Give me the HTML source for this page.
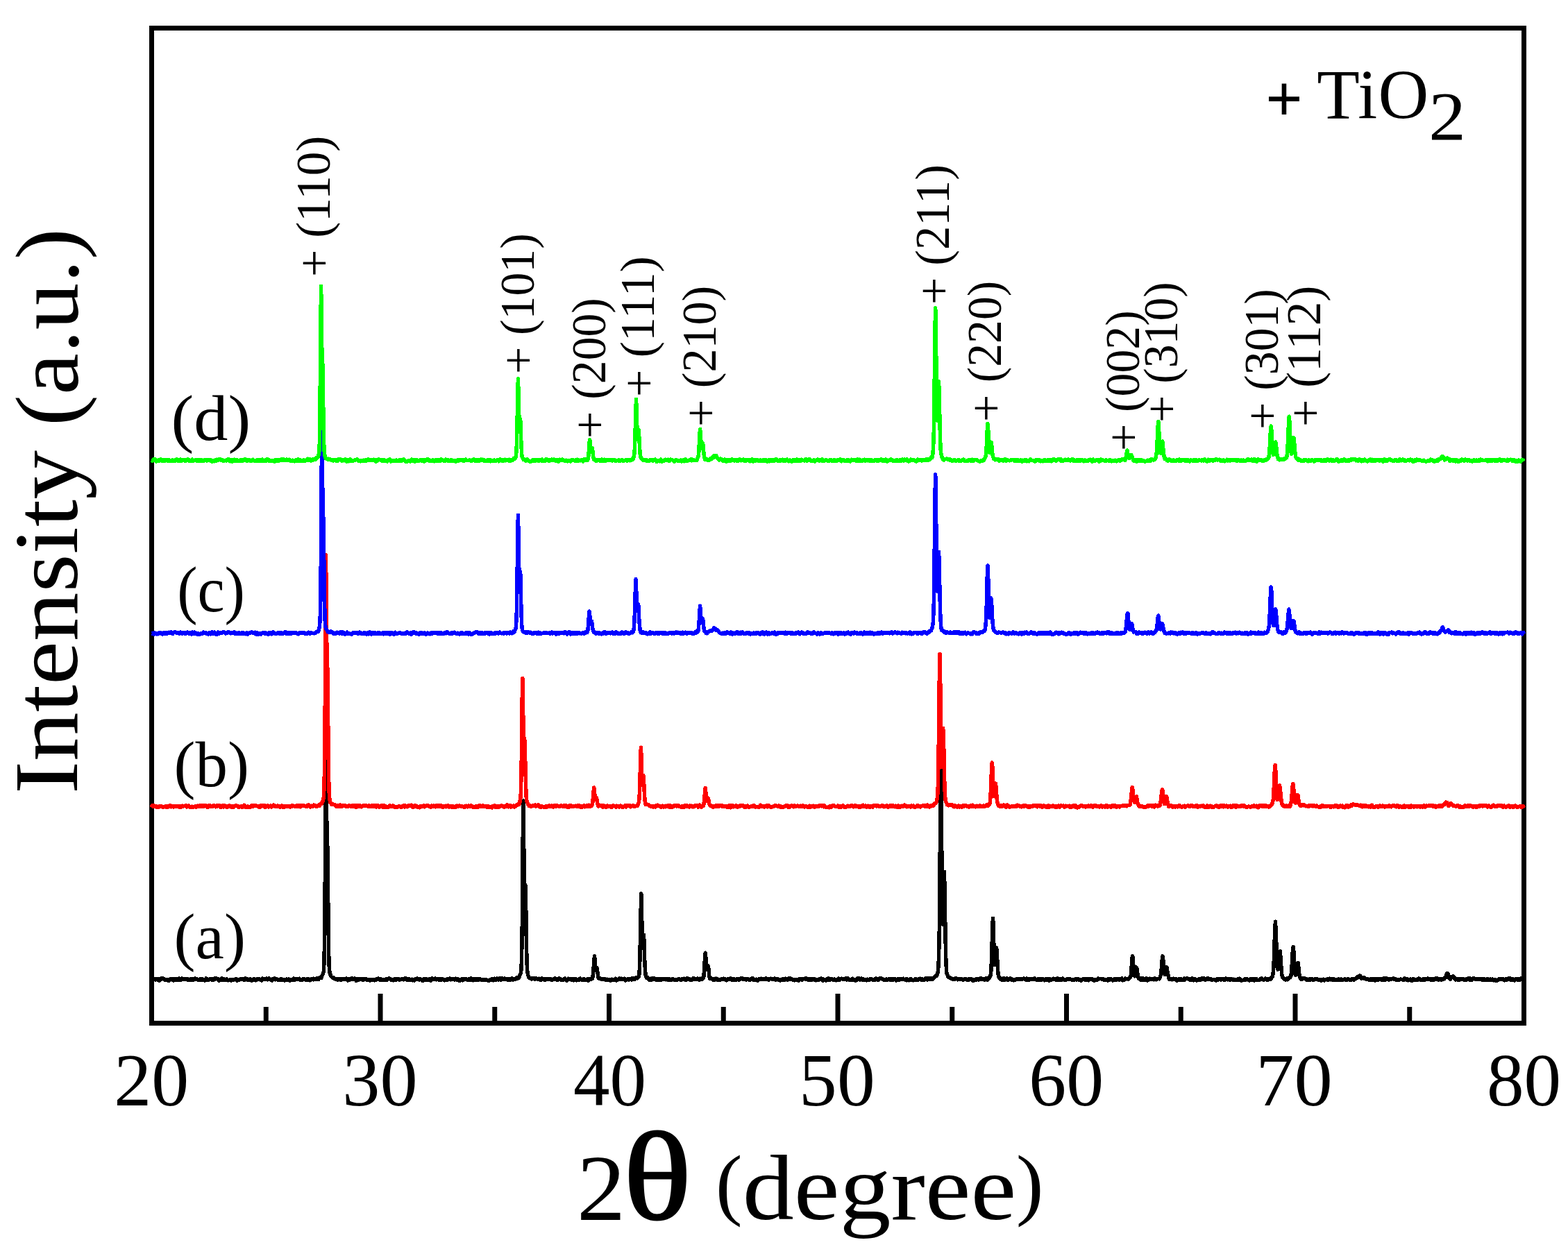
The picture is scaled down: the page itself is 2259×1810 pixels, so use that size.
<!DOCTYPE html><html><head><meta charset="utf-8"><style>html,body{margin:0;padding:0;background:#fff;}svg{display:block}text{font-family:"Liberation Serif",serif;fill:#000}</style></head><body>
<svg width="2259" height="1810" viewBox="0 0 2259 1810">
<rect width="2259" height="1810" fill="#fff"/>
<rect x="218.5" y="40.5" width="1977" height="1434" fill="none" stroke="#000" stroke-width="7"/>
<path d="M218.5 1411.4l0.7 0.6 0.6 0.6 0.7 -0.8 0.6 -0.2 0.7 -0.1 0.7 -0.7 0.6 0.6 0.7 0.7 0.6 -0.1 0.7 -1.4 0.6 -0.3 0.7 0.3 0.7 1.5 0.6 -0.2 0.7 -1 0.6 1.8 0.7 0.5 0.7 -0.8 0.6 -0.8 0.7 -1.3 0.6 -0.3 0.7 0.8 0.7 -0.6 0.6 -0.1 0.7 0.1 0.6 -0.1 0.7 0.9 0.7 0.6 0.6 0.7 0.7 -0.4 0.6 0 0.7 -0.2 0.6 0.2 0.7 -0.6 0.7 0 0.6 1.7 0.7 0.4 0.6 -0.5 0.7 -0.8 0.7 -1.1 0.6 -0.5 0.7 -0.1 0.6 0.1 0.7 1.2 0.7 0.1 0.6 0.4 0.7 -0.3 0.6 0.9 0.7 -0.5 0.6 -2 0.7 0.4 0.7 1.6 0.6 -0.1 0.7 0.4 0.6 -1.3 0.7 -0.9 0.7 1.3 0.6 0.4 0.7 -1.3 0.6 -0.7 0.7 1 0.7 1.6 0.6 -0.5 0.7 -1.7 0.6 -0.3 0.7 -0.3 0.7 0.4 0.6 1.3 0.7 -0.6 0.6 0.3 0.7 -0.1 0.6 -0.3 0.7 0.6 0.7 -0.6 0.6 0.3 0.7 -0.6 0.6 0.1 0.7 -0.2 0.7 0.6 0.6 1.6 0.7 -0.2 0.6 -0.9 0.7 0.5 0.7 -1.1 0.6 0.3 0.7 1.1 0.6 -0.6 0.7 -0.8 0.7 1.1 0.6 -1.1 0.7 -0.1 0.6 0.9 0.7 -0.7 0.6 -0.6 0.7 -0.6 0.7 0.3 0.6 0.9 0.7 -0.1 0.6 0.4 0.7 -0.2 0.7 0.5 0.6 0.9 0.7 -0.7 0.6 0.1 0.7 0.2 0.7 -1.5 0.6 0 0.7 1.8 0.6 -0.1 0.7 -1.5 0.6 -0.2 0.7 1.5 0.7 0.3 0.6 -1 0.7 1.2 0.6 0.2 0.7 -0.9 0.7 -0.9 0.6 -1.1 0.7 0.4 0.6 1.6 0.7 -0.6 0.7 0.2 0.6 -0.3 0.7 0.9 0.6 -0.4 0.7 -1 0.7 -0.1 0.6 0.7 0.7 -1 0.6 0.1 0.7 1.2 0.6 0.8 0.7 -0.6 0.7 -0.5 0.6 0.7 0.7 -1.4 0.6 -0.9 0.7 0.7 0.7 0.3 0.6 -0.7 0.7 0.1 0.6 0.8 0.7 0.3 0.7 -0.8 0.6 0.7 0.7 1.6 0.6 0.4 0.7 -0.8 0.7 -0.2 0.6 -0.6 0.7 -1.3 0.6 -0.7 0.7 0.6 0.6 2.1 0.7 0.4 0.7 -0.3 0.6 -1.6 0.7 0.6 0.6 0.4 0.7 0.1 0.7 -0.3 0.6 0.6 0.7 -1.3 0.6 0.5 0.7 1.1 0.7 0.4 0.6 -0.3 0.7 -0.2 0.6 0.3 0.7 0 0.6 -1.1 0.7 0.6 0.7 0.8 0.6 -0.3 0.7 -0.9 0.6 0.7 0.7 0.2 0.7 -0.6 0.6 -0.3 0.7 -0.4 0.6 0.3 0.7 -0.2 0.7 -0.9 0.6 1.3 0.7 1.3 0.6 -0.2 0.7 -0.7 0.7 -0.7 0.6 0.5 0.7 -0.3 0.6 -0.1 0.7 0.2 0.6 -1 0.7 0.5 0.7 -0.8 0.6 0.7 0.7 0 0.6 -0.3 0.7 0.8 0.7 -0.1 0.6 0.4 0.7 0.3 0.6 -1.6 0.7 -0.9 0.7 0.8 0.6 0.8 0.7 -0.9 0.6 0.1 0.7 1.7 0.6 -0.2 0.7 -0.4 0.7 0.5 0.6 -0.8 0.7 0 0.6 -0.7 0.7 0.5 0.7 1.2 0.6 0.6 0.7 -0.4 0.6 -1.1 0.7 -0.2 0.7 -0.6 0.6 -0.4 0.7 1.1 0.6 1.1 0.7 0.2 0.7 -0.1 0.6 -0.1 0.7 -1.6 0.6 -0.6 0.7 0.5 0.6 -0.3 0.7 -0.1 0.7 0.6 0.6 0.6 0.7 -0.3 0.6 -0.1 0.7 1.3 0.7 0.3 0.6 -1.5 0.7 -1.4 0.6 0.3 0.7 1.3 0.7 -0.8 0.6 0.9 0.7 0 0.6 -0.4 0.7 0.3 0.6 -1.4 0.7 -0.1 0.7 0.6 0.6 -0.2 0.7 1.2 0.6 -0.9 0.7 -0.8 0.7 0.1 0.6 1.3 0.7 0.2 0.6 0.3 0.7 0.3 0.7 0.6 0.6 0.2 0.7 -0.9 0.6 -1.3 0.7 0.1 0.7 -0.7 0.6 -0.3 0.7 1.3 0.6 0.5 0.7 -1.1 0.6 -0.1 0.7 0.6 0.7 0.7 0.6 0 0.7 0.2 0.6 0.1 0.7 -0.4 0.7 0.7 0.6 0 0.7 -1.3 0.6 1.3 0.7 -0.3 0.7 -1.4 0.6 0.4 0.7 1 0.6 0.4 0.7 -1 0.7 0.3 0.6 0.9 0.7 0.2 0.6 -0.1 0.7 -0.9 0.6 -0.4 0.7 -0.5 0.7 1 0.6 0.5 0.7 -0.3 0.6 -0.3 0.7 -0.7 0.7 1.4 0.6 0.8 0.7 -0.3 0.6 -0.9 0.7 -0.2 0.7 -0.4 0.6 1 0.7 -0.1 0.6 -1.5 0.7 -0.8 0.6 0.8 0.7 0.7 0.7 0.4 0.6 -0.9 0.7 -0.7 0.6 0.9 0.7 -0.6 0.7 0.7 0.6 -0.8 0.7 0.2 0.6 0.8 0.7 -1.3 0.7 -0.2 0.6 1.1 0.7 0.9 0.6 0.4 0.7 -0.1 0.7 0.1 0.6 -0.5 0.7 0 0.6 -1.7 0.7 -0.1 0.6 0.7 0.7 0 0.7 0.8 0.6 0.1 0.7 -0.1 0.6 0.4 0.7 -0.6 0.7 -0.9 0.6 0.4 0.7 1.2 0.6 0 0.7 -1.2 0.7 1.1 0.6 0.5 0.7 -1 0.6 -0.6 0.7 -0.6 0.6 0.4 0.7 0.3 0.7 -0.3 0.6 -0.6 0.7 1.5 0.6 -0.5 0.7 -0.4 0.7 0.7 0.6 -0.4 0.7 -0.3 0.6 -0.1 0.7 -1.1 0.7 0.4 0.6 0.4 0.7 1.1 0.6 -0.3 0.7 -1.7 0.7 -0.5 0.6 -0.7 0.7 0.4 0.6 0.9 0.7 -0.4 0.6 -1.9 0.7 -1.9 0.7 -1.5 0.6 -1 0.7 -3.4 0.6 -11.4 0.7 -33.2 0.7 -88.4 0.6 -134.3 0.6 -70.6 0.7 66.6 0.7 68.3 0.7 12.2 0.6 35.2 0.7 71.2 0.6 54.6 0.7 22.9 0.7 8.1 0.6 2.6 0.7 1.6 0.6 1.8 0.7 0.8 0.6 0.5 0.7 0.6 0.7 0.3 0.6 -0.5 0.7 0.4 0.6 1.3 0.7 0.5 0.7 0.1 0.6 0.6 0.7 0 0.6 0 0.7 -0.9 0.7 0.9 0.6 0.7 0.7 -0.1 0.6 -1.4 0.7 0.1 0.6 1 0.7 -0.6 0.7 1.3 0.6 -0.2 0.7 -1.9 0.6 0.1 0.7 0.9 0.7 -0.9 0.6 -0.1 0.7 1.3 0.6 -0.1 0.7 0.1 0.7 -1.1 0.6 0.4 0.7 0.4 0.6 -1.3 0.7 0.3 0.7 1.6 0.6 1 0.7 -0.4 0.6 -1.7 0.7 0.4 0.6 0.8 0.7 -0.3 0.7 -0.1 0.6 -1.2 0.7 -0.7 0.6 -0.1 0.7 0.3 0.7 1.2 0.6 0.4 0.7 -0.2 0.6 -1 0.7 -0.2 0.7 0.6 0.6 1.7 0.7 0.9 0.6 -0.8 0.7 -2.1 0.6 -0.1 0.7 1.8 0.7 -0.2 0.6 0 0.7 -0.7 0.6 0 0.7 0.2 0.7 -0.1 0.6 -0.1 0.7 -0.7 0.6 1.3 0.7 0.4 0.7 -1.3 0.6 0.4 0.7 0.6 0.6 -0.8 0.7 -0.8 0.7 0.1 0.6 0.4 0.7 -0.2 0.6 1.7 0.7 0.4 0.6 -0.2 0.7 0.1 0.7 -0.6 0.6 -0.6 0.7 0.2 0.6 0.3 0.7 1 0.7 -0.5 0.6 -1 0.7 1.1 0.6 0.1 0.7 0 0.7 -0.2 0.6 -0.6 0.7 0.9 0.6 0.2 0.7 -0.4 0.7 0 0.6 -0.2 0.7 -0.7 0.6 0 0.7 -1.2 0.6 0.3 0.7 0.1 0.7 -0.7 0.6 0.7 0.7 1 0.6 -0.1 0.7 -0.4 0.7 1.2 0.6 -0.4 0.7 -0.8 0.6 0.5 0.7 0 0.7 -0.3 0.6 0.1 0.7 1.1 0.6 -0.3 0.7 -0.1 0.6 0.4 0.7 -0.2 0.7 -1.7 0.6 0.8 0.7 0.4 0.6 -1 0.7 -0.4 0.7 -0.6 0.6 0.2 0.7 0.4 0.6 -0.4 0.7 0.7 0.7 1.4 0.6 -0.4 0.7 0 0.6 0.8 0.7 -0.3 0.7 0.5 0.6 -0.4 0.7 -0.5 0.6 -1.2 0.7 0.8 0.6 0.2 0.7 -0.9 0.7 1 0.6 -0.9 0.7 -0.2 0.6 -0.2 0.7 0.7 0.7 0.1 0.6 -0.6 0.7 1.4 0.6 -0.5 0.7 -0.1 0.7 0 0.6 -0.6 0.7 0 0.6 0.7 0.7 -0.1 0.7 -0.4 0.6 0.5 0.7 -1 0.6 -0.8 0.7 0.2 0.6 -0.3 0.7 0.6 0.7 1.3 0.6 0 0.7 0.9 0.6 -0.5 0.7 -1.1 0.7 1.7 0.6 -0.1 0.7 -1.5 0.6 1 0.7 -0.5 0.7 0.2 0.6 0.6 0.7 -1.1 0.6 0.4 0.7 1.1 0.6 -0.4 0.7 -0.4 0.7 0.9 0.6 -0.1 0.7 -1.1 0.6 -1 0.7 0.7 0.7 -0.2 0.6 -0.9 0.7 -0.2 0.6 0.8 0.7 -0.4 0.7 0.7 0.6 0.6 0.7 -0.5 0.6 -0.4 0.7 0.5 0.7 0.2 0.6 0.5 0.7 0.1 0.6 0.9 0.7 0.1 0.6 -1 0.7 -1.5 0.7 -0.1 0.6 1.8 0.7 0.2 0.6 -0.7 0.7 -0.9 0.7 -0.1 0.6 0.9 0.7 0.1 0.6 0 0.7 0.2 0.7 -0.1 0.6 -1.3 0.7 0.3 0.6 1.8 0.7 0.4 0.6 -0.8 0.7 -2.1 0.7 -0.5 0.6 0.7 0.7 0.7 0.6 0.2 0.7 -0.8 0.7 0.3 0.6 -0.8 0.7 0.1 0.6 1.4 0.7 0.3 0.7 -0.2 0.6 -0.4 0.7 -0.2 0.6 -0.5 0.7 0.5 0.7 1.1 0.6 0 0.7 -1.8 0.6 0 0.7 1.6 0.6 0.3 0.7 -0.3 0.7 -1.1 0.6 -0.1 0.7 0.3 0.6 0.8 0.7 -0.4 0.7 0.7 0.6 0.5 0.7 -1.2 0.6 0.2 0.7 0.8 0.7 0.2 0.6 -1.2 0.7 -0.7 0.6 -0.1 0.7 1 0.7 -1.3 0.6 -0.3 0.7 1.2 0.6 0.3 0.7 0.2 0.6 -0.4 0.7 0.2 0.7 -1.2 0.6 0.1 0.7 0.8 0.6 -0.9 0.7 0.4 0.7 1.2 0.6 0 0.7 -1.2 0.6 -0.5 0.7 0.7 0.7 0.8 0.6 -0.8 0.7 -0.4 0.6 1.1 0.7 0.5 0.6 0.7 0.7 0.4 0.7 -0.5 0.6 -0.9 0.7 0.1 0.6 -0.9 0.7 -0.3 0.7 0.6 0.6 1.4 0.7 -0.2 0.6 -1.5 0.7 -0.3 0.7 0.1 0.6 0 0.7 0.1 0.6 -0.2 0.7 -0.1 0.7 0.9 0.6 0.7 0.7 -0.2 0.6 0.3 0.7 -0.8 0.6 -0.7 0.7 1.3 0.7 0.3 0.6 -1.7 0.7 -0.7 0.6 1 0.7 0.5 0.7 0.5 0.6 0.7 0.7 -0.3 0.6 -0.5 0.7 -1.3 0.7 0.8 0.6 0.4 0.7 -1.6 0.6 0 0.7 1.7 0.6 0.3 0.7 -1.4 0.7 0.2 0.6 -0.2 0.7 1 0.6 -0.1 0.7 -1.1 0.7 0.1 0.6 1.1 0.7 0 0.6 0.1 0.7 -0.7 0.7 0 0.6 1.3 0.7 -0.3 0.6 -0.7 0.7 0.1 0.7 0.5 0.6 0.3 0.7 0.1 0.6 -0.8 0.7 0.5 0.6 0.1 0.7 0.3 0.7 0.1 0.6 0 0.7 0.3 0.6 -0.1 0.7 -0.8 0.7 -0.4 0.6 0.4 0.7 0.1 0.6 -0.9 0.7 -0.5 0.7 -0.2 0.6 1.4 0.7 0.6 0.6 -1.5 0.7 -1 0.7 0.1 0.6 0.5 0.7 0.4 0.6 0.8 0.7 -1.5 0.6 -0.3 0.7 0.2 0.7 1.3 0.6 0.2 0.7 -1.5 0.6 -0.4 0.7 1 0.7 0.9 0.6 0.2 0.7 -1.9 0.6 -0.5 0.7 0.3 0.7 0.1 0.6 0.5 0.7 1.1 0.6 -0.2 0.7 -1.1 0.6 -0.3 0.7 0.1 0.7 0.3 0.6 1 0.7 -0.5 0.6 0.4 0.7 0.6 0.7 -0.8 0.6 -0.3 0.7 1.4 0.6 0.1 0.7 -1.3 0.7 0.3 0.6 0.8 0.7 -1.1 0.6 -1.2 0.7 0 0.7 2 0.6 0 0.7 -1.1 0.6 -0.1 0.7 -0.2 0.6 -0.1 0.7 1.2 0.7 -0.7 0.6 -1.7 0.7 -0.7 0.6 0.7 0.7 0.2 0.7 0.6 0.6 -0.4 0.7 -1.3 0.6 -1.9 0.7 -1.3 0.7 -1.2 0.6 -2 0.7 -4.9 0.6 -18.3 0.7 -46.5 0.6 -82.9 0.7 -82.4 0.3 -12.8 0.4 14.3 0.6 71.9 0.7 48.9 0.6 -1 0.7 -13.2 0.7 24.9 0.6 45.4 0.7 35.2 0.6 17.2 0.7 5.1 0.7 2.7 0.6 2 0.7 1.7 0.6 0.3 0.7 0.4 0.7 -0.4 0.6 0.7 0.7 0.1 0.6 0.5 0.7 -0.9 0.6 0.7 0.7 -0.5 0.7 0.4 0.6 0 0.7 -0.3 0.6 1 0.7 -0.7 0.7 -0.6 0.6 -0.3 0.7 0.5 0.6 0.9 0.7 0.5 0.7 -0.4 0.6 0 0.7 -0.9 0.6 0.3 0.7 0.9 0.6 1.2 0.7 0 0.7 -1.1 0.6 -1.5 0.7 0.7 0.6 0.8 0.7 -0.7 0.7 0.4 0.6 -0.4 0.7 -0.4 0.6 2 0.7 -0.2 0.7 -1.3 0.6 0.3 0.7 -0.4 0.6 0.1 0.7 0.3 0.7 -0.5 0.6 0 0.7 0.4 0.6 0.4 0.7 -0.9 0.6 0 0.7 1 0.7 -0.1 0.6 0.9 0.7 -0.3 0.6 -0.2 0.7 -0.5 0.7 0.3 0.6 -1.4 0.7 -0.5 0.6 0.4 0.7 1.5 0.7 0.1 0.6 -1.1 0.7 0.5 0.6 1.1 0.7 -0.7 0.7 -1.4 0.6 -0.1 0.7 -0.1 0.6 0.1 0.7 0.4 0.6 0.1 0.7 1.5 0.7 -0.5 0.6 -0.1 0.7 0.5 0.6 0.5 0.7 -0.1 0.7 -1.1 0.6 -0.5 0.7 -0.1 0.6 -0.6 0.7 0.8 0.7 1.4 0.6 0.8 0.7 -0.4 0.6 -0.5 0.7 -0.8 0.6 -1.2 0.7 0.3 0.7 0.5 0.6 0.4 0.7 -0.9 0.6 0.3 0.7 0.8 0.7 0.8 0.6 0.2 0.7 -0.9 0.6 -0.8 0.7 1.3 0.7 0.5 0.6 -0.9 0.7 -0.7 0.6 -0.1 0.7 -0.3 0.7 1.4 0.6 0.7 0.7 -0.7 0.6 0.2 0.7 -0.1 0.6 -0.9 0.7 1.1 0.7 -0.5 0.6 -1.5 0.7 -0.5 0.6 0.6 0.7 1 0.7 0.3 0.6 -0.3 0.7 0.7 0.6 -0.8 0.7 -0.5 0.7 -0.1 0.6 1.1 0.7 -0.7 0.6 0.9 0.7 -0.3 0.6 -0.2 0.7 -0.3 0.7 -0.2 0.6 1.4 0.7 0.6 0.6 -0.6 0.7 -1.1 0.7 -0.9 0.6 0.9 0.7 -0.3 0.6 0.4 0.7 -1 0.7 0.2 0.6 -0.1 0.7 -2.3 0.6 -3.5 0.7 -8.6 0.7 -11.7 0.7 -6.8 0.6 6.4 0.6 9.9 0.7 4.2 0.6 -1.9 0.7 -1.8 0.7 2.4 0.6 5.1 0.7 5.2 0.6 2.6 0.7 -0.7 0.7 0.4 0.6 0.7 0.7 -0.2 0.6 0.5 0.7 0.4 0.7 -0.5 0.6 0.4 0.7 -0.1 0.6 0.4 0.7 -0.1 0.7 0.1 0.6 -0.7 0.7 0.7 0.6 -0.1 0.7 1.3 0.6 -0.3 0.7 -0.7 0.7 -0.1 0.6 0.6 0.7 0.4 0.6 0.2 0.7 -0.2 0.7 -0.2 0.6 0.9 0.7 0.1 0.6 -0.5 0.7 -1.1 0.7 -0.2 0.6 0.6 0.7 0.7 0.6 -0.7 0.7 -0.4 0.6 0.2 0.7 0.6 0.7 -1.3 0.6 -0.6 0.7 1.6 0.6 0.9 0.7 -0.4 0.7 -0.4 0.6 -0.1 0.7 -0.7 0.6 -0.1 0.7 -1 0.7 -0.1 0.6 0.9 0.7 0.4 0.6 -0.6 0.7 -0.4 0.7 1.2 0.6 -0.1 0.7 -0.8 0.6 0 0.7 0.1 0.6 -0.5 0.7 0.2 0.7 2 0.6 0.6 0.7 -0.6 0.6 -0.1 0.7 -0.6 0.7 0 0.6 -0.7 0.7 0.7 0.6 0.2 0.7 0 0.7 -1.1 0.6 0.5 0.7 -0.8 0.6 0.8 0.7 0.5 0.7 -1.8 0.6 -0.2 0.7 0.3 0.6 -0.2 0.7 0 0.6 1.7 0.7 0.1 0.7 -1.3 0.6 -0.4 0.7 -0.1 0.6 -1.4 0.7 -0.1 0.7 1.3 0.6 -1.2 0.7 -0.6 0.6 -0.4 0.7 -4.4 0.7 -13.8 0.6 -28.5 0.7 -40.8 0.8 -32.1 0.5 11.8 0.6 35.1 0.7 25.8 0.7 0.2 0.6 -12.6 0.7 -0.8 0.6 19.7 0.7 21 0.7 11.7 0.6 5.9 0.7 2 0.6 1.6 0.7 -1 0.7 0.4 0.6 1.5 0.7 0.2 0.6 1.2 0.7 0.5 0.7 -0.8 0.6 -1.1 0.7 1.2 0.6 0.8 0.7 -1.3 0.6 -1.2 0.7 0.2 0.7 0.7 0.6 0.7 0.7 -1 0.6 -0.4 0.7 0.5 0.7 1.3 0.6 0.3 0.7 -0.7 0.6 0.6 0.7 0.6 0.7 -0.9 0.6 -1.1 0.7 0.5 0.6 1.4 0.7 -0.5 0.6 -0.9 0.7 0.2 0.7 -0.3 0.6 1.3 0.7 -0.6 0.6 -0.2 0.7 -0.3 0.7 -0.7 0.6 0.7 0.7 -0.4 0.6 0.1 0.7 0.8 0.7 -1.2 0.6 0.3 0.7 1 0.6 -0.9 0.7 -0.1 0.7 0.4 0.6 -0.1 0.7 1.6 0.6 0 0.7 -2 0.6 0.5 0.7 0.8 0.7 -0.2 0.6 0.7 0.7 -0.9 0.6 -0.8 0.7 0.7 0.7 0.3 0.6 -0.4 0.7 0.7 0.6 0.3 0.7 -0.6 0.7 0.1 0.6 0.7 0.7 -0.3 0.6 -0.2 0.7 0.3 0.7 -1.1 0.6 0.4 0.7 -0.7 0.6 0.3 0.7 -0.4 0.6 0.5 0.7 1 0.7 0.3 0.6 -0.4 0.7 -1.2 0.6 0 0.7 -0.2 0.7 0.6 0.6 -0.3 0.7 -0.7 0.6 1.1 0.7 0.6 0.7 0 0.6 0.1 0.7 -1.5 0.6 -0.8 0.7 0 0.6 1.1 0.7 0.2 0.7 -0.2 0.6 0 0.7 0.6 0.6 -0.7 0.7 1.2 0.7 -0.1 0.6 -0.2 0.7 0.2 0.6 -1.3 0.7 -0.6 0.7 0.1 0.6 -0.3 0.7 0.7 0.6 0.9 0.7 -0.2 0.7 -0.4 0.6 0.1 0.7 -0.4 0.6 0.9 0.7 -1 0.6 -0.4 0.7 0.3 0.7 1.3 0.6 0.7 0.7 -0.6 0.6 -1.6 0.7 0.1 0.7 0 0.6 0.1 0.7 0.8 0.6 -1.6 0.7 0.1 0.7 0.1 0.6 -3.2 0.7 -9 0.6 -11.3 0.7 -10.1 0.3 -3.1 0.3 2.3 0.7 11.2 0.7 8.3 0.6 2.7 0.7 -2.8 0.6 -3.4 0.7 1.2 0.7 6.5 0.6 7.6 0.7 3.3 0.6 0.6 0.7 -0.7 0.7 0.1 0.6 0.6 0.7 -0.2 0.6 0.7 0.7 1 0.7 -1 0.6 0 0.7 1.3 0.6 -0.8 0.7 -1.4 0.6 0.6 0.7 0.5 0.7 -1.1 0.6 0.6 0.7 1.2 0.6 0.5 0.7 -0.3 0.7 0.2 0.6 -0.9 0.7 -0.1 0.6 0.7 0.7 -0.5 0.7 0.2 0.6 -1 0.7 -0.3 0.6 0.1 0.7 0.4 0.6 -0.6 0.7 -0.2 0.7 0.3 0.6 0.5 0.7 -0.1 0.6 0.7 0.7 1.2 0.7 -0.2 0.6 -0.3 0.7 -1.4 0.6 -0.3 0.7 -0.1 0.7 1 0.6 -0.4 0.7 -0.7 0.6 -0.6 0.7 0.3 0.7 0.4 0.6 0.9 0.7 1.2 0.6 -0.4 0.7 -1.2 0.6 -0.4 0.7 0.3 0.7 1.3 0.6 -0.5 0.7 0.5 0.6 0.4 0.7 -0.3 0.7 -1.8 0.6 0 0.7 0.2 0.6 0 0.7 1.2 0.7 -0.3 0.6 0.4 0.7 -0.6 0.6 -1.1 0.7 0.3 0.7 -0.3 0.6 -0.5 0.7 0.5 0.6 0.7 0.7 -0.8 0.6 0.4 0.7 0.6 0.7 0 0.6 -0.4 0.7 0.7 0.6 -0.3 0.7 0.8 0.7 -0.2 0.6 -1.3 0.7 -0.2 0.6 0.6 0.7 0.9 0.7 -0.5 0.6 0.1 0.7 0.7 0.6 -1.2 0.7 -0.3 0.6 0.1 0.7 -0.4 0.7 -0.6 0.6 0.3 0.7 1.5 0.6 0.5 0.7 0.7 0.7 0.1 0.6 -1.3 0.7 0.6 0.6 0.3 0.7 -1.1 0.7 0.6 0.6 0.5 0.7 0.7 0.6 -0.5 0.7 -1.4 0.7 0.1 0.6 -0.8 0.7 0.4 0.6 -0.1 0.7 -0.6 0.6 0.5 0.7 0.3 0.7 0.2 0.6 -0.6 0.7 -0.2 0.6 0.5 0.7 0.2 0.7 -0.3 0.6 0.6 0.7 -0.8 0.6 -0.5 0.7 0.6 0.7 0.2 0.6 -0.3 0.7 1 0.6 0.5 0.7 -0.1 0.7 -0.4 0.6 -1.2 0.7 0.3 0.6 0 0.7 -0.5 0.6 0.3 0.7 -0.2 0.7 0.9 0.6 0.5 0.7 -0.4 0.6 -0.5 0.7 -0.5 0.7 -0.3 0.6 1 0.7 1.4 0.6 -0.6 0.7 -0.7 0.7 0.3 0.6 -0.6 0.7 0.4 0.6 0.9 0.7 0.5 0.6 -1 0.7 0.3 0.7 1 0.6 -0.3 0.7 -0.5 0.6 -0.3 0.7 -0.5 0.7 -0.3 0.6 0.1 0.7 1.3 0.6 0.2 0.7 -0.7 0.7 0.1 0.6 -1.6 0.7 -0.2 0.6 0.8 0.7 -0.1 0.7 0.5 0.6 0.9 0.7 -1.5 0.6 -0.6 0.7 0.5 0.6 0.8 0.7 -0.9 0.7 -0.6 0.6 1.1 0.7 -0.1 0.6 -0.3 0.7 0.7 0.7 0.5 0.6 -0.1 0.7 0.1 0.6 0.1 0.7 0.8 0.7 0 0.6 -1.5 0.7 0 0.6 0.9 0.7 -0.7 0.6 0.5 0.7 0.3 0.7 0.2 0.6 0.6 0.7 -0.7 0.6 -1.4 0.7 0.5 0.7 0.1 0.6 -0.1 0.7 -0.5 0.6 0 0.7 1 0.7 -0.4 0.6 -1 0.7 -0.1 0.6 0.1 0.7 -0.1 0.7 0.4 0.6 -0.7 0.7 -0.5 0.6 0 0.7 0.6 0.6 1 0.7 -0.7 0.7 0.7 0.6 0.8 0.7 -0.7 0.6 -0.5 0.7 1.5 0.7 -0.1 0.6 -1.8 0.7 0 0.6 1 0.7 0.6 0.7 -0.5 0.6 0.1 0.7 -0.5 0.6 0.5 0.7 -0.6 0.6 0 0.7 1.2 0.7 0.5 0.6 -0.1 0.7 -0.8 0.6 -0.4 0.7 0.5 0.7 0.2 0.6 0.5 0.7 -0.5 0.6 -1.5 0.7 0.3 0.7 0.6 0.6 -0.9 0.7 -0.6 0.6 0 0.7 1.6 0.7 1.4 0.6 -0.4 0.7 -1.6 0.6 0.5 0.7 -0.1 0.6 0.2 0.7 0 0.7 1.2 0.6 -0.2 0.7 -1.8 0.6 0.4 0.7 -1 0.7 -0.5 0.6 1 0.7 1.5 0.6 0.3 0.7 -1.8 0.7 -0.5 0.6 -0.1 0.7 1 0.6 0.2 0.7 -0.4 0.7 0.1 0.6 1.3 0.7 0 0.6 -1.3 0.7 0 0.6 0.8 0.7 0.7 0.7 0.2 0.6 -1 0.7 0.1 0.6 0.1 0.7 0 0.7 -1.4 0.6 -0.6 0.7 0.6 0.6 1.4 0.7 -0.8 0.7 -0.3 0.6 -0.5 0.7 -0.1 0.6 -0.1 0.7 0.7 0.6 -0.2 0.7 0.6 0.7 -0.5 0.6 -0.2 0.7 0.5 0.6 -0.2 0.7 -0.5 0.7 -0.6 0.6 0.5 0.7 1.6 0.6 -0.9 0.7 -1 0.7 0.3 0.6 1.3 0.7 0.9 0.6 -1 0.7 0.6 0.7 -0.4 0.6 -0.2 0.7 0.6 0.6 -1 0.7 -0.8 0.6 1.1 0.7 0.6 0.7 -0.3 0.6 -0.3 0.7 1.3 0.6 0.5 0.7 -0.2 0.7 -1 0.6 0.5 0.7 -0.5 0.6 -1.5 0.7 -0.8 0.7 0.2 0.6 0 0.7 0.1 0.6 1 0.7 0.8 0.7 -0.6 0.6 -0.3 0.7 -0.9 0.6 0.7 0.7 1.3 0.6 -1.3 0.7 0.7 0.7 1.1 0.6 0.2 0.7 -0.5 0.6 -0.5 0.7 0.7 0.7 0.4 0.6 0 0.7 -0.2 0.6 -1.3 0.7 0.9 0.7 -0.4 0.6 -0.1 0.7 -0.3 0.6 0.5 0.7 -1.2 0.6 0.3 0.7 -0.2 0.7 0 0.6 0.4 0.7 0.8 0.6 0.3 0.7 -0.8 0.7 0.1 0.6 -0.6 0.7 0.1 0.6 1 0.7 -1.1 0.7 -0.8 0.6 0.7 0.7 0.8 0.6 -0.6 0.7 0.8 0.7 0 0.6 -0.2 0.7 -1.2 0.6 -0.6 0.7 0.2 0.6 0.6 0.7 0 0.7 -0.5 0.6 0.8 0.7 0.1 0.6 -0.1 0.7 0.8 0.7 0.6 0.6 -1 0.7 0.6 0.6 -0.5 0.7 0.1 0.7 -0.5 0.6 1.2 0.7 -0.2 0.6 0.2 0.7 -1.2 0.6 0.1 0.7 0.4 0.7 -1 0.6 0.2 0.7 1.3 0.6 0.5 0.7 -1.5 0.7 -0.7 0.6 0.8 0.7 1.1 0.6 -1.2 0.7 0.3 0.7 0 0.6 0.1 0.7 -0.6 0.6 0.9 0.7 1 0.7 0 0.6 -0.7 0.7 -0.5 0.6 -0.3 0.7 -0.5 0.6 1.3 0.7 0 0.7 -0.5 0.6 0.1 0.7 -0.4 0.6 -0.5 0.7 -0.1 0.7 0.8 0.6 0.2 0.7 -0.6 0.6 -0.8 0.7 1 0.7 0.1 0.6 0.3 0.7 0.4 0.6 0.2 0.7 -1.5 0.6 0.6 0.7 1.4 0.7 -0.6 0.6 -0.9 0.7 0.9 0.6 0.5 0.7 -0.9 0.7 0.1 0.6 -0.8 0.7 1.2 0.6 -0.8 0.7 -0.5 0.7 1.1 0.6 0.3 0.7 0.4 0.6 0 0.7 -0.4 0.7 -0.4 0.6 0.2 0.7 -1.3 0.6 1.1 0.7 -0.1 0.6 -0.8 0.7 0.7 0.7 -0.4 0.6 0.2 0.7 0.3 0.6 -1.3 0.7 -0.1 0.7 0.5 0.6 -0.7 0.7 0.9 0.6 0.7 0.7 -0.7 0.7 -0.5 0.6 1.3 0.7 0.5 0.6 -0.4 0.7 -0.3 0.7 0.6 0.6 -0.6 0.7 -1.5 0.6 -0.3 0.7 -0.6 0.6 -0.1 0.7 1.1 0.7 1.5 0.6 -0.3 0.7 -1.8 0.6 -0.3 0.7 0.9 0.7 1 0.6 0 0.7 -0.3 0.6 -1.1 0.7 0.8 0.7 -1 0.6 0.5 0.7 0.7 0.6 -0.9 0.7 -1.3 0.6 0.3 0.7 -0.9 0.7 -1.4 0.6 -0.1 0.7 -0.2 0.6 -0.5 0.7 -1.6 0.7 -1.1 0.6 -2.9 0.7 -7.5 0.6 -16 0.7 -36 0.7 -69 0.6 -91.8 0.7 -67.3 0.2 -4.2 0.4 19 0.7 78.2 0.7 80.7 0.6 45.4 0.7 0 0.6 -31.8 0.7 -37.4 0.6 -6.3 0.7 34.4 0.7 46 0.6 36 0.7 19.5 0.6 9 0.7 2.8 0.7 1.5 0.6 1.6 0.7 1.4 0.6 -0.3 0.7 0.5 0.7 -0.2 0.6 0.5 0.7 0.3 0.6 0.9 0.7 -0.3 0.7 0.9 0.6 0 0.7 -0.2 0.6 0.7 0.7 -0.6 0.6 0.4 0.7 -0.2 0.7 -0.7 0.6 -0.8 0.7 0.5 0.6 0.2 0.7 0.7 0.7 0.9 0.6 -0.8 0.7 0.4 0.6 0 0.7 -1 0.7 -0.1 0.6 0.1 0.7 1.1 0.6 -0.8 0.7 -0.1 0.6 0.3 0.7 1.2 0.7 0.3 0.6 -0.7 0.7 -0.7 0.6 -0.5 0.7 1 0.7 -1.1 0.6 0 0.7 0.6 0.6 0.8 0.7 -0.1 0.7 -0.4 0.6 1.2 0.7 -0.2 0.6 -1.8 0.7 0.7 0.7 0 0.6 -0.3 0.7 0 0.6 0 0.7 0.7 0.6 0.5 0.7 0.8 0.7 0.4 0.6 -0.5 0.7 -1.1 0.6 0.4 0.7 0 0.7 0.2 0.6 0 0.7 -1.8 0.6 0.2 0.7 0.4 0.7 0.2 0.6 -0.2 0.7 0.9 0.6 -1.2 0.7 -0.5 0.6 -0.2 0.7 0.7 0.7 0.5 0.6 -1.3 0.7 0.1 0.6 1.2 0.7 0.4 0.7 -0.1 0.6 -0.7 0.7 0.9 0.6 0.2 0.7 -0.5 0.7 -1.4 0.6 -0.1 0.7 -0.3 0.6 1.7 0.7 0.8 0.7 -1 0.6 -2.1 0.7 -0.1 0.6 0.4 0.7 -0.8 0.6 -1.5 0.7 -1.4 0.7 -6.3 0.6 -12.8 0.7 -21.7 0.6 -25.1 0.8 -16.5 0.6 8.6 0.6 24.4 0.7 22.1 0.6 12 0.7 -0.9 0.7 -9 0.6 -11.5 0.7 -3.4 0.6 8.8 0.7 13.3 0.7 11 0.6 6.7 0.7 2.1 0.6 1.9 0.7 0.1 0.6 1.5 0.7 -0.3 0.7 -0.4 0.6 0.8 0.7 1 0.6 0.1 0.7 -1.6 0.7 -1.2 0.6 0.6 0.7 1.7 0.6 0.4 0.7 -0.5 0.7 -1.1 0.6 0.1 0.7 -0.9 0.6 0 0.7 1.1 0.6 1.6 0.7 -0.1 0.7 -0.4 0.6 -1.5 0.7 0 0.6 -0.4 0.7 0 0.7 0.5 0.6 1.4 0.7 -0.6 0.6 0 0.7 0.8 0.7 0.7 0.6 0.1 0.7 -1 0.6 -0.1 0.7 0.5 0.7 -1 0.6 -0.3 0.7 0.6 0.6 -0.7 0.7 -0.1 0.6 0.3 0.7 0.1 0.7 -0.2 0.6 0.1 0.7 -0.2 0.6 -0.4 0.7 1 0.7 -0.9 0.6 0.6 0.7 0.3 0.6 -0.5 0.7 -0.7 0.7 -0.2 0.6 0.5 0.7 0.2 0.6 0.2 0.7 0 0.6 0.8 0.7 -0.6 0.7 -1.1 0.6 1.1 0.7 0.9 0.6 -1.4 0.7 1 0.7 0.9 0.6 -1 0.7 -0.1 0.6 -0.5 0.7 -0.1 0.7 0.7 0.6 0 0.7 -0.5 0.6 0.2 0.7 0.4 0.7 0 0.6 -1.5 0.7 -0.3 0.6 0.4 0.7 0.6 0.6 1 0.7 -0.1 0.7 0.4 0.6 -0.9 0.7 -0.3 0.6 0.4 0.7 -0.4 0.7 1.6 0.6 0 0.7 -1.4 0.6 -0.1 0.7 1.3 0.7 0.2 0.6 -0.9 0.7 -1 0.6 0.7 0.7 -0.7 0.6 0.7 0.7 0.7 0.7 0.6 0.6 -0.9 0.7 -1.1 0.6 1.7 0.7 0.1 0.7 -1 0.6 -1 0.7 1.1 0.6 0 0.7 0.7 0.7 0.9 0.6 -0.6 0.7 -1.6 0.6 0.8 0.7 0 0.7 0.1 0.6 -0.6 0.7 -0.1 0.6 -0.3 0.7 -0.6 0.6 0.6 0.7 0.7 0.7 -1.3 0.6 0.1 0.7 1.7 0.6 0.1 0.7 -0.8 0.7 -1.2 0.6 -0.2 0.7 1.1 0.6 1.4 0.7 -0.1 0.7 -0.1 0.6 -1.3 0.7 0 0.6 0.8 0.7 0.2 0.7 -0.9 0.6 1 0.7 -0.8 0.6 -1.1 0.7 0.6 0.6 0.5 0.7 0.9 0.7 0.5 0.6 -0.7 0.7 -0.1 0.6 -0.3 0.7 0.2 0.7 -0.9 0.6 0.6 0.7 -0.6 0.6 0.3 0.7 -0.5 0.7 -0.1 0.6 -0.2 0.7 0.5 0.6 0.7 0.7 -0.1 0.6 -0.2 0.7 0.6 0.7 0.4 0.6 -0.8 0.7 0.1 0.6 0.3 0.7 0.6 0.7 -0.9 0.6 0 0.7 -0.8 0.6 0 0.7 1.1 0.7 -0.2 0.6 -1.1 0.7 -0.1 0.6 1.3 0.7 -0.2 0.7 0.3 0.6 -0.3 0.7 0.2 0.6 0.3 0.7 1 0.6 -0.2 0.7 -1.2 0.7 -0.5 0.6 -0.2 0.7 0.6 0.6 -1.1 0.7 0.4 0.7 0.9 0.6 -1 0.7 0.8 0.6 0.3 0.7 -0.4 0.7 -0.7 0.6 0 0.7 1.7 0.6 0.3 0.7 -0.7 0.7 -1.1 0.6 0.6 0.7 -0.8 0.6 -0.3 0.7 0.9 0.6 0.1 0.7 -0.7 0.7 1.1 0.6 0.3 0.7 0.7 0.6 0.1 0.7 -0.8 0.7 -0.5 0.6 1 0.7 -0.5 0.6 -0.8 0.7 1 0.7 -0.3 0.6 -1.2 0.7 -0.7 0.6 -0.1 0.7 0.9 0.6 -0.3 0.7 -0.2 0.7 -0.1 0.6 -0.1 0.7 0.6 0.6 -0.2 0.7 -0.1 0.7 0.1 0.6 0.9 0.7 0.5 0.6 -0.9 0.7 1.2 0.7 0.3 0.6 -0.6 0.7 -0.2 0.6 0.2 0.7 -0.2 0.7 0.3 0.6 0.7 0.7 -0.6 0.6 -1.6 0.7 -0.2 0.6 1.6 0.7 -0.4 0.7 0.1 0.6 -0.8 0.7 0 0.6 0.3 0.7 1 0.7 0.5 0.6 -0.9 0.7 -0.4 0.6 -0.6 0.7 0.1 0.7 1 0.6 -0.8 0.7 1.1 0.6 -0.5 0.7 -1 0.6 0.9 0.7 -0.9 0.7 0.1 0.6 0 0.7 1.2 0.6 -0.5 0.7 0.2 0.7 -1.1 0.6 0.4 0.7 -1.1 0.6 -0.1 0.7 1.6 0.7 1.3 0.6 -0.3 0.7 0.1 0.6 -0.3 0.7 -1.1 0.7 -1 0.6 0.5 0.7 -0.3 0.6 0.4 0.7 -0.1 0.6 -0.1 0.7 -0.3 0.7 0.7 0.6 -0.4 0.7 -0.6 0.6 -1 0.7 -0.1 0.7 -1.1 0.6 -3.6 0.7 -8.3 0.6 -10.6 0.7 -7.1 0.3 -0.5 0.4 2.4 0.6 8.4 0.7 9.2 0.6 6.5 0.7 2.6 0.6 -0.8 0.7 -3.9 0.7 -6.1 0.6 -2 0.7 2.2 0.6 4.7 0.7 4.4 0.7 3.3 0.6 1.8 0.7 -0.7 0.6 1.1 0.7 0.8 0.7 -1.8 0.6 0.2 0.7 2.1 0.6 0.1 0.7 -2.2 0.7 -0.1 0.6 1.9 0.7 0.2 0.6 -0.5 0.7 0.2 0.6 0.6 0.7 -0.4 0.7 -2 0.6 0.2 0.7 2 0.6 0.9 0.7 -0.5 0.7 -1.3 0.6 -0.5 0.7 -0.3 0.6 -0.2 0.7 1.2 0.7 -0.4 0.6 0.4 0.7 -0.1 0.6 -0.2 0.7 0.5 0.7 -0.5 0.6 -0.2 0.7 0.8 0.6 -1.3 0.7 -0.5 0.6 0.4 0.7 0.8 0.7 0.6 0.6 -1 0.7 -0.4 0.6 0.6 0.7 -0.5 0.7 0 0.6 -0.1 0.7 0.5 0.6 -1.7 0.7 -1.6 0.7 -2.5 0.6 -4.9 0.7 -7.4 0.6 -9.2 0.8 -5.7 0.5 2.1 0.7 7.9 0.7 9.7 0.6 5 0.7 1.7 0.6 -0.2 0.7 -2.5 0.7 -5.5 0.6 -2.4 0.7 3.3 0.6 4.7 0.7 2.9 0.7 2.6 0.6 3.1 0.7 0.9 0.6 -0.4 0.7 0.6 0.7 -0.6 0.6 -0.2 0.7 0.9 0.6 0.4 0.7 -0.2 0.6 0 0.7 -1.3 0.7 0.5 0.6 -0.2 0.7 -0.1 0.6 1.2 0.7 -1.2 0.7 0.1 0.6 1.8 0.7 0.8 0.6 -0.5 0.7 -1 0.7 0.3 0.6 -1 0.7 1 0.6 0.4 0.7 -1.7 0.6 -0.3 0.7 1.5 0.7 0.8 0.6 0 0.7 0 0.6 -1.1 0.7 -0.8 0.7 -0.6 0.6 0.7 0.7 1.1 0.6 -1.5 0.7 -0.3 0.7 0.2 0.6 -0.4 0.7 0.3 0.6 -0.1 0.7 0.1 0.7 0.9 0.6 0.4 0.7 0.3 0.6 0.3 0.7 -0.1 0.6 0.1 0.7 -1.7 0.7 -0.4 0.6 -0.1 0.7 0.8 0.6 1.5 0.7 0.4 0.7 -1.2 0.6 -1 0.7 0.3 0.6 0.5 0.7 -0.1 0.7 1.2 0.6 0.5 0.7 -1.1 0.6 0.2 0.7 0.4 0.7 -1 0.6 -0.4 0.7 1.7 0.6 -0.1 0.7 -1.7 0.6 0.7 0.7 -0.5 0.7 -1.1 0.6 0 0.7 0.6 0.6 0.9 0.7 -1 0.7 -0.7 0.6 0.8 0.7 1.4 0.6 -0.2 0.7 0 0.7 -0.6 0.6 -1 0.7 -0.4 0.6 0.4 0.7 -0.2 0.6 0.6 0.7 0.9 0.7 -0.3 0.6 0.2 0.7 0.2 0.6 -0.6 0.7 0.3 0.7 1.1 0.6 -0.5 0.7 -0.5 0.6 0.1 0.7 -0.2 0.7 0.1 0.6 0.7 0.7 -0.6 0.6 1.1 0.7 0.4 0.7 -0.6 0.6 -1.4 0.7 0.6 0.6 0.9 0.7 -1.4 0.6 -0.4 0.7 0.8 0.7 -0.4 0.6 0.1 0.7 -0.1 0.6 1 0.7 -1.1 0.7 -0.6 0.6 1.1 0.7 -0.2 0.6 0.2 0.7 0.4 0.7 0.6 0.6 -0.7 0.7 -1 0.6 -0.7 0.7 0.7 0.7 0.1 0.6 0.7 0.7 0.2 0.6 -0.7 0.7 -0.7 0.6 0.7 0.7 0.4 0.7 0.7 0.6 0.4 0.7 -1.3 0.6 -0.5 0.7 -0.2 0.7 1 0.6 -0.3 0.7 1 0.6 0 0.7 -0.9 0.7 0.9 0.6 -0.6 0.7 -0.4 0.6 0.6 0.7 0.7 0.6 -0.8 0.7 -0.6 0.7 0 0.6 0.9 0.7 -0.5 0.6 -0.8 0.7 -0.5 0.7 0.5 0.6 1.5 0.7 0.6 0.6 0.3 0.7 -0.2 0.7 -0.5 0.6 0 0.7 0 0.6 0.1 0.7 -0.4 0.7 -1.1 0.6 0.7 0.7 -0.8 0.6 0 0.7 0.9 0.6 -1.3 0.7 0.3 0.7 0.4 0.6 0.8 0.7 0.2 0.6 0.6 0.7 0.1 0.7 -1.2 0.6 -1.2 0.7 0.5 0.6 -0.1 0.7 1.6 0.7 0 0.6 -1.6 0.7 -0.4 0.6 1.2 0.7 0.8 0.6 0.3 0.7 -1.1 0.7 -1.1 0.6 0.6 0.7 -0.6 0.6 1.4 0.7 0.5 0.7 0 0.6 0 0.7 -0.4 0.6 0.4 0.7 -0.6 0.7 -0.7 0.6 -0.4 0.7 -0.5 0.6 -0.7 0.7 0.5 0.7 1.3 0.6 -0.6 0.7 0.7 0.6 0.6 0.7 -0.3 0.6 -0.7 0.7 -0.7 0.7 -0.4 0.6 0.1 0.7 1.1 0.6 0.6 0.7 0.1 0.7 -0.9 0.6 0.9 0.7 -0.1 0.6 -1.2 0.7 0.8 0.7 -0.2 0.6 0.2 0.7 -0.8 0.6 -1.7 0.7 -0.8 0.6 -0.4 0.7 -2.3 0.7 -5.1 0.6 -8 0.7 -16.5 0.6 -21.7 0.7 -19.2 0.5 -6.8 0.8 13.7 0.7 22.1 0.6 18.4 0.7 11.3 0.7 3.5 0.6 -2.3 0.7 -6.5 0.6 -9.3 0.7 -7.4 0.7 -1 0.6 7.4 0.7 10.8 0.6 9 0.7 6.7 0.6 3.7 0.7 -0.1 0.7 0.9 0.6 1.3 0.7 0.5 0.6 -0.3 0.7 0.4 0.7 0.9 0.6 -0.3 0.7 -1.4 0.6 0.5 0.7 1 0.7 -1.1 0.6 -0.9 0.7 0.5 0.6 -1.5 0.7 -0.3 0.7 0.3 0.6 -1.4 0.7 -2.1 0.6 -6 0.7 -10.5 0.6 -11.8 0.7 -10.1 0.4 -2.3 0.3 0.3 0.6 8.2 0.7 11.9 0.6 11.3 0.7 7.6 0.7 1.5 0.6 -3.7 0.7 -4.8 0.6 -5 0.7 -3.7 0.7 -0.7 0.6 4 0.7 6.9 0.6 6.1 0.7 3.7 0.6 1.2 0.7 1.2 0.7 0.6 0.6 -0.5 0.7 -0.7 0.6 0.8 0.7 -0.9 0.7 -0.3 0.6 0.7 0.7 -0.7 0.6 0.1 0.7 0.9 0.7 0.2 0.6 -0.1 0.7 1.7 0.6 0.2 0.7 -0.9 0.7 -0.3 0.6 0 0.7 0.7 0.6 -1.4 0.7 -0.3 0.6 0.5 0.7 1.2 0.7 -0.4 0.6 -0.5 0.7 0.3 0.6 0.6 0.7 -0.7 0.7 0.8 0.6 0 0.7 -0.8 0.6 -0.3 0.7 0.1 0.7 0 0.6 -0.1 0.7 0.5 0.6 -0.4 0.7 0 0.7 0.8 0.6 -0.4 0.7 0.1 0.6 0.7 0.7 -0.8 0.6 -0.1 0.7 1.3 0.7 0.5 0.6 -0.7 0.7 -0.9 0.6 0.4 0.7 0 0.7 -0.7 0.6 0.9 0.7 0.7 0.6 -0.6 0.7 -0.4 0.7 -0.4 0.6 0 0.7 -0.4 0.6 0.8 0.7 0.3 0.6 0.4 0.7 -1 0.7 -0.2 0.6 -1.1 0.7 0.8 0.6 0.7 0.7 -0.6 0.7 0.1 0.6 -0.5 0.7 0.6 0.6 1 0.7 -0.9 0.7 0.4 0.6 -1.1 0.7 0.8 0.6 1 0.7 -0.1 0.7 -1 0.6 0.3 0.7 0.5 0.6 0.2 0.7 -0.1 0.6 -0.7 0.7 -0.6 0.7 0.7 0.6 0 0.7 0.2 0.6 0.4 0.7 -1.2 0.7 0.5 0.6 -0.3 0.7 0.9 0.6 0.3 0.7 -1.3 0.7 0.2 0.6 0.1 0.7 -0.4 0.6 -0.5 0.7 1.1 0.6 0.9 0.7 -0.7 0.7 -0.7 0.6 0.7 0.7 -0.8 0.6 -0.6 0.7 0.8 0.7 0 0.6 0.5 0.7 0.8 0.6 -0.3 0.7 0.1 0.7 -0.9 0.6 0 0.7 -1.2 0.6 0.3 0.7 1.1 0.7 0.4 0.6 0 0.7 -1.2 0.6 -0.6 0.7 0.1 0.6 -0.2 0.7 -1.2 0.7 0.1 0.6 -0.1 0.7 -1.7 0.6 -0.3 0.7 1 0.4 0 0.3 -1.7 0.6 -0.4 0.7 0.4 0.6 1.2 0.7 2.3 0.7 0.4 0.6 -1 0.7 0.3 0.6 -0.1 0.7 -1.1 0.6 1.4 0.7 0.3 0.7 -0.8 0.6 1.1 0.7 0.5 0.6 -0.1 0.7 0.7 0.7 -0.8 0.6 0.1 0.7 0 0.6 0.5 0.7 0.9 0.7 -0.3 0.6 0.2 0.7 0.4 0.6 -1.6 0.7 -0.3 0.7 0.6 0.6 -0.2 0.7 1.2 0.6 -0.8 0.7 -0.3 0.6 0.4 0.7 1.1 0.7 0.3 0.6 -0.9 0.7 -1.3 0.6 0.3 0.7 0.6 0.7 -0.4 0.6 1.3 0.7 0 0.6 -1.5 0.7 -0.3 0.7 0.2 0.6 0.5 0.7 -0.7 0.6 0.5 0.7 -0.4 0.7 1.2 0.6 -0.1 0.7 -0.5 0.6 -1.3 0.7 -0.2 0.6 1.2 0.7 1.6 0.7 -0.3 0.6 -0.3 0.7 -1.7 0.6 -0.7 0.7 0.4 0.7 1.2 0.6 -0.7 0.7 0.2 0.6 1.1 0.7 0.1 0.7 -0.8 0.6 -0.1 0.7 -0.1 0.6 0.3 0.7 -0.2 0.6 -0.3 0.7 -0.2 0.7 0 0.6 -0.3 0.7 -0.4 0.6 0.8 0.7 0.7 0.7 -0.7 0.6 -0.1 0.7 1.4 0.6 -0.3 0.7 -0.4 0.7 0 0.6 1.2 0.7 0 0.6 -0.4 0.7 0 0.7 0 0.6 -0.5 0.7 -0.4 0.6 -0.1 0.7 0.3 0.6 0 0.7 0.2 0.7 0.2 0.6 0.8 0.7 -0.1 0.6 -1.8 0.7 -0.8 0.7 0.3 0.6 0.2 0.7 1.5 0.6 0 0.7 -1.1 0.7 0 0.6 1.6 0.7 0.4 0.6 -0.4 0.7 -0.1 0.7 -0.1 0.6 -0.7 0.7 -0.3 0.6 0.7 0.7 1 0.6 0.5 0.7 -0.2 0.7 -0.9 0.6 -1.8 0.7 0.4 0.6 1.6 0.7 -0.5 0.7 -0.6 0.6 -0.1 0.7 0.9 0.6 0 0.7 0.2 0.7 -1.2 0.6 0.8 0.7 -1.6 0.6 -0.3 0.7 0.9 0.6 0.4 0.7 -0.7 0.7 1 0.6 0.9 0.7 -0.7 0.6 0.3 0.7 -0.2 0.7 -0.5 0.6 -0.8 0.7 0.8 0.6 1.1 0.7 -0.6 0.7 -1.1 0.6 0.2 0.7 0.3 0.6 -0.2 0.7 0.4 0.7 -0.1 0.6 -1.4 0.7 0.4 0.6 0.9 0.7 -0.9 0.6 -0.1 0.7 1.2 0.7 0.1 0.6 0.8 0.7 -0.8 0.6 -1.1 0.7 0.7 0.7 -0.1 0.6 1 0.7 0.3 0.6 -0.6 0.7 -1.7 0.7 0 0.6 1.3 0.7 -1 0.6 -0.5 0.7 -0.3 0.6 0.5 0.7 1.3 0.7 0.9 0.6 -1.3 0.7 -0.2 0.6 0.8 0.7 -0.7 0.7 0.5 0.6 0.6 0.7 0 0.6 -1.5 0.7 0.3 0.7 0.3 0.6 0.4 0.7 -0.9 0.6 -0.1 0.7 -1.3 0.7 -0.3 0.6 -0.6 0.7 -3.1 0.6 -1.5 0.7 0.5 0.2 -0.7 0.4 -1.3 0.7 1 0.7 1.9 0.6 2.1 0.7 2.5 0.6 0.9 0.7 0.4 0.7 -1 0.6 -1.2 0.7 -1.1 0.6 -0.1 0.7 -0.6 0.7 -0.4 0.6 1.4 0.7 1.1 0.6 0.6 0.7 -0.6 0.7 0.6 0.6 2.1 0.7 -0.7 0.6 -0.7 0.7 -0.1 0.6 1.2 0.7 0.6 0.7 -1.3 0.6 0.2 0.7 0.5 0.6 0.5 0.7 -0.5 0.7 -1 0.6 0 0.7 0.8 0.6 -0.5 0.7 0.7 0.7 -1.3 0.6 0 0.7 1.1 0.6 1 0.7 -0.1 0.6 0.1 0.7 0.1 0.7 -0.6 0.6 -1.1 0.7 0.8 0.6 -1 0.7 -0.7 0.7 -0.3 0.6 0.6 0.7 1.7 0.6 -0.8 0.7 -1.1 0.7 0.3 0.6 1.8 0.7 0.3 0.6 -0.2 0.7 -1.9 0.7 -0.4 0.6 0.5 0.7 -0.2 0.6 -0.2 0.7 0.5 0.6 0.8 0.7 -0.8 0.7 -0.1 0.6 0.8 0.7 -0.3 0.6 -0.3 0.7 0.8 0.7 0.1 0.6 -0.3 0.7 -0.3 0.6 -0.5 0.7 0.7 0.7 -0.4 0.6 -0.3 0.7 0 0.6 1.7 0.7 -0.2 0.6 -0.6 0.7 0.6 0.7 0.4 0.6 -1.5 0.7 0.3 0.6 0.7 0.7 -0.3 0.7 0.7 0.6 0.1 0.7 -1.8 0.6 -0.1 0.7 0.6 0.7 1.2 0.6 0.4 0.7 0 0.6 -0.1 0.7 -1.5 0.7 0.3 0.6 1.2 0.7 -0.4 0.6 -1 0.7 1.5 0.6 0.2 0.7 -0.3 0.7 -1 0.6 0.5 0.7 1.1 0.6 -0.2 0.7 -0.6 0.7 0.7 0.6 0.4 0.7 -0.5 0.6 -0.3 0.7 -0.1 0.7 -1.6 0.6 0.1 0.7 0.3 0.6 -0.4 0.7 0.6 0.7 -0.8 0.6 0.6 0.7 -0.4 0.6 0.1 0.7 0.4 0.6 -0.6 0.7 0.6 0.7 1.4 0.6 0 0.7 -1.6 0.6 -0.1 0.7 0.5 0.7 -0.4 0.6 0.7 0.7 -0.8 0.6 0.2 0.7 -0.6 0.7 -1 0.6 -0.3 0.7 0.3 0.6 0.8 0.7 0.7 0.6 1.5 0.7 -0.8 0.7 -1.2 0.6 0.7 0.7 -0.4 0.6 0.4 0.7 0.9 0.7 0.6 0.6 -0.1 0.7 -1.3 0.6 -0.6 0.7 0 0.7 0.2 0.6 0.8 0.7 -0.1 0.6 -0.2 0.7 -0.6 0.7 1.3 0.6 0.4 0.7 -1.5 0.6 0.1 0.7 -0.9 0.6 -0.4 0.7 0.6 0.7 0.2 0.6 1.1 0.7 0.1 0.6 0.4 0.7 0.8" fill="none" stroke="#000000" stroke-width="5.5" stroke-linejoin="round" stroke-linecap="butt" shape-rendering="crispEdges"/>
<path d="M218.5 1163.2l0.7 -2.1 0.6 -0.2 0.7 1.7 0.6 -1.3 0.7 -0.4 0.7 1 0.6 0.2 0.7 0.5 0.6 -0.6 0.7 0.8 0.6 -0.8 0.7 0.5 0.7 0.8 0.6 -0.1 0.7 0.2 0.6 -0.9 0.7 -1.1 0.7 1.2 0.6 -0.2 0.7 -1.1 0.6 0.1 0.7 1.3 0.7 0.2 0.6 0.5 0.7 0 0.6 0 0.7 -0.7 0.7 -0.1 0.6 -0.4 0.7 -0.3 0.6 0.9 0.7 -0.7 0.6 0.8 0.7 0.6 0.7 -1 0.6 -1 0.7 1.2 0.6 -0.3 0.7 -1.4 0.7 -0.4 0.6 0.7 0.7 -0.1 0.6 1.5 0.7 -0.3 0.7 -0.4 0.6 -0.1 0.7 0.8 0.6 0.3 0.7 -1.2 0.6 -0.2 0.7 0.3 0.7 -0.3 0.6 0.5 0.7 0 0.6 -0.1 0.7 0.4 0.7 -0.5 0.6 -0.5 0.7 1.4 0.6 -0.8 0.7 -0.4 0.7 0.5 0.6 1.3 0.7 0.1 0.6 -1.2 0.7 -0.9 0.7 -0.2 0.6 1.2 0.7 -0.9 0.6 0.2 0.7 -0.2 0.6 -0.2 0.7 -0.1 0.7 -0.5 0.6 -0.1 0.7 1.3 0.6 1 0.7 -0.5 0.7 -0.9 0.6 0.4 0.7 -0.9 0.6 0.7 0.7 1.4 0.7 0.2 0.6 -0.8 0.7 0.3 0.6 -0.5 0.7 -0.2 0.7 0.5 0.6 0.9 0.7 -0.5 0.6 -0.7 0.7 0.4 0.6 -0.3 0.7 -0.4 0.7 0.9 0.6 0.2 0.7 -0.2 0.6 -0.1 0.7 -1.6 0.7 0.5 0.6 0.5 0.7 -0.8 0.6 -0.2 0.7 0.9 0.7 -0.3 0.6 -0.8 0.7 0 0.6 1.7 0.7 -1 0.6 -1 0.7 0.1 0.7 0.6 0.6 1 0.7 -1.1 0.6 -0.5 0.7 0 0.7 0.5 0.6 -0.2 0.7 0.5 0.6 1.2 0.7 0.7 0.7 -0.7 0.6 -1.8 0.7 0.6 0.6 0.8 0.7 -1.5 0.7 -0.1 0.6 0.8 0.7 0.3 0.6 0.8 0.7 0 0.6 -0.8 0.7 -0.8 0.7 -0.2 0.6 -0.1 0.7 0 0.6 1 0.7 -0.2 0.7 1.2 0.6 -0.5 0.7 -1.3 0.6 0.7 0.7 0.2 0.7 -1 0.6 0.3 0.7 -0.2 0.6 0.9 0.7 -0.8 0.7 1.2 0.6 1.3 0.7 -0.6 0.6 -1.4 0.7 0 0.6 -0.6 0.7 0.6 0.7 1.4 0.6 -0.3 0.7 -1.8 0.6 0.5 0.7 0.6 0.7 -0.5 0.6 1.3 0.7 0.5 0.6 -1 0.7 -0.3 0.7 0.8 0.6 -0.7 0.7 -1.1 0.6 -0.1 0.7 0.3 0.6 1.4 0.7 -0.1 0.7 0.3 0.6 0.5 0.7 -0.1 0.6 -1.7 0.7 0.3 0.7 1.3 0.6 -0.2 0.7 -0.8 0.6 -0.1 0.7 -0.9 0.7 -0.6 0.6 0 0.7 0.6 0.6 0.1 0.7 1 0.7 0.7 0.6 -1.3 0.7 0.5 0.6 0.9 0.7 -0.4 0.6 -0.2 0.7 -0.1 0.7 -0.9 0.6 1.5 0.7 0.2 0.6 0.1 0.7 -0.5 0.7 -1.8 0.6 -0.6 0.7 0.5 0.6 1.3 0.7 1.3 0.7 -0.1 0.6 -1.1 0.7 0.2 0.6 0.1 0.7 -0.3 0.6 1.2 0.7 0.3 0.7 -0.4 0.6 0.1 0.7 -0.2 0.6 -0.7 0.7 -1 0.7 -0.4 0.6 -0.3 0.7 0.2 0.6 1.5 0.7 -1.1 0.7 -0.9 0.6 0.3 0.7 0 0.6 0.6 0.7 -0.2 0.7 -0.2 0.6 0.6 0.7 0 0.6 0.2 0.7 0.7 0.6 -0.7 0.7 0.4 0.7 1.1 0.6 0 0.7 -1.6 0.6 -0.6 0.7 1.6 0.7 -0.5 0.6 -1.2 0.7 -0.4 0.6 0.3 0.7 0.1 0.7 -0.5 0.6 0.5 0.7 2.1 0.6 -0.2 0.7 -1.6 0.6 0.6 0.7 0.8 0.7 -0.8 0.6 -1.1 0.7 0.3 0.6 0.8 0.7 1.1 0.7 -0.5 0.6 -0.5 0.7 -0.1 0.6 -0.8 0.7 1.2 0.7 0.7 0.6 -0.5 0.7 -0.9 0.6 -0.7 0.7 -0.7 0.7 0 0.6 0.5 0.7 1.1 0.6 0.6 0.7 -0.9 0.6 0.3 0.7 0.6 0.7 -0.4 0.6 -0.8 0.7 1.5 0.6 -0.3 0.7 -1.1 0.7 0 0.6 1.3 0.7 0.5 0.6 -1.3 0.7 -0.2 0.7 0.1 0.6 -0.6 0.7 0.7 0.6 1.2 0.7 -0.3 0.7 -0.1 0.6 -0.7 0.7 1 0.6 -0.2 0.7 -1.2 0.6 0.4 0.7 0.6 0.7 -0.1 0.6 -0.4 0.7 -0.6 0.6 0.3 0.7 0.2 0.7 0.6 0.6 -0.2 0.7 0.8 0.6 -0.8 0.7 -1.1 0.7 0 0.6 -0.1 0.7 0.7 0.6 -0.7 0.7 0.5 0.6 0.2 0.7 0.3 0.7 -0.7 0.6 0.8 0.7 0.2 0.6 -1.3 0.7 -0.5 0.7 0.8 0.6 0.6 0.7 -1 0.6 -0.6 0.7 1.2 0.7 0.7 0.6 -0.7 0.7 1.1 0.6 -0.7 0.7 -1.3 0.7 -0.2 0.6 0.7 0.7 0.2 0.6 -0.7 0.7 -0.2 0.6 0.8 0.7 -0.1 0.7 0.2 0.6 0.4 0.7 0.5 0.6 -0.4 0.7 -1 0.7 0.1 0.6 1 0.7 -1.4 0.6 -0.6 0.7 0.6 0.7 1.6 0.6 0.2 0.7 0.5 0.6 -0.7 0.7 -1 0.6 0.3 0.7 0.4 0.7 -0.6 0.6 0.6 0.7 -0.8 0.6 -1 0.7 0.5 0.7 0.4 0.6 -0.2 0.7 1.5 0.6 0.2 0.7 -0.8 0.7 0.4 0.6 -0.4 0.7 -1.1 0.6 -0.5 0.7 1.4 0.7 0 0.6 -1.6 0.7 -1.2 0.6 -0.8 0.7 0.7 0.6 -0.1 0.7 -2.1 0.7 -1.9 0.6 -1.4 0.7 -3.8 0.6 -11.9 0.7 -34.8 0.7 -90 0.6 -139.9 0.6 -72.9 0.7 68.1 0.7 71.9 0.7 11.9 0.6 35.2 0.7 74 0.6 56.3 0.7 25.4 0.7 9.5 0.6 3.5 0.7 1 0.6 0.6 0.7 1.5 0.6 0.8 0.7 -0.6 0.7 -0.4 0.6 0.9 0.7 -0.1 0.6 0.1 0.7 0.4 0.7 0.2 0.6 1.4 0.7 -0.3 0.6 1 0.7 -0.4 0.7 -1.1 0.6 1.6 0.7 0.3 0.6 -0.5 0.7 0.4 0.6 -1 0.7 -1.4 0.7 0.1 0.6 1 0.7 1.5 0.6 -0.2 0.7 -1.6 0.7 -0.2 0.6 -0.2 0.7 0.2 0.6 0.4 0.7 0.1 0.7 -0.2 0.6 0.7 0.7 0 0.6 0.9 0.7 -0.5 0.7 -0.2 0.6 0.5 0.7 -0.9 0.6 -0.6 0.7 -0.3 0.6 0.3 0.7 0.4 0.7 0.9 0.6 -0.2 0.7 0.2 0.6 -1 0.7 -0.7 0.7 0.5 0.6 0.9 0.7 0.8 0.6 -1.4 0.7 -0.6 0.7 0 0.6 0.8 0.7 1.8 0.6 -0.1 0.7 -1.9 0.6 -0.7 0.7 1.1 0.7 0.2 0.6 -0.9 0.7 0.7 0.6 0.5 0.7 -1 0.7 1.1 0.6 0.6 0.7 0 0.6 -0.7 0.7 -0.3 0.7 -0.2 0.6 -0.6 0.7 0.4 0.6 -0.3 0.7 -0.2 0.7 -0.5 0.6 -0.1 0.7 0.3 0.6 0.9 0.7 -0.1 0.6 0.5 0.7 -0.1 0.7 -0.8 0.6 -0.1 0.7 1.1 0.6 0.6 0.7 0 0.7 -0.4 0.6 -0.4 0.7 -1.1 0.6 0.6 0.7 1.1 0.7 -0.8 0.6 -0.8 0.7 0.9 0.6 0.7 0.7 -1.5 0.7 -0.3 0.6 1.3 0.7 0.9 0.6 -1 0.7 -0.3 0.6 0.6 0.7 -1.1 0.7 0.2 0.6 1.1 0.7 0.9 0.6 -0.2 0.7 -1.4 0.7 -0.5 0.6 0 0.7 -0.4 0.6 0.6 0.7 1.5 0.7 0.4 0.6 -1.8 0.7 -0.5 0.6 1.7 0.7 1 0.6 -0.6 0.7 -0.8 0.7 0.5 0.6 0.3 0.7 -0.2 0.6 -0.2 0.7 0.9 0.7 -0.6 0.6 -1.4 0.7 -0.3 0.6 -0.4 0.7 0.8 0.7 1.1 0.6 -0.5 0.7 0.1 0.6 0 0.7 -1.2 0.7 0.1 0.6 0.6 0.7 0.3 0.6 0.7 0.7 0.7 0.6 -0.4 0.7 -0.6 0.7 0 0.6 0.1 0.7 0.7 0.6 -0.6 0.7 -0.5 0.7 -0.5 0.6 0.2 0.7 0.6 0.6 -0.3 0.7 0.9 0.7 0.2 0.6 0.2 0.7 -0.6 0.6 -0.7 0.7 -0.9 0.7 -0.5 0.6 1.4 0.7 0.7 0.6 0.1 0.7 -0.6 0.6 -1.2 0.7 0.7 0.7 -0.4 0.6 0.3 0.7 0.9 0.6 -0.7 0.7 -0.6 0.7 -0.8 0.6 0 0.7 0.1 0.6 0.3 0.7 0.4 0.7 -0.9 0.6 -0.3 0.7 0.6 0.6 1.8 0.7 1 0.6 -0.6 0.7 -1.1 0.7 -0.6 0.6 0.8 0.7 -1.2 0.6 -0.3 0.7 1.4 0.7 0.7 0.6 -0.6 0.7 0.5 0.6 -0.3 0.7 0.9 0.7 0.1 0.6 0.2 0.7 0.3 0.6 -0.9 0.7 -1.4 0.7 0.3 0.6 0.5 0.7 0.1 0.6 -0.8 0.7 0.2 0.6 -0.6 0.7 -0.2 0.7 0.8 0.6 0.9 0.7 -0.4 0.6 -0.9 0.7 -0.3 0.7 0.2 0.6 0.1 0.7 -0.2 0.6 -0.1 0.7 -0.1 0.7 0.4 0.6 1 0.7 0.1 0.6 0.3 0.7 0.5 0.6 -0.9 0.7 -1.3 0.7 0.4 0.6 0.7 0.7 0.4 0.6 -0.7 0.7 -0.9 0.7 0.7 0.6 0.9 0.7 0.2 0.6 -1 0.7 -1 0.7 -0.2 0.6 1.2 0.7 0.5 0.6 -1.1 0.7 0.6 0.7 0.5 0.6 -0.3 0.7 -1 0.6 -0.7 0.7 0 0.6 1.1 0.7 1.3 0.7 -0.2 0.6 0.9 0.7 -0.1 0.6 -0.9 0.7 -0.4 0.7 0.4 0.6 0.3 0.7 -1.1 0.6 -0.3 0.7 1.5 0.7 -0.3 0.6 -0.8 0.7 -0.4 0.6 -0.3 0.7 1.1 0.7 0.7 0.6 -0.4 0.7 0.3 0.6 -0.1 0.7 -0.7 0.6 0.7 0.7 0.9 0.7 -0.8 0.6 -1.2 0.7 0.7 0.6 0.5 0.7 0.3 0.7 0.1 0.6 0.5 0.7 -0.3 0.6 -1.7 0.7 -0.3 0.7 -0.1 0.6 1.3 0.7 -1.2 0.6 0.3 0.7 0.6 0.6 -0.6 0.7 -0.5 0.7 0.4 0.6 -0.2 0.7 0.6 0.6 0.4 0.7 -0.7 0.7 0.2 0.6 0.5 0.7 0.1 0.6 0.7 0.7 0.5 0.7 -0.4 0.6 -1.7 0.7 -0.2 0.6 -0.1 0.7 0.9 0.7 0.1 0.6 0.6 0.7 -0.3 0.6 -0.2 0.7 -1.2 0.6 0.7 0.7 0.3 0.7 0.3 0.6 -1.5 0.7 -0.1 0.6 1.2 0.7 -0.4 0.7 0 0.6 0.5 0.7 1.1 0.6 -0.2 0.7 0.2 0.7 0.2 0.6 -0.3 0.7 -1.1 0.6 -0.6 0.7 0.8 0.6 1.1 0.7 -0.1 0.7 -0.6 0.6 0.6 0.7 -0.6 0.6 -1.5 0.7 1.1 0.7 0.2 0.6 -1.4 0.7 0.4 0.6 0.8 0.7 -0.1 0.7 -0.4 0.6 -0.9 0.7 0.5 0.6 1.3 0.7 -0.7 0.7 0 0.6 0.1 0.7 -0.6 0.6 0.2 0.7 0.6 0.6 1 0.7 -0.4 0.7 -1.4 0.6 0.5 0.7 1 0.6 0.3 0.7 -0.7 0.7 -0.1 0.6 0.2 0.7 0.2 0.6 0.7 0.7 0.4 0.7 -0.6 0.6 -1.7 0.7 0.5 0.6 -0.5 0.7 -0.7 0.7 0.2 0.6 1.8 0.7 0.4 0.6 -1 0.7 -0.6 0.6 -0.2 0.7 1.4 0.7 -0.3 0.6 -1.3 0.7 0.9 0.6 0.8 0.7 -1.4 0.7 -0.3 0.6 0 0.7 -0.2 0.6 -0.2 0.7 0.8 0.7 -0.2 0.6 0.6 0.7 0.1 0.6 0.7 0.7 0.1 0.6 -0.4 0.7 -1.1 0.7 1 0.6 0.1 0.7 -1.5 0.6 -1.1 0.7 0.6 0.7 1.9 0.6 0.3 0.7 -2 0.6 -0.2 0.7 0.3 0.7 -0.3 0.6 1.3 0.7 1 0.6 -0.4 0.7 -1.1 0.7 1.1 0.6 -0.3 0.7 -1.1 0.6 1.2 0.7 0.6 0.6 -0.2 0.7 -0.4 0.7 -0.3 0.6 -1.3 0.7 -1.1 0.6 0.8 0.7 -0.4 0.7 -1.4 0.6 -0.2 0.7 1.2 0.6 -1 0.7 -3.6 0.7 -3.4 0.6 -7.6 0.7 -25.3 0.6 -51.3 0.7 -65.1 0.5 -24.7 0.8 42.8 0.7 46.8 0.6 8.8 0.7 -12.3 0.6 8.1 0.7 31.9 0.7 29.2 0.6 15.8 0.7 5.3 0.6 2.1 0.7 1.6 0.7 2.1 0.6 0.2 0.7 1.6 0.6 0 0.7 -1.1 0.7 1.4 0.6 0.5 0.7 -1.1 0.6 -0.1 0.7 0.5 0.6 -0.4 0.7 -0.3 0.7 0.6 0.6 -0.7 0.7 -0.3 0.6 -0.5 0.7 0.9 0.7 1 0.6 -1.3 0.7 -0.2 0.6 0.5 0.7 -0.3 0.7 -0.7 0.6 0 0.7 0.9 0.6 1.6 0.7 0.5 0.6 0 0.7 0 0.7 0 0.6 -1.2 0.7 0.3 0.6 0.2 0.7 0.6 0.7 -0.6 0.6 0.3 0.7 0.5 0.6 0.4 0.7 -0.7 0.7 -1 0.6 0.6 0.7 0.7 0.6 -0.1 0.7 -1.2 0.7 0.6 0.6 0 0.7 -1.5 0.6 -0.2 0.7 1.1 0.6 0.3 0.7 -0.4 0.7 0.1 0.6 -0.6 0.7 0.6 0.6 0.5 0.7 0.7 0.7 -0.6 0.6 -1.3 0.7 0.3 0.6 -0.3 0.7 0.7 0.7 0.8 0.6 -0.4 0.7 -1.3 0.6 0.4 0.7 -0.1 0.7 0.5 0.6 0.2 0.7 0.2 0.6 0.3 0.7 -0.8 0.6 -0.1 0.7 -0.5 0.7 0.1 0.6 0.6 0.7 -0.2 0.6 0.8 0.7 -0.7 0.7 -0.5 0.6 0.8 0.7 -1.1 0.6 0.4 0.7 0.6 0.7 -0.8 0.6 1.1 0.7 0.6 0.6 0.3 0.7 -0.8 0.6 0.8 0.7 0.4 0.7 -1.4 0.6 -1.2 0.7 0.7 0.6 0.7 0.7 -1.1 0.7 0.8 0.6 0.4 0.7 0.2 0.6 -0.3 0.7 0.4 0.7 -1.3 0.6 0 0.7 0.1 0.6 0.3 0.7 -0.5 0.7 0.2 0.6 0.7 0.7 0.5 0.6 -1.7 0.7 -0.2 0.6 0.4 0.7 1.3 0.7 0 0.6 -1.2 0.7 1.4 0.6 0.5 0.7 -0.9 0.7 0.2 0.6 0.7 0.7 -0.1 0.6 -1.2 0.7 0 0.7 -0.9 0.6 0.6 0.7 1.4 0.6 -0.3 0.7 -0.6 0.6 -0.3 0.7 -0.4 0.7 -0.6 0.6 1.2 0.7 0.7 0.6 -1.8 0.7 -0.5 0.7 1.5 0.6 0.6 0.7 -1.2 0.6 -0.8 0.7 0.9 0.7 -0.3 0.6 -1.8 0.7 -2.6 0.6 -7 0.7 -9.1 0.6 -5.5 0.7 5.1 0.7 8.3 0.6 3.5 0.7 -1.1 0.6 -1.3 0.7 1.7 0.7 3.1 0.6 4.2 0.7 2.6 0.6 0.7 0.7 -1 0.7 -0.5 0.6 0.9 0.7 -0.2 0.6 0.3 0.7 0.1 0.7 0.7 0.6 -1.1 0.7 0.9 0.6 1.1 0.7 -0.8 0.7 -1.1 0.6 0.9 0.7 0.8 0.6 0 0.7 0.5 0.6 -0.4 0.7 -1.3 0.7 -0.6 0.6 1.1 0.7 0.2 0.6 0.4 0.7 -0.5 0.7 -0.1 0.6 -0.7 0.7 1.2 0.6 0.7 0.7 -0.1 0.7 -0.2 0.6 -0.7 0.7 -1.2 0.6 -0.1 0.7 0.1 0.6 0.2 0.7 0.6 0.7 -0.1 0.6 0.7 0.7 1 0.6 -0.4 0.7 -1.9 0.7 0.7 0.6 0.3 0.7 -0.2 0.6 0.8 0.7 0.1 0.7 -1.2 0.6 0.1 0.7 -0.7 0.6 0.3 0.7 0.4 0.7 1.1 0.6 0.6 0.7 -0.3 0.6 -0.8 0.7 0.2 0.6 -0.1 0.7 -0.7 0.7 -1 0.6 0.6 0.7 1.5 0.6 -0.7 0.7 -1.4 0.7 0.1 0.6 -0.4 0.7 0 0.6 0.5 0.7 -0.2 0.7 -0.4 0.6 1.3 0.7 1.1 0.6 -0.9 0.7 -0.6 0.7 -0.2 0.6 -0.3 0.7 -0.1 0.6 -0.1 0.7 0.8 0.6 0.9 0.7 -0.6 0.7 0.4 0.6 -0.5 0.7 -0.3 0.6 -0.5 0.7 -0.2 0.7 0.6 0.6 -1.2 0.7 -2 0.6 -2 0.7 -5.2 0.7 -13.8 0.6 -25.6 0.7 -27.4 0.4 -6.8 0.2 3.4 0.7 20.9 0.6 22.4 0.7 6.4 0.7 -8.1 0.6 -4.8 0.7 8.7 0.6 14.3 0.7 11.2 0.7 5.9 0.6 1.9 0.7 -0.4 0.6 -0.1 0.7 0.6 0.7 0 0.6 0.4 0.7 -0.3 0.6 0.5 0.7 1.2 0.7 -0.2 0.6 0.7 0.7 0.1 0.6 0.6 0.7 -0.1 0.6 0.2 0.7 -0.8 0.7 0 0.6 1.1 0.7 -0.4 0.6 -0.4 0.7 0.8 0.7 -0.1 0.6 -0.8 0.7 -0.9 0.6 1 0.7 -1.3 0.7 -0.6 0.6 0.6 0.7 0 0.6 0.2 0.7 0.6 0.6 0.4 0.7 0.7 0.7 0.4 0.6 -0.1 0.7 -0.1 0.6 -1.1 0.7 -0.6 0.7 1.4 0.6 0.5 0.7 -1.5 0.6 0.2 0.7 0.3 0.7 0.6 0.6 -1.5 0.7 0.2 0.6 0.1 0.7 0.2 0.7 0.3 0.6 -1.3 0.7 0.7 0.6 1.5 0.7 -1.1 0.6 -1 0.7 1.2 0.7 0.8 0.6 0.7 0.7 0.2 0.6 -0.5 0.7 -1.6 0.7 -0.1 0.6 0.7 0.7 -0.6 0.6 -0.5 0.7 -0.7 0.7 0.1 0.6 0.2 0.7 0.8 0.6 0.6 0.7 -0.9 0.7 -0.4 0.6 -0.1 0.7 0.8 0.6 0.7 0.7 0.2 0.6 0 0.7 -0.1 0.7 0.4 0.6 0.5 0.7 -0.6 0.6 -1.2 0.7 1.2 0.7 0.1 0.6 0.7 0.7 -0.4 0.6 -1.3 0.7 -1.3 0.7 0.4 0.6 1.1 0.7 -1.3 0.6 0 0.7 1.6 0.6 0.3 0.7 -0.4 0.7 -0.7 0.6 1.5 0.7 -0.4 0.6 -1.5 0.7 0.6 0.7 -0.3 0.6 -0.1 0.7 1.2 0.6 0.4 0.7 -1.4 0.7 1.3 0.6 0.2 0.7 -1.3 0.6 0.6 0.7 -1.3 0.7 -0.3 0.6 -0.3 0.7 0.1 0.6 0.4 0.7 0.9 0.6 0.4 0.7 1.1 0.7 -0.7 0.6 -1.9 0.7 -0.5 0.6 1 0.7 1.4 0.7 0.4 0.6 0 0.7 -0.1 0.6 -0.6 0.7 -0.7 0.7 -0.2 0.6 -2.1 0.7 -5 0.6 -8.1 0.7 -8.4 0.3 -2.1 0.3 2.3 0.7 7.7 0.7 7 0.6 1.7 0.7 -1.8 0.6 -2.6 0.7 0.5 0.7 4.8 0.6 3.3 0.7 1.5 0.6 0.8 0.7 0.4 0.7 0.3 0.6 0.4 0.7 -0.7 0.6 0.3 0.7 1 0.7 0.8 0.6 -0.5 0.7 -0.7 0.6 -0.4 0.7 0.8 0.6 0.2 0.7 -1.8 0.7 0.1 0.6 0.5 0.7 1.1 0.6 -0.4 0.7 -1.1 0.7 1.3 0.6 -0.7 0.7 -1.1 0.6 -0.3 0.7 0 0.7 0.3 0.6 0.3 0.7 0.9 0.6 -0.6 0.7 0.4 0.6 0.6 0.7 -0.4 0.7 -0.4 0.6 0.2 0.7 0.3 0.6 0.3 0.7 -0.1 0.7 -0.4 0.6 0.9 0.7 0.8 0.6 0.1 0.7 -1 0.7 -1.4 0.6 -0.6 0.7 1.3 0.6 1.8 0.7 0.2 0.7 -1.1 0.6 -1.6 0.7 -0.4 0.6 0.1 0.7 1.1 0.6 0.9 0.7 -0.9 0.7 0.7 0.6 -0.4 0.7 -0.8 0.6 -0.1 0.7 -0.4 0.7 1.4 0.6 0.7 0.7 -0.7 0.6 0.5 0.7 -1.1 0.7 -0.1 0.6 0.5 0.7 -1.1 0.6 -0.4 0.7 1 0.7 0.1 0.6 -0.8 0.7 -0.3 0.6 -0.1 0.7 0.1 0.6 0.4 0.7 1.4 0.7 0.8 0.6 -0.9 0.7 -0.9 0.6 0.9 0.7 0.8 0.7 -0.9 0.6 -0.2 0.7 -0.8 0.6 1.3 0.7 0.6 0.7 -0.4 0.6 0.4 0.7 -0.3 0.6 0 0.7 -0.7 0.6 -0.6 0.7 -0.1 0.7 0.8 0.6 0.1 0.7 -1.1 0.6 0.4 0.7 -0.5 0.7 1 0.6 0.9 0.7 0.3 0.6 -0.5 0.7 -0.2 0.7 0.1 0.6 0 0.7 0.1 0.6 0.1 0.7 0 0.7 -0.6 0.6 0.4 0.7 -1.5 0.6 -1 0.7 0.3 0.6 1.5 0.7 0.6 0.7 -0.9 0.6 0.9 0.7 -0.2 0.6 -0.3 0.7 -0.4 0.7 1.2 0.6 -0.8 0.7 -0.7 0.6 0.3 0.7 -0.6 0.7 1.2 0.6 0.4 0.7 -1.6 0.6 -0.2 0.7 0.1 0.7 0.1 0.6 1.2 0.7 0.5 0.6 -0.5 0.7 0.5 0.6 0.6 0.7 -0.4 0.7 -0.7 0.6 0.3 0.7 -0.8 0.6 0.4 0.7 -1.1 0.7 -0.2 0.6 0 0.7 0.6 0.6 -0.3 0.7 0.5 0.7 -0.3 0.6 0.7 0.7 -0.1 0.6 -0.8 0.7 -0.1 0.6 1 0.7 -0.8 0.7 0.4 0.6 1.5 0.7 0.3 0.6 -0.5 0.7 -0.2 0.7 0.4 0.6 0.2 0.7 -0.1 0.6 -0.5 0.7 -0.6 0.7 0.3 0.6 -0.5 0.7 -0.3 0.6 -1.1 0.7 0.3 0.7 0.9 0.6 -1 0.7 0.2 0.6 1.9 0.7 0.8 0.6 0.1 0.7 -0.9 0.7 -1.1 0.6 0.3 0.7 -0.3 0.6 -1.1 0.7 0.2 0.7 1 0.6 0.1 0.7 0.5 0.6 0.3 0.7 -1.8 0.7 0.2 0.6 1.4 0.7 -1.3 0.6 0.1 0.7 0.4 0.6 -0.4 0.7 -0.2 0.7 0.1 0.6 1 0.7 -0.6 0.6 0.6 0.7 -0.2 0.7 -0.5 0.6 -0.3 0.7 0.9 0.6 -0.8 0.7 0.7 0.7 -1.1 0.6 0.2 0.7 0.6 0.6 0.2 0.7 -0.1 0.7 1 0.6 -1.1 0.7 -0.4 0.6 1.1 0.7 0.2 0.6 0.1 0.7 0.7 0.7 -0.3 0.6 -1 0.7 0.9 0.6 -0.2 0.7 -1.7 0.7 0.8 0.6 0.8 0.7 -0.9 0.6 -0.4 0.7 0.6 0.7 0.3 0.6 -1.2 0.7 0.9 0.6 0.9 0.7 0.4 0.6 -0.9 0.7 -0.8 0.7 0.7 0.6 0 0.7 -0.9 0.6 1 0.7 0.1 0.7 -0.2 0.6 0.1 0.7 -0.4 0.6 -1.2 0.7 -0.5 0.7 -0.1 0.6 0.6 0.7 0.3 0.6 0.5 0.7 -1 0.7 0 0.6 1.3 0.7 0.7 0.6 -0.9 0.7 -0.6 0.6 1.5 0.7 0.1 0.7 0.5 0.6 0 0.7 0.2 0.6 -0.2 0.7 -0.1 0.7 0.1 0.6 -0.2 0.7 0.6 0.6 -0.5 0.7 -1.7 0.7 0.5 0.6 1.2 0.7 -0.3 0.6 -0.5 0.7 -0.9 0.7 -0.7 0.6 0.2 0.7 -0.6 0.6 0.3 0.7 0.9 0.6 0.3 0.7 0.5 0.7 0.1 0.6 0.3 0.7 -0.2 0.6 -0.2 0.7 -1.4 0.7 0.9 0.6 1.4 0.7 -0.1 0.6 0.2 0.7 -0.2 0.7 -1.7 0.6 0.5 0.7 0.8 0.6 -0.9 0.7 -0.3 0.6 -0.7 0.7 0.1 0.7 1.9 0.6 0.3 0.7 0 0.6 0.1 0.7 -0.6 0.7 0.4 0.6 -0.2 0.7 -0.8 0.6 -0.5 0.7 -0.4 0.7 0.7 0.6 0.5 0.7 -0.9 0.6 1 0.7 -0.9 0.7 0 0.6 -0.5 0.7 -0.4 0.6 0.9 0.7 -0.4 0.6 0.6 0.7 0.9 0.7 -0.7 0.6 -0.8 0.7 -0.7 0.6 0.2 0.7 1.6 0.7 -0.3 0.6 -0.3 0.7 0.8 0.6 -0.5 0.7 -0.3 0.7 1.1 0.6 -0.8 0.7 -0.1 0.6 1.1 0.7 -0.9 0.7 0 0.6 0.8 0.7 -0.5 0.6 -1.3 0.7 -0.8 0.6 -0.1 0.7 0.7 0.7 1.3 0.6 -0.3 0.7 -0.1 0.6 -0.7 0.7 0 0.7 1.9 0.6 0 0.7 -0.3 0.6 -0.6 0.7 -0.9 0.7 1.5 0.6 0.3 0.7 -1.1 0.6 1.1 0.7 0.2 0.6 -1.3 0.7 0.5 0.7 -1 0.6 1.2 0.7 0.5 0.6 -1.7 0.7 -0.3 0.7 -0.3 0.6 0.5 0.7 -0.4 0.6 0.4 0.7 -0.4 0.7 0.2 0.6 0.8 0.7 -0.7 0.6 -0.5 0.7 0.3 0.7 0.6 0.6 0.8 0.7 0 0.6 0 0.7 -0.1 0.6 -0.6 0.7 0.2 0.7 -1.2 0.6 -0.1 0.7 1.3 0.6 0.3 0.7 -0.3 0.7 0.8 0.6 -1 0.7 0.8 0.6 -0.1 0.7 -0.2 0.7 -0.7 0.6 -0.7 0.7 0.8 0.6 1 0.7 0.4 0.6 -0.2 0.7 -1.1 0.7 -0.2 0.6 -0.5 0.7 0.4 0.6 0.5 0.7 0.4 0.7 -1.5 0.6 -0.2 0.7 1.5 0.6 0.3 0.7 -1.1 0.7 0.5 0.6 -0.3 0.7 1.2 0.6 -0.4 0.7 -1.1 0.7 0.5 0.6 1.4 0.7 -0.1 0.6 -1.9 0.7 0 0.6 0.2 0.7 1.9 0.7 0.2 0.6 -1 0.7 0.1 0.6 -0.6 0.7 0.4 0.7 -1 0.6 -0.1 0.7 0.8 0.6 0.5 0.7 -0.8 0.7 -1.2 0.6 -0.4 0.7 0.4 0.6 0.7 0.7 0.7 0.6 -0.3 0.7 1.2 0.7 -0.3 0.6 -0.9 0.7 0.6 0.6 0.4 0.7 -0.9 0.7 0.5 0.6 0.5 0.7 0.3 0.6 -0.8 0.7 -1 0.7 1 0.6 -0.6 0.7 0 0.6 -0.4 0.7 1.3 0.7 0.7 0.6 -0.1 0.7 -0.2 0.6 0.2 0.7 -0.5 0.6 0 0.7 -1.3 0.7 -0.8 0.6 0.2 0.7 0.9 0.6 1 0.7 -0.1 0.7 -0.8 0.6 0.9 0.7 0.3 0.6 -0.9 0.7 -0.1 0.7 -0.6 0.6 -0.3 0.7 -0.3 0.6 -0.1 0.7 -0.2 0.7 0.9 0.6 0.7 0.7 -1.2 0.6 0.1 0.7 1.3 0.6 -0.9 0.7 -0.9 0.7 -0.4 0.6 0.3 0.7 1.8 0.6 0.5 0.7 0.3 0.7 -0.3 0.6 -0.5 0.7 -0.1 0.6 -1.1 0.7 0.5 0.7 0 0.6 -1.1 0.7 1.2 0.6 -0.1 0.7 -2.1 0.6 -1.2 0.7 -0.5 0.7 -0.3 0.6 0.1 0.7 -0.1 0.6 -2.5 0.7 -2.6 0.7 -4.6 0.6 -14.7 0.7 -33.9 0.6 -54.3 0.7 -65.2 0.7 -36.8 0.6 26.8 0.7 61 0.6 52.7 0.7 22.4 0.7 -6.3 0.6 -26.2 0.7 -23.6 0.6 5 0.7 30.3 0.6 32.1 0.7 22.8 0.7 11.3 0.6 4.5 0.7 0.6 0.6 1.3 0.7 2.5 0.7 0.3 0.6 -0.1 0.7 0.7 0.6 -1.1 0.7 0.3 0.7 -0.4 0.6 0.1 0.7 0.2 0.6 0.2 0.7 -0.5 0.7 0.5 0.6 1 0.7 -0.5 0.6 0.8 0.7 1.4 0.6 -0.6 0.7 -1.3 0.7 0.9 0.6 0.2 0.7 0 0.6 0.7 0.7 0.2 0.7 -1 0.6 0.2 0.7 -0.9 0.6 0.7 0.7 1 0.7 -0.3 0.6 -0.7 0.7 0.7 0.6 0 0.7 0.4 0.6 -0.2 0.7 -1 0.7 -0.8 0.6 0 0.7 1.1 0.6 -1.3 0.7 -0.5 0.7 0.4 0.6 -0.2 0.7 0.5 0.6 0.9 0.7 -0.1 0.7 0.7 0.6 -0.4 0.7 0.8 0.6 -0.1 0.7 -1.2 0.7 0.3 0.6 0.2 0.7 -1.3 0.6 -0.1 0.7 1.3 0.6 -1.3 0.7 -0.4 0.7 0.6 0.6 1.6 0.7 0 0.6 -0.5 0.7 0.2 0.7 0.5 0.6 -0.9 0.7 0.4 0.6 -0.8 0.7 -0.2 0.7 0.8 0.6 -0.2 0.7 0.3 0.6 -0.1 0.7 -1.3 0.6 0.3 0.7 0.7 0.7 1 0.6 -0.1 0.7 -0.9 0.6 -0.1 0.7 0.9 0.7 -0.4 0.6 -1.2 0.7 1.4 0.6 0.2 0.7 -1.1 0.7 0.3 0.6 -0.5 0.7 -0.9 0.6 -0.4 0.7 1 0.7 0.4 0.6 -0.7 0.7 -0.4 0.6 -1.1 0.7 -0.2 0.6 -3.4 0.7 -8.9 0.7 -15.4 0.6 -18.4 0.7 -12.4 0.2 -1.3 0.4 3.5 0.7 16.9 0.7 17.8 0.6 9.3 0.7 1 0.6 -5.9 0.7 -8.6 0.7 -4.1 0.6 5.5 0.7 9.5 0.6 7.8 0.7 4.9 0.7 2.4 0.6 0.8 0.7 1.9 0.6 0.1 0.7 -1 0.6 1.1 0.7 -0.2 0.7 -1.1 0.6 1.4 0.7 0.3 0.6 -1.3 0.7 -0.4 0.7 0.3 0.6 -0.8 0.7 0.4 0.6 1.3 0.7 -0.4 0.7 0.3 0.6 1.2 0.7 -0.3 0.6 -1.5 0.7 -1.1 0.6 0.3 0.7 1.5 0.7 0.6 0.6 0.7 0.7 -0.7 0.6 -0.1 0.7 0.3 0.7 -0.5 0.6 -0.4 0.7 -0.3 0.6 0.4 0.7 0.5 0.7 -0.1 0.6 0.1 0.7 -0.5 0.6 0.1 0.7 -0.1 0.7 0.3 0.6 0.1 0.7 -1.5 0.6 -0.6 0.7 0.4 0.6 0.1 0.7 0.2 0.7 0.9 0.6 0 0.7 0.2 0.6 0.3 0.7 -0.7 0.7 1.3 0.6 -0.1 0.7 -1 0.6 0.9 0.7 -0.1 0.7 -1.7 0.6 0.4 0.7 0.9 0.6 -0.8 0.7 -0.6 0.6 0.2 0.7 0.4 0.7 0.9 0.6 -0.3 0.7 0 0.6 0.9 0.7 -0.9 0.7 0.3 0.6 1.1 0.7 0 0.6 -1.3 0.7 -0.4 0.7 0.5 0.6 0 0.7 -0.1 0.6 -0.2 0.7 -0.9 0.7 -0.1 0.6 0.7 0.7 -0.3 0.6 0 0.7 -0.6 0.6 0.2 0.7 0.1 0.7 1 0.6 0.7 0.7 -1.5 0.6 -0.4 0.7 0.3 0.7 -0.1 0.6 -0.6 0.7 0.3 0.6 1.7 0.7 0.2 0.7 -1.3 0.6 1.2 0.7 0.6 0.6 -0.1 0.7 -0.5 0.6 -1.5 0.7 0.4 0.7 1.3 0.6 -0.2 0.7 0 0.6 -0.6 0.7 1.1 0.7 0 0.6 -1.3 0.7 1 0.6 0.3 0.7 -2 0.7 0.3 0.6 1.6 0.7 -0.2 0.6 -1.2 0.7 -0.1 0.7 0.9 0.6 -0.7 0.7 0.9 0.6 -1.4 0.7 0.1 0.6 0.7 0.7 0.6 0.7 0.3 0.6 -0.4 0.7 0.5 0.6 -1.1 0.7 0.1 0.7 1 0.6 -1 0.7 -0.4 0.6 -0.4 0.7 1.3 0.7 0.2 0.6 0.4 0.7 -0.4 0.6 -1.1 0.7 -0.8 0.7 0.5 0.6 0.5 0.7 -0.1 0.6 -0.1 0.7 -0.4 0.6 0.3 0.7 1.7 0.7 -0.1 0.6 -0.8 0.7 0.1 0.6 -1 0.7 0.5 0.7 -0.4 0.6 -0.1 0.7 0.6 0.6 0.1 0.7 -0.7 0.7 -0.2 0.6 0.7 0.7 1.3 0.6 0.5 0.7 -0.1 0.6 -0.2 0.7 -0.3 0.7 -1.5 0.6 0.9 0.7 -0.8 0.6 -1.1 0.7 0.7 0.7 1.6 0.6 -0.5 0.7 -1.4 0.6 0.6 0.7 1.8 0.7 0.7 0.6 -0.1 0.7 -0.2 0.6 0 0.7 -0.4 0.7 -1.3 0.6 -0.6 0.7 0.1 0.6 -0.6 0.7 0.6 0.6 -0.3 0.7 -0.2 0.7 0.7 0.6 0.6 0.7 -0.5 0.6 -0.4 0.7 1.2 0.7 -0.9 0.6 0.5 0.7 0.8 0.6 -0.3 0.7 -0.4 0.7 0.3 0.6 -1.3 0.7 0.1 0.6 -0.3 0.7 0.4 0.7 0.3 0.6 0.8 0.7 -0.7 0.6 -1 0.7 -0.3 0.6 0.2 0.7 1.2 0.7 1.2 0.6 0.3 0.7 -0.9 0.6 -1.3 0.7 0.5 0.7 -0.6 0.6 -0.7 0.7 0.4 0.6 1.1 0.7 -0.6 0.7 1 0.6 -0.7 0.7 0.2 0.6 0.7 0.7 -1.2 0.6 0.4 0.7 1.1 0.7 -0.5 0.6 -1.3 0.7 -0.1 0.6 1.5 0.7 0.4 0.7 0 0.6 -1.5 0.7 -0.1 0.6 0.8 0.7 0 0.7 0.8 0.6 -1.3 0.7 -0.8 0.6 0.5 0.7 -0.5 0.7 0.9 0.6 1.4 0.7 -0.4 0.6 -0.6 0.7 0.5 0.6 -0.1 0.7 -1 0.7 1.6 0.6 0.2 0.7 -1.5 0.6 -0.5 0.7 1 0.7 -0.4 0.6 -0.8 0.7 0.8 0.6 0.2 0.7 -0.3 0.7 -0.9 0.6 0.7 0.7 0.5 0.6 0.9 0.7 0 0.6 -0.3 0.7 -0.6 0.7 -0.5 0.6 0.7 0.7 -0.3 0.6 0.9 0.7 -0.6 0.7 -0.7 0.6 -0.1 0.7 0.2 0.6 -0.1 0.7 -0.7 0.7 0.1 0.6 -0.3 0.7 0.6 0.6 -0.6 0.7 -0.3 0.7 -0.1 0.6 0.7 0.7 -0.5 0.6 0.8 0.7 0.4 0.6 -1.1 0.7 0 0.7 0.1 0.6 0 0.7 -0.4 0.6 -0.1 0.7 -0.7 0.7 -3.9 0.6 -3.8 0.7 -7.2 0.6 -7.8 0.6 -2.2 0.8 4.8 0.6 6.7 0.7 5.4 0.6 3.5 0.7 1.5 0.6 -1.6 0.7 -3.2 0.7 -2.7 0.6 -1.1 0.7 3.2 0.6 3.9 0.7 3.6 0.7 0.7 0.6 1.8 0.7 0.9 0.6 -0.5 0.7 0.9 0.7 -0.2 0.6 0.4 0.7 -0.7 0.6 0.6 0.7 -0.5 0.7 0.8 0.6 0.4 0.7 -0.7 0.6 0.2 0.7 0.3 0.6 0.3 0.7 -0.2 0.7 -0.5 0.6 0 0.7 -0.6 0.6 -1.1 0.7 -0.1 0.7 1.4 0.6 -1 0.7 -0.1 0.6 -0.3 0.7 -0.2 0.7 0.3 0.6 0.5 0.7 -0.2 0.6 1.3 0.7 -0.4 0.7 -1.4 0.6 0.3 0.7 1.5 0.6 0.6 0.7 -1.6 0.6 -1.2 0.7 0.5 0.7 0.7 0.6 0.1 0.7 0.1 0.6 -0.7 0.7 0.9 0.7 -1.1 0.6 0.4 0.7 0 0.6 -0.3 0.7 -2.7 0.7 -4.2 0.6 -5.5 0.7 -5.6 0.8 -5.1 0.5 0.7 0.6 5.9 0.7 6.2 0.7 4.4 0.6 3.6 0.7 -0.2 0.6 -2.7 0.7 -4.5 0.7 -3.4 0.6 0.9 0.7 3.7 0.6 4 0.7 2.7 0.7 2.8 0.6 0.5 0.7 -1 0.6 -0.5 0.7 0.2 0.7 0.2 0.6 -0.2 0.7 -0.1 0.6 1.5 0.7 0.5 0.6 0.1 0.7 -1.4 0.7 0.1 0.6 0.7 0.7 -0.3 0.6 0.8 0.7 -0.4 0.7 -0.8 0.6 0.4 0.7 0.1 0.6 0.4 0.7 -1.3 0.7 -0.5 0.6 0 0.7 -0.5 0.6 0.5 0.7 1.6 0.6 0.1 0.7 0.3 0.7 0.1 0.6 -0.6 0.7 -0.3 0.6 0.5 0.7 -0.5 0.7 0.3 0.6 -1.1 0.7 1 0.6 0.9 0.7 -0.9 0.7 -0.7 0.6 0.1 0.7 -0.2 0.6 -0.5 0.7 0.2 0.7 -0.1 0.6 0.6 0.7 0.4 0.6 0.2 0.7 -0.2 0.6 -1.5 0.7 -0.2 0.7 0.5 0.6 0.1 0.7 1.4 0.6 0.1 0.7 -1 0.7 0.2 0.6 -0.4 0.7 0.2 0.6 0.7 0.7 -0.5 0.7 -1.1 0.6 0 0.7 1.5 0.6 0.9 0.7 -0.4 0.7 -0.4 0.6 -0.1 0.7 0.1 0.6 0.5 0.7 -0.5 0.6 -0.6 0.7 -0.4 0.7 0.3 0.6 0.3 0.7 -0.1 0.6 -0.9 0.7 0.9 0.7 1.2 0.6 -0.5 0.7 0.3 0.6 0.2 0.7 0.4 0.7 -1.1 0.6 -1.1 0.7 1.1 0.6 1.4 0.7 0.1 0.6 -1.1 0.7 -0.7 0.7 0 0.6 -0.6 0.7 1.3 0.6 0.2 0.7 -0.8 0.7 0.9 0.6 0.7 0.7 0 0.6 -0.3 0.7 -0.5 0.7 -0.6 0.6 -0.2 0.7 -0.3 0.6 -0.3 0.7 0 0.7 -0.5 0.6 0.8 0.7 0.5 0.6 -0.3 0.7 1.2 0.6 0.5 0.7 -0.1 0.7 -0.7 0.6 -0.2 0.7 -1.6 0.6 -0.5 0.7 0.1 0.7 0.3 0.6 -0.4 0.7 1 0.6 1.3 0.7 -0.8 0.7 -1 0.6 0.8 0.7 0.6 0.6 -0.2 0.7 -1.1 0.7 -0.1 0.6 0.5 0.7 0.7 0.6 0.6 0.7 -0.4 0.6 0 0.7 -0.3 0.7 -0.7 0.6 -0.2 0.7 1.9 0.6 0.4 0.7 -0.6 0.7 -0.3 0.6 0 0.7 -1.5 0.6 -0.5 0.7 0.9 0.7 -0.2 0.6 -0.5 0.7 0.7 0.6 1.7 0.7 -0.6 0.6 -1.7 0.7 0.3 0.7 1.4 0.6 -0.2 0.7 -0.9 0.6 0.8 0.7 0.3 0.7 -1.2 0.6 1.1 0.7 -0.9 0.6 -0.6 0.7 0.6 0.7 0 0.6 -0.8 0.7 0.4 0.6 0.9 0.7 -0.9 0.7 -0.5 0.6 0.8 0.7 0.8 0.6 0.7 0.7 -0.2 0.6 0 0.7 0.3 0.7 -0.5 0.6 -0.3 0.7 -0.1 0.6 -0.1 0.7 0.4 0.7 -0.1 0.6 0.7 0.7 -0.2 0.6 -0.1 0.7 -1.2 0.7 0.4 0.6 -0.6 0.7 0.2 0.6 -0.4 0.7 -0.3 0.6 1.5 0.7 -0.2 0.7 -0.6 0.6 0.7 0.7 0.3 0.6 -1.5 0.7 0.2 0.7 1.7 0.6 0.7 0.7 -0.6 0.6 -1.6 0.7 -0.6 0.7 -0.4 0.6 -0.2 0.7 0.4 0.6 1 0.7 0.1 0.7 -1.3 0.6 0.4 0.7 1.6 0.6 0 0.7 -0.7 0.6 0.7 0.7 -1.4 0.7 -0.5 0.6 0.5 0.7 0.8 0.6 0.6 0.7 -0.9 0.7 0.7 0.6 0 0.7 0.5 0.6 0 0.7 -0.2 0.7 -0.8 0.6 -0.5 0.7 -0.7 0.6 -0.5 0.7 -0.3 0.6 -2.1 0.7 -2 0.7 -3.7 0.6 -10.4 0.7 -14.6 0.6 -15.2 0.8 -9.4 0.6 4.9 0.6 15 0.7 14.8 0.6 11.2 0.7 4.3 0.7 -0.7 0.6 -3.8 0.7 -6.6 0.6 -7.5 0.7 -2 0.7 3.1 0.6 7.8 0.7 6.6 0.6 5.7 0.7 2.8 0.6 2.1 0.7 0.7 0.7 0.8 0.6 -0.6 0.7 1.1 0.6 0 0.7 -0.6 0.7 0.3 0.6 -0.6 0.7 -0.1 0.6 0.9 0.7 0.1 0.7 -0.7 0.6 -0.1 0.7 -0.7 0.6 1.2 0.7 0.6 0.7 -0.9 0.6 -2.3 0.7 -2.3 0.6 -5.3 0.7 -9.1 0.6 -8.8 0.9 -4.4 0.5 2.9 0.6 6.9 0.7 8.3 0.6 6.5 0.7 2.4 0.7 1.2 0.6 -2.7 0.7 -2.8 0.6 -4.6 0.7 -2 0.7 1.1 0.6 4.6 0.7 4 0.6 3 0.7 1.2 0.6 1.8 0.7 -0.1 0.7 0.5 0.6 -0.9 0.7 -0.7 0.6 0.4 0.7 0.5 0.7 -0.6 0.6 0 0.7 -0.1 0.6 0.5 0.7 0.6 0.7 -0.1 0.6 0.7 0.7 -0.5 0.6 0 0.7 0.5 0.7 0.3 0.6 -0.6 0.7 -0.6 0.6 1 0.7 -0.1 0.6 -0.7 0.7 0.3 0.7 -0.6 0.6 0.8 0.7 0 0.6 0.2 0.7 -0.7 0.7 0.7 0.6 -0.4 0.7 -0.8 0.6 0.6 0.7 0.1 0.7 1 0.6 -0.8 0.7 -0.6 0.6 0.7 0.7 0.6 0.7 0.1 0.6 0.3 0.7 0.3 0.6 0.5 0.7 -0.9 0.6 -0.5 0.7 0.9 0.7 -0.9 0.6 -1 0.7 -0.3 0.6 1.5 0.7 -0.1 0.7 -0.6 0.6 1 0.7 -1 0.6 0.5 0.7 0.2 0.7 -0.4 0.6 -0.1 0.7 0.5 0.6 -0.2 0.7 -0.5 0.6 -0.1 0.7 0.4 0.7 -0.2 0.6 0.2 0.7 1.1 0.6 0.2 0.7 0 0.7 -1.3 0.6 0.7 0.7 -0.2 0.6 -0.7 0.7 0.5 0.7 0.6 0.6 -0.6 0.7 -0.9 0.6 0.3 0.7 0.7 0.7 -1.3 0.6 -0.1 0.7 1.4 0.6 0.5 0.7 0.2 0.6 -0.9 0.7 -0.1 0.7 0.9 0.6 -0.8 0.7 0 0.6 -1 0.7 0.4 0.7 0.4 0.6 -0.2 0.7 -0.5 0.6 1.7 0.7 0.8 0.7 -0.4 0.6 0.1 0.7 0.3 0.6 0.2 0.7 -0.7 0.6 -1.4 0.7 -1 0.7 0.2 0.6 -0.2 0.7 1.2 0.6 1.3 0.7 -0.3 0.7 -1.3 0.6 0.1 0.7 -0.3 0.6 0.3 0.7 -1.5 0.7 -0.7 0.6 0.8 0.7 0.4 0.6 -1.5 0.7 -0.3 0.3 0.7 0.4 -0.2 0.6 0.2 0.7 0.1 0.6 0 0.7 0.5 0.6 0.1 0.7 -0.7 0.7 -0.2 0.6 0.1 0.7 0.8 0.6 0 0.7 0.1 0.7 0.2 0.6 1 0.7 0.1 0.6 -1.5 0.7 0.2 0.7 1.6 0.6 -0.2 0.7 0.9 0.6 -1 0.7 -0.9 0.6 -0.1 0.7 1.1 0.7 0.1 0.6 -0.8 0.7 0.7 0.6 -0.8 0.7 0.9 0.7 0.7 0.6 -1.2 0.7 1.3 0.6 0.1 0.7 -1 0.7 0 0.6 -0.4 0.7 1.2 0.6 0.6 0.7 -1.6 0.7 -1.4 0.6 0.1 0.7 1.1 0.6 1.3 0.7 1 0.6 0 0.7 -0.5 0.7 -0.5 0.6 0.1 0.7 -0.6 0.6 -0.8 0.7 0.9 0.7 -0.6 0.6 -0.3 0.7 1.7 0.6 -0.3 0.7 -1.5 0.7 0 0.6 -0.2 0.7 1.1 0.6 -0.4 0.7 0.1 0.7 0.7 0.6 -0.3 0.7 -1.2 0.6 0.7 0.7 -0.2 0.6 0.1 0.7 1.2 0.7 0.1 0.6 -0.5 0.7 -1 0.6 0 0.7 0.4 0.7 0.1 0.6 0.2 0.7 0.4 0.6 -1.4 0.7 -0.4 0.7 1 0.6 0.7 0.7 0.2 0.6 -0.5 0.7 0.6 0.6 -1.3 0.7 -0.1 0.7 -0.2 0.6 -0.4 0.7 0.2 0.6 0.2 0.7 -0.3 0.7 0.3 0.6 1 0.7 -0.2 0.6 0.7 0.7 -1.1 0.7 -1.2 0.6 0.7 0.7 1.6 0.6 0.1 0.7 0.3 0.7 -1.1 0.6 -0.5 0.7 0.1 0.6 0.4 0.7 1 0.6 0.5 0.7 -0.3 0.7 -0.4 0.6 -1 0.7 -0.5 0.6 -0.3 0.7 1.9 0.7 0.6 0.6 -0.8 0.7 -1.1 0.6 -0.1 0.7 0.4 0.7 -0.3 0.6 -0.1 0.7 0 0.6 1.4 0.7 0.6 0.7 -0.3 0.6 0.3 0.7 -0.1 0.6 -1.4 0.7 -1 0.6 1 0.7 -0.1 0.7 -0.5 0.6 -0.1 0.7 1 0.6 0.5 0.7 -0.9 0.7 0.1 0.6 0.2 0.7 0.6 0.6 -0.1 0.7 0.1 0.7 -1.1 0.6 0.9 0.7 -0.4 0.6 0.3 0.7 -0.6 0.6 -0.2 0.7 1.2 0.7 -0.6 0.6 -1 0.7 0.7 0.6 0.5 0.7 0.7 0.7 -0.7 0.6 -0.1 0.7 -0.3 0.6 -1.2 0.7 0.9 0.7 1.3 0.6 -0.9 0.7 -1 0.6 -0.2 0.7 0.3 0.7 0.3 0.6 -0.2 0.7 0.2 0.6 -0.8 0.7 -0.5 0.6 0.2 0.7 0.6 0.7 -0.2 0.6 0 0.7 0 0.6 0.7 0.7 0.3 0.7 -1.2 0.6 0.7 0.7 0.9 0.6 -0.8 0.7 0.9 0.7 -1.2 0.6 0.4 0.7 1.5 0.6 -0.3 0.7 -1.3 0.6 -0.1 0.7 0.1 0.7 0.1 0.6 -0.6 0.7 1.1 0.6 0.1 0.7 0.2 0.7 -1.5 0.6 0 0.7 1.5 0.6 -0.1 0.7 -0.7 0.7 -0.3 0.6 -1.5 0.7 -0.8 0.6 -0.4 0.7 0.6 0.7 -1 0.6 -1.4 0.6 -0.8 0.7 0.7 0.7 -0.2 0.6 1.3 0.7 2.6 0.7 1 0.6 0.1 0.7 -0.4 0.6 -1.1 0.7 -2 0.7 -0.4 0.6 0.5 0.7 1 0.6 -0.1 0.7 1.1 0.7 0.9 0.6 0 0.7 -0.1 0.6 0.1 0.7 0.4 0.7 0.1 0.6 -0.2 0.7 0.9 0.6 -0.7 0.7 -0.4 0.6 -0.6 0.7 0.7 0.7 1.1 0.6 0.3 0.7 0.4 0.6 -0.5 0.7 -0.5 0.7 1.3 0.6 0 0.7 -0.2 0.6 0.3 0.7 -0.4 0.7 -0.5 0.6 0.6 0.7 -0.9 0.6 -0.7 0.7 -0.6 0.6 0 0.7 1 0.7 0.6 0.6 -0.4 0.7 0.2 0.6 -1.2 0.7 -0.2 0.7 1.7 0.6 -0.9 0.7 0.1 0.6 -0.3 0.7 -0.5 0.7 -0.1 0.6 1.1 0.7 0 0.6 -0.3 0.7 0.8 0.7 0.5 0.6 -1 0.7 0.4 0.6 0 0.7 -1 0.6 1 0.7 0.6 0.7 -0.5 0.6 -1.1 0.7 1.4 0.6 -0.3 0.7 -0.5 0.7 0.3 0.6 0.3 0.7 -1.3 0.6 -0.8 0.7 -0.1 0.7 0.4 0.6 -0.1 0.7 1 0.6 -0.1 0.7 0.4 0.6 -0.7 0.7 -0.3 0.7 0 0.6 -0.2 0.7 0.5 0.6 -0.1 0.7 0.2 0.7 -0.5 0.6 0.1 0.7 1.2 0.6 0.7 0.7 -0.7 0.7 -1.1 0.6 0.7 0.7 0.9 0.6 0.2 0.7 0.3 0.7 0 0.6 -0.2 0.7 -1.4 0.6 0 0.7 0 0.6 -1.2 0.7 -0.2 0.7 0.5 0.6 0.8 0.7 0.9 0.6 -0.8 0.7 0.4 0.7 0.3 0.6 0.2 0.7 -1.5 0.6 -0.5 0.7 0.1 0.7 0.4 0.6 0.2 0.7 0 0.6 0 0.7 -0.6 0.7 -0.3 0.6 0.7 0.7 1.6 0.6 0 0.7 0.1 0.6 0.4 0.7 -0.7 0.7 -1.2 0.6 0.5 0.7 0.4 0.6 0.8 0.7 0.3 0.7 -0.3 0.6 -0.6 0.7 -0.4 0.6 -0.4 0.7 -0.1 0.7 -0.6 0.6 0.8 0.7 0.3 0.6 1.3 0.7 -0.1 0.6 -1.6 0.7 0.3 0.7 0 0.6 0.9 0.7 0.9 0.6 -0.3 0.7 -1.7 0.7 -0.2 0.6 0.7 0.7 0.2 0.6 -1.2 0.7 0.4 0.7 0.8 0.6 0.8 0.7 0.1 0.6 -0.4 0.7 -0.4 0.7 -0.2 0.6 0.3 0.7 -0.5 0.6 -0.2 0.7 0.9 0.6 0.6 0.7 0.1 0.7 -0.6 0.6 -0.8 0.7 -0.6 0.6 1 0.7 -1.5" fill="none" stroke="#ff0000" stroke-width="5.5" stroke-linejoin="round" stroke-linecap="butt" shape-rendering="crispEdges"/>
<path d="M218.5 912.8l0.7 0.4 0.6 0 0.7 -0.9 0.6 0.7 0.7 0.9 0.7 -0.3 0.6 -1.4 0.7 0.5 0.6 0.2 0.7 0.1 0.6 0.7 0.7 -0.8 0.7 -0.1 0.6 0.9 0.7 -0.7 0.6 -1 0.7 -0.2 0.7 0.2 0.6 -0.5 0.7 1.1 0.6 0.5 0.7 -0.3 0.7 0.9 0.6 0.2 0.7 -0.8 0.6 -0.4 0.7 -1.4 0.7 0.2 0.6 1.6 0.7 -1 0.6 -0.2 0.7 1.6 0.6 -0.4 0.7 -1.5 0.7 -0.1 0.6 0 0.7 -0.2 0.6 -0.2 0.7 0.9 0.7 -0.1 0.6 -0.1 0.7 -0.5 0.6 -0.4 0.7 0.4 0.7 1.9 0.6 0.3 0.7 -1 0.6 -1.2 0.7 -0.3 0.6 0.1 0.7 0.2 0.7 -0.3 0.6 0.3 0.7 0 0.6 0.3 0.7 1 0.7 -0.1 0.6 -0.2 0.7 -0.2 0.6 0.6 0.7 0.4 0.7 -1.2 0.6 -0.7 0.7 0.8 0.6 0.4 0.7 0.4 0.7 -0.7 0.6 0.6 0.7 -1.1 0.6 0.5 0.7 0.1 0.6 0.1 0.7 1.2 0.7 -0.5 0.6 -1.2 0.7 0.5 0.6 0.1 0.7 -1.3 0.7 0.1 0.6 1.4 0.7 0.5 0.6 -0.6 0.7 -0.2 0.7 -0.1 0.6 0 0.7 1.4 0.6 0.4 0.7 -1.6 0.7 -1.2 0.6 0.9 0.7 0.9 0.6 -1 0.7 -0.9 0.6 0.5 0.7 1.3 0.7 -0.1 0.6 -0.6 0.7 0.6 0.6 0.8 0.7 0.6 0.7 -0.5 0.6 -0.8 0.7 0.7 0.6 0.5 0.7 -0.1 0.7 -0.5 0.6 -0.6 0.7 0 0.6 0.6 0.7 -0.2 0.6 -0.4 0.7 -1.2 0.7 -0.6 0.6 0.5 0.7 1 0.6 -0.1 0.7 -1 0.7 0.3 0.6 1.2 0.7 -0.8 0.6 1.2 0.7 0.2 0.7 -0.3 0.6 0.6 0.7 -1 0.6 -1.1 0.7 1.3 0.7 -0.1 0.6 0.7 0.7 -0.4 0.6 -1.8 0.7 -0.9 0.6 0.5 0.7 1.9 0.7 0.2 0.6 -1.5 0.7 -0.5 0.6 0.9 0.7 1.2 0.7 0.4 0.6 0.3 0.7 0.2 0.6 -0.4 0.7 -0.7 0.7 -2 0.6 0.1 0.7 1.9 0.6 -0.2 0.7 -1.1 0.7 -0.5 0.6 0.3 0.7 0.3 0.6 0.4 0.7 -0.2 0.6 -0.7 0.7 -0.5 0.7 0.2 0.6 -0.1 0.7 0.1 0.6 0.5 0.7 0.1 0.7 1.3 0.6 -0.2 0.7 -0.3 0.6 0.1 0.7 -1.1 0.7 -0.8 0.6 0.2 0.7 0.7 0.6 0.2 0.7 -0.2 0.6 0.5 0.7 0.7 0.7 -1.3 0.6 0.4 0.7 0.1 0.6 0 0.7 0.6 0.7 -1 0.6 -0.8 0.7 0.9 0.6 1.6 0.7 -1.1 0.7 -0.4 0.6 1.7 0.7 0.1 0.6 0 0.7 -0.9 0.7 0 0.6 -1.3 0.7 0.3 0.6 1.3 0.7 0 0.6 0.1 0.7 -0.3 0.7 0.2 0.6 -1.2 0.7 0.4 0.6 -0.6 0.7 0.2 0.7 1.3 0.6 -0.2 0.7 0.1 0.6 -0.6 0.7 0.8 0.7 0.6 0.6 -0.9 0.7 -0.8 0.6 1 0.7 0.9 0.6 -0.4 0.7 -1.1 0.7 -0.6 0.6 -0.3 0.7 0.9 0.6 -0.9 0.7 -0.5 0.7 -0.3 0.6 0.4 0.7 0.7 0.6 0.2 0.7 -0.5 0.7 0.6 0.6 0.5 0.7 -1.3 0.6 -0.2 0.7 1.4 0.7 1.3 0.6 0 0.7 -1.2 0.6 -0.9 0.7 1.7 0.6 0.9 0.7 -0.5 0.7 -1.1 0.6 -0.5 0.7 0.5 0.6 0.9 0.7 0.3 0.7 -1.1 0.6 -0.6 0.7 -0.3 0.6 0.5 0.7 -0.1 0.7 -0.5 0.6 0.6 0.7 0.8 0.6 -1.3 0.7 -0.5 0.6 0.6 0.7 0.9 0.7 -0.4 0.6 0.9 0.7 0.6 0.6 -0.1 0.7 -0.7 0.7 -1.4 0.6 0.5 0.7 0.6 0.6 -0.8 0.7 0.6 0.7 1 0.6 -0.1 0.7 -1.6 0.6 -1.1 0.7 -0.2 0.7 0.9 0.6 0.5 0.7 0 0.6 1 0.7 0 0.6 0 0.7 0 0.7 -0.8 0.6 0.2 0.7 -0.6 0.6 -0.5 0.7 0.1 0.7 1.6 0.6 0.1 0.7 -1.5 0.6 0.4 0.7 -0.7 0.7 0.2 0.6 0.6 0.7 1 0.6 -0.7 0.7 -0.3 0.7 -0.4 0.6 -0.4 0.7 -0.3 0.6 -0.5 0.7 0.2 0.6 1.5 0.7 0.8 0.7 -0.3 0.6 -0.5 0.7 0.7 0.6 -1.4 0.7 0.1 0.7 -0.1 0.6 0.2 0.7 1.6 0.6 -0.5 0.7 -1.6 0.7 0.2 0.6 1.2 0.7 -0.6 0.6 -0.6 0.7 0 0.6 0.3 0.7 0.4 0.7 -0.2 0.6 0 0.7 -0.7 0.6 0.8 0.7 0.3 0.7 -0.2 0.6 1.2 0.7 0.4 0.6 -0.8 0.7 -1.1 0.7 -0.4 0.6 0.6 0.7 -0.6 0.6 -0.2 0.7 0.5 0.7 -0.2 0.6 0.9 0.7 0.1 0.6 -1.3 0.7 0.6 0.6 -0.5 0.7 0.3 0.7 1.3 0.6 0.3 0.7 -1 0.6 0.2 0.7 -0.2 0.7 0.5 0.6 -1 0.7 0 0.6 -0.6 0.7 0.8 0.7 1 0.6 0.4 0.7 -0.5 0.6 -0.8 0.7 -0.4 0.6 0.4 0.7 0.2 0.7 -0.1 0.6 0.2 0.7 0.2 0.6 0.2 0.7 -0.6 0.7 0.1 0.6 -0.6 0.7 -0.9 0.6 0.1 0.7 -0.7 0.7 0.4 0.6 0 0.7 -0.8 0.6 -1.2 0.7 -2.4 0.7 -3.6 0.6 -7.2 0.7 -21.3 0.6 -62 0.7 -110.4 0.7 -82.9 0.6 40.9 0.7 66 0.6 14.7 0.7 21.2 0.6 59 0.7 51.2 0.7 24.1 0.6 7.2 0.7 3.1 0.6 0.2 0.7 1.1 0.7 1.9 0.6 1.1 0.7 0.1 0.6 0.3 0.7 -0.4 0.7 0.1 0.6 0.1 0.7 -0.9 0.6 0.3 0.7 0.9 0.6 0.6 0.7 -0.8 0.7 0.4 0.6 1.7 0.7 -0.4 0.6 -0.5 0.7 0.7 0.7 0.3 0.6 0 0.7 -0.5 0.6 -0.5 0.7 -0.9 0.7 0.4 0.6 0.1 0.7 -0.3 0.6 0.6 0.7 0.9 0.6 -1.3 0.7 -0.7 0.7 0.4 0.6 -0.4 0.7 0.3 0.6 1.8 0.7 -0.6 0.7 -1.2 0.6 0.5 0.7 -0.2 0.6 0.9 0.7 1.5 0.7 -0.1 0.6 -1.1 0.7 0.3 0.6 -0.8 0.7 -1 0.7 0.8 0.6 1.3 0.7 0.2 0.6 0.1 0.7 0.1 0.6 -1 0.7 0.4 0.7 0.6 0.6 0.3 0.7 0 0.6 -0.5 0.7 -1.3 0.7 -0.1 0.6 0.2 0.7 -0.9 0.6 0.1 0.7 0.2 0.7 -0.4 0.6 0.2 0.7 0.9 0.6 -0.7 0.7 -0.3 0.6 1.8 0.7 0.4 0.7 -1.3 0.6 0 0.7 -1 0.6 -0.2 0.7 0.4 0.7 1.1 0.6 0.4 0.7 0.4 0.6 -0.1 0.7 0.2 0.7 0.2 0.6 -1 0.7 -1.1 0.6 0.1 0.7 1.6 0.7 0.4 0.6 -0.2 0.7 0.5 0.6 -0.5 0.7 -1.3 0.6 -0.7 0.7 0.9 0.7 1.4 0.6 -0.4 0.7 -2.3 0.6 -0.3 0.7 1.5 0.7 1.5 0.6 0.2 0.7 -0.7 0.6 -1.9 0.7 0.2 0.7 1.3 0.6 -0.5 0.7 0 0.6 0.7 0.7 -1.5 0.7 0.8 0.6 1.2 0.7 0 0.6 -0.2 0.7 -1.1 0.6 0.5 0.7 0.6 0.7 -1.5 0.6 0.5 0.7 1 0.6 -1.1 0.7 0.8 0.7 0 0.6 -0.6 0.7 1.2 0.6 -0.4 0.7 -1.1 0.7 1.5 0.6 0.1 0.7 -1.4 0.6 -0.9 0.7 1.4 0.6 0.2 0.7 -0.3 0.7 -1.2 0.6 0.7 0.7 1.1 0.6 -0.4 0.7 -1.3 0.7 0 0.6 0.5 0.7 0.5 0.6 1.3 0.7 -0.4 0.7 -1.9 0.6 0.4 0.7 -0.1 0.6 1.1 0.7 0.1 0.7 0.6 0.6 0.4 0.7 -0.6 0.6 -2 0.7 -0.3 0.6 1.5 0.7 0.1 0.7 0.2 0.6 -0.6 0.7 -0.1 0.6 0.5 0.7 -0.6 0.7 0 0.6 0.1 0.7 0.1 0.6 -1 0.7 0.6 0.7 0.7 0.6 0.6 0.7 0.1 0.6 -0.6 0.7 0.8 0.7 -0.4 0.6 -0.9 0.7 0 0.6 -0.1 0.7 0.1 0.6 -0.6 0.7 1.2 0.7 -0.9 0.6 -1.3 0.7 0.1 0.6 0.6 0.7 0.5 0.7 1 0.6 -0.2 0.7 0.4 0.6 -1.1 0.7 0.2 0.7 1.5 0.6 0.3 0.7 -0.5 0.6 -2.1 0.7 -0.3 0.6 1.3 0.7 -0.6 0.7 -0.9 0.6 0 0.7 0.5 0.6 0.5 0.7 1.1 0.7 0.5 0.6 -1.3 0.7 0.7 0.6 0.3 0.7 0.6 0.7 0.5 0.6 -0.8 0.7 -1.5 0.6 0.9 0.7 0.3 0.7 -1.3 0.6 -0.6 0.7 1.5 0.6 0.3 0.7 0.3 0.6 0 0.7 -0.6 0.7 -1 0.6 1.7 0.7 0.3 0.6 -1.2 0.7 0.7 0.7 0.4 0.6 -1.3 0.7 -0.4 0.6 0.7 0.7 0.4 0.7 -0.5 0.6 0.6 0.7 0.4 0.6 -0.8 0.7 0.2 0.6 -1.1 0.7 0.7 0.7 0.6 0.6 -1 0.7 -0.6 0.6 -0.1 0.7 0.3 0.7 0.1 0.6 0 0.7 -0.1 0.6 0.4 0.7 -0.6 0.7 -0.1 0.6 0.9 0.7 0.8 0.6 -1.3 0.7 -0.3 0.7 1.3 0.6 -0.4 0.7 -0.6 0.6 1.1 0.7 -0.9 0.6 0.1 0.7 -0.1 0.7 0.8 0.6 -0.5 0.7 0.4 0.6 0.6 0.7 -0.4 0.7 -1.1 0.6 -0.1 0.7 0.6 0.6 0.3 0.7 -0.1 0.7 -1.5 0.6 -0.6 0.7 0.5 0.6 1.5 0.7 -0.5 0.7 0.7 0.6 0.2 0.7 0.7 0.6 -0.2 0.7 -0.4 0.6 -1 0.7 0.9 0.7 -0.9 0.6 -0.6 0.7 1.3 0.6 -0.6 0.7 0 0.7 -0.9 0.6 0.6 0.7 0.4 0.6 0.3 0.7 0.5 0.7 -0.5 0.6 0.4 0.7 -0.6 0.6 0.8 0.7 -0.7 0.6 0.6 0.7 0.8 0.7 -0.3 0.6 -0.4 0.7 -1.1 0.6 0.8 0.7 -1 0.7 0.9 0.6 0.9 0.7 -0.1 0.6 -0.2 0.7 -0.1 0.7 0.3 0.6 -1.1 0.7 1 0.6 -0.2 0.7 -1.4 0.7 0.2 0.6 -0.1 0.7 -0.2 0.6 1.6 0.7 0.5 0.6 -0.9 0.7 -1.3 0.7 1.3 0.6 0.9 0.7 -0.2 0.6 0.4 0.7 0.1 0.7 -0.6 0.6 -0.5 0.7 -0.7 0.6 0.4 0.7 -0.8 0.7 -0.4 0.6 0.1 0.7 -0.2 0.6 -0.6 0.7 0.1 0.6 0.4 0.7 -0.2 0.7 0 0.6 1.7 0.7 0.4 0.6 -0.8 0.7 0.7 0.7 0 0.6 -1.6 0.7 0.7 0.6 0.2 0.7 -0.5 0.7 1.4 0.6 0.2 0.7 -0.8 0.6 0.1 0.7 0 0.7 -1 0.6 1.1 0.7 -0.3 0.6 -0.9 0.7 -0.1 0.6 0.3 0.7 -0.3 0.7 1.1 0.6 0 0.7 0.9 0.6 0.4 0.7 -0.9 0.7 -1.7 0.6 0.1 0.7 1.3 0.6 0.8 0.7 -0.7 0.7 -0.6 0.6 0.6 0.7 -0.3 0.6 -0.1 0.7 0.1 0.7 0.9 0.6 -0.9 0.7 -1.1 0.6 0.7 0.7 -0.3 0.6 -0.5 0.7 0.4 0.7 0.3 0.6 0.9 0.7 -1 0.6 -0.3 0.7 -0.8 0.7 0.6 0.6 1 0.7 0 0.6 0.2 0.7 -0.1 0.7 -0.3 0.6 -0.3 0.7 1.2 0.6 -0.7 0.7 -1.1 0.6 0.9 0.7 -0.8 0.7 0.2 0.6 1 0.7 0.2 0.6 -1.6 0.7 -0.1 0.7 0.8 0.6 0.3 0.7 -0.2 0.6 0.6 0.7 0.1 0.7 -1.9 0.6 0.3 0.7 1.2 0.6 0.3 0.7 -0.2 0.7 -1.7 0.6 -0.7 0.7 0.8 0.6 0.3 0.7 -0.7 0.6 -1.8 0.7 -1.9 0.7 -1.5 0.6 -6.8 0.7 -18.5 0.6 -40.5 0.7 -59.1 0.7 -38.1 0.6 26.1 0.7 47.2 0.6 18.9 0.7 -9.5 0.7 -0.7 0.6 27.4 0.7 29.8 0.6 17.7 0.7 6.7 0.6 2.5 0.7 1.7 0.7 0.2 0.6 -0.2 0.7 1 0.6 -0.8 0.7 0.3 0.7 1.3 0.6 -0.6 0.7 -0.3 0.6 1.4 0.7 -0.5 0.7 -1.4 0.6 0.4 0.7 0.3 0.6 0.2 0.7 0.7 0.7 -0.9 0.6 -0.1 0.7 1.6 0.6 -0.2 0.7 -0.1 0.6 0.8 0.7 0 0.7 -0.2 0.6 -1.1 0.7 -0.5 0.6 0.2 0.7 0.5 0.7 0 0.6 -0.5 0.7 0.9 0.6 1.1 0.7 -0.8 0.7 -1.6 0.6 0.7 0.7 0.3 0.6 -0.5 0.7 1.7 0.6 0.1 0.7 -0.8 0.7 -0.2 0.6 0.1 0.7 -0.4 0.6 0.2 0.7 -0.1 0.7 -0.4 0.6 -0.2 0.7 -0.4 0.6 0.7 0.7 -0.4 0.7 -0.4 0.6 0.3 0.7 1.1 0.6 -0.1 0.7 0 0.7 0 0.6 -0.1 0.7 -0.5 0.6 -0.1 0.7 1.2 0.6 -0.2 0.7 -1.4 0.7 -0.4 0.6 0.9 0.7 0.9 0.6 -0.9 0.7 -0.5 0.7 0.5 0.6 0.5 0.7 0.1 0.6 -0.6 0.7 0.4 0.7 1.4 0.6 -0.5 0.7 -1.3 0.6 -0.1 0.7 0.1 0.7 1.2 0.6 -0.6 0.7 0.5 0.6 -1.2 0.7 -0.5 0.6 0.3 0.7 0.1 0.7 0 0.6 0.2 0.7 -0.2 0.6 -0.3 0.7 1.1 0.7 0.2 0.6 -1.2 0.7 -0.7 0.6 -0.2 0.7 0.6 0.7 1 0.6 0.8 0.7 0.8 0.6 -0.6 0.7 -1.6 0.6 -0.4 0.7 -0.2 0.7 -0.4 0.6 0.2 0.7 1.6 0.6 1.5 0.7 -0.4 0.7 -2.2 0.6 -0.1 0.7 0.9 0.6 0.7 0.7 -1.2 0.7 0.6 0.6 1.3 0.7 -0.4 0.6 -1.3 0.7 0.5 0.7 0.2 0.6 -0.7 0.7 1.3 0.6 -0.2 0.7 -0.9 0.6 -0.6 0.7 0.1 0.7 1.2 0.6 -0.8 0.7 0.5 0.6 0.5 0.7 0 0.7 0 0.6 -0.9 0.7 0.2 0.6 -0.4 0.7 0.8 0.7 0.3 0.6 -0.5 0.7 0.3 0.6 -0.6 0.7 -1.6 0.6 -0.3 0.7 0.4 0.7 0.7 0.6 -1.2 0.7 -4.9 0.6 -7.8 0.7 -11.8 0.6 -4.8 0.7 6.9 0.7 8.2 0.6 3.7 0.7 -3.3 0.7 -1.2 0.6 4.9 0.7 5.2 0.6 2.8 0.7 2.4 0.7 0.7 0.6 -0.2 0.7 1.2 0.6 -0.6 0.7 1.4 0.6 0.1 0.7 -0.4 0.7 -0.9 0.6 -0.3 0.7 0.9 0.6 0.7 0.7 -1.4 0.7 0.3 0.6 1 0.7 0.8 0.6 -0.1 0.7 0.1 0.7 -0.6 0.6 -0.4 0.7 0.3 0.6 -1.3 0.7 0.4 0.7 -1.1 0.6 -0.5 0.7 0.3 0.6 1.3 0.7 1.2 0.6 0.1 0.7 -0.6 0.7 -0.9 0.6 -0.2 0.7 0.2 0.6 0 0.7 0.4 0.7 0.1 0.6 -0.6 0.7 0.9 0.6 -0.6 0.7 0.4 0.7 -1.5 0.6 0.1 0.7 1.8 0.6 -0.7 0.7 -0.1 0.6 0.5 0.7 -1 0.7 0.9 0.6 0.8 0.7 -1.1 0.6 -1.4 0.7 0.5 0.7 1.4 0.6 -0.7 0.7 0.7 0.6 0.3 0.7 0.2 0.7 -0.3 0.6 -0.2 0.7 0.5 0.6 -0.4 0.7 -1.4 0.7 -0.4 0.6 1.2 0.7 0.4 0.6 -0.1 0.7 -0.3 0.6 1.1 0.7 -0.5 0.7 -1 0.6 -0.8 0.7 -0.1 0.6 0.5 0.7 0.9 0.7 -0.1 0.6 0.4 0.7 -0.5 0.6 0.9 0.7 0.5 0.7 -0.6 0.6 -0.5 0.7 -1.1 0.6 -0.2 0.7 -0.3 0.7 0.3 0.6 0.5 0.7 -1.1 0.6 -0.1 0.7 -2.8 0.6 -7.9 0.7 -15.6 0.7 -25.2 0.6 -22.4 0.3 -2.1 0.4 4.2 0.6 21.6 0.7 18 0.7 2 0.6 -7.9 0.7 -1.3 0.6 11.7 0.7 13.2 0.7 7.6 0.6 5.2 0.7 2.3 0.6 0.7 0.7 0.5 0.6 -1.3 0.7 -0.5 0.7 0.3 0.6 0.1 0.7 1.5 0.6 -0.1 0.7 0.1 0.7 -0.1 0.6 -0.2 0.7 0 0.6 1 0.7 0.7 0.7 0 0.6 -1 0.7 -0.5 0.6 0.5 0.7 0.6 0.7 -1.5 0.6 -0.9 0.7 1.2 0.6 0.8 0.7 -1.4 0.6 0.2 0.7 0.9 0.7 0 0.6 -0.4 0.7 0.9 0.6 0.4 0.7 -0.1 0.7 -0.3 0.6 -1.5 0.7 0.1 0.6 0.1 0.7 -0.2 0.7 0.7 0.6 1.2 0.7 -0.5 0.6 -1.1 0.7 0.8 0.6 0 0.7 -1 0.7 -0.3 0.6 -0.2 0.7 0.9 0.6 0.7 0.7 -0.8 0.7 -0.5 0.6 0.4 0.7 1.2 0.6 -1 0.7 -0.3 0.7 -0.2 0.6 0.7 0.7 1 0.6 0.3 0.7 -0.4 0.7 0.1 0.6 -1 0.7 0.2 0.6 -0.5 0.7 -0.5 0.6 0.1 0.7 0 0.7 0.5 0.6 -0.3 0.7 1 0.6 -0.1 0.7 -1.5 0.7 0.6 0.6 0.9 0.7 0.2 0.6 -0.5 0.7 -1 0.7 0.8 0.6 -1 0.7 -0.2 0.6 1.5 0.7 -0.4 0.7 -0.9 0.6 -0.1 0.7 0.8 0.6 0.3 0.7 -0.9 0.6 0.6 0.7 0.6 0.7 0.7 0.6 -1 0.7 -0.7 0.6 0.4 0.7 -0.9 0.7 0.3 0.6 1.7 0.7 -0.3 0.6 -0.9 0.7 -0.6 0.7 -0.1 0.6 0.6 0.7 0.7 0.6 0.9 0.7 -0.8 0.6 -0.5 0.7 0 0.7 -0.2 0.6 0.2 0.7 -0.3 0.6 -0.4 0.7 0.6 0.7 0.5 0.6 -0.9 0.7 0.9 0.6 1 0.7 -0.7 0.7 -0.3 0.6 0.7 0.7 -0.3 0.6 -1.5 0.7 -0.4 0.7 1.5 0.6 -0.6 0.7 -1.2 0.6 -0.9 0.7 0.4 0.6 0.5 0.7 -2.4 0.7 -6.1 0.6 -9 0.7 -12.7 0.6 -7.4 0.7 7.4 0.7 11 0.6 6.2 0.7 -0.9 0.6 -4 0.7 -0.8 0.7 6.3 0.6 5.7 0.7 4.9 0.6 0.6 0.7 0.8 0.6 0.9 0.7 1.3 0.7 -0.4 0.6 0.6 0.7 -1.3 0.6 -1 0.7 0 0.7 -0.4 0.6 0.3 0.7 -0.8 0.6 -0.7 0.7 -0.5 0.7 0.4 0.6 0.8 0.7 -1.2 0.6 -0.6 0.7 -0.3 0.7 -1.1 0.2 -0.4 0.4 -1.1 0.7 1 0.6 0.9 0.7 -0.9 0.6 0.1 0.7 2.1 0.7 0.5 0.6 -0.8 0.7 -0.1 0.6 1.2 0.7 0.8 0.7 0.5 0.6 1.5 0.7 0.3 0.6 0.4 0.7 0 0.7 0.8 0.6 -0.4 0.7 -0.5 0.6 0.2 0.7 0.8 0.6 -0.3 0.7 -0.7 0.7 -0.4 0.6 1.3 0.7 0.4 0.6 0.1 0.7 -1.3 0.7 -1.1 0.6 -0.4 0.7 0.8 0.6 0.4 0.7 -0.1 0.7 0.6 0.6 -0.3 0.7 0.7 0.6 -1.3 0.7 -0.6 0.7 0.4 0.6 1.7 0.7 0.7 0.6 -0.8 0.7 -0.8 0.6 1 0.7 -0.2 0.7 -0.7 0.6 1.2 0.7 -0.3 0.6 -1.1 0.7 -0.2 0.7 -1 0.6 -0.2 0.7 0.6 0.6 1.6 0.7 -0.2 0.7 0.3 0.6 0.4 0.7 -1.4 0.6 -0.8 0.7 0.7 0.7 1.3 0.6 -1.2 0.7 -1.2 0.6 0.1 0.7 1.2 0.6 1 0.7 -0.8 0.7 0.5 0.6 -0.1 0.7 0.9 0.6 -0.7 0.7 -1.1 0.7 0 0.6 0.5 0.7 -0.1 0.6 0.4 0.7 0.6 0.7 -1.6 0.6 0.3 0.7 1.4 0.6 0.7 0.7 -0.4 0.6 -1.2 0.7 -0.1 0.7 1.1 0.6 0 0.7 0 0.6 -1.3 0.7 0.9 0.7 0.7 0.6 0 0.7 -1.4 0.6 0.5 0.7 0.6 0.7 -1.1 0.6 -0.6 0.7 0.6 0.6 -0.8 0.7 0.3 0.7 1.6 0.6 -0.2 0.7 0.8 0.6 -0.3 0.7 -2 0.6 0 0.7 0.9 0.7 -1 0.6 -0.7 0.7 0.5 0.6 2 0.7 0.7 0.7 -0.5 0.6 -1.3 0.7 -0.5 0.6 0.2 0.7 -0.9 0.7 0.6 0.6 2 0.7 0.3 0.6 -1.7 0.7 -0.5 0.7 1.1 0.6 0.8 0.7 -0.7 0.6 -0.2 0.7 0.3 0.6 -0.1 0.7 -1 0.7 -0.1 0.6 0.4 0.7 0.5 0.6 0.6 0.7 -1.7 0.7 -0.6 0.6 1.5 0.7 1.5 0.6 -0.4 0.7 -1.3 0.7 1.4 0.6 -0.1 0.7 -1.7 0.6 -0.6 0.7 0.1 0.6 0.7 0.7 0.2 0.7 -0.6 0.6 0.5 0.7 0 0.6 -0.5 0.7 0.5 0.7 -0.7 0.6 0.2 0.7 -0.4 0.6 0 0.7 1.2 0.7 0.7 0.6 -0.8 0.7 -1.2 0.6 0.4 0.7 1.5 0.7 -0.4 0.6 -0.9 0.7 -0.2 0.6 -0.1 0.7 0.4 0.6 -0.4 0.7 0.9 0.7 -0.7 0.6 0.5 0.7 0.9 0.6 -1.6 0.7 0.2 0.7 1 0.6 0.4 0.7 0.5 0.6 -0.2 0.7 -0.6 0.7 0 0.6 -0.6 0.7 1 0.6 -0.1 0.7 -1.4 0.6 0.8 0.7 -0.6 0.7 -0.9 0.6 0 0.7 0.8 0.6 1.5 0.7 0.4 0.7 -0.8 0.6 -1 0.7 -0.4 0.6 -0.4 0.7 -0.1 0.7 1 0.6 1 0.7 0.5 0.6 0.1 0.7 0 0.7 -0.5 0.6 0.1 0.7 -0.2 0.6 0.1 0.7 -0.2 0.6 -1.7 0.7 -0.6 0.7 0.6 0.6 0.7 0.7 -0.1 0.6 -0.4 0.7 1.1 0.7 0.2 0.6 -0.3 0.7 0.6 0.6 -1 0.7 0.2 0.7 1 0.6 -1.3 0.7 -0.8 0.6 -0.2 0.7 0.9 0.6 0.6 0.7 -0.2 0.7 0.4 0.6 0.2 0.7 0.3 0.6 0.8 0.7 -0.8 0.7 -1.2 0.6 1.3 0.7 0.3 0.6 0 0.7 0.3 0.7 -0.5 0.6 -1.4 0.7 0.2 0.6 0.6 0.7 0.1 0.7 0.2 0.6 -0.4 0.7 0.1 0.6 -0.6 0.7 -0.1 0.6 0.5 0.7 -0.2 0.7 -0.3 0.6 0 0.7 -0.1 0.6 -0.1 0.7 0.2 0.7 0.1 0.6 -0.7 0.7 0.5 0.6 0.7 0.7 -0.2 0.7 0.4 0.6 -0.7 0.7 0 0.6 0 0.7 -0.2 0.7 0.7 0.6 1.1 0.7 -0.2 0.6 -1.5 0.7 0.9 0.6 0.1 0.7 -0.8 0.7 -0.7 0.6 0 0.7 0.2 0.6 0 0.7 1.6 0.7 0.8 0.6 -0.6 0.7 -2.1 0.6 0.2 0.7 1.7 0.7 -0.5 0.6 -0.8 0.7 0.8 0.6 0.2 0.7 0.3 0.6 0 0.7 -1.4 0.7 -0.1 0.6 1.2 0.7 0.7 0.6 -0.8 0.7 -0.2 0.7 -0.6 0.6 -0.6 0.7 1.5 0.6 -0.5 0.7 -1.2 0.7 -0.3 0.6 1.1 0.7 1.3 0.6 0.3 0.7 0.1 0.7 0.1 0.6 -0.9 0.7 -1.3 0.6 -0.2 0.7 0.8 0.6 -0.2 0.7 -0.1 0.7 0.9 0.6 -1.5 0.7 -0.4 0.6 0.4 0.7 0.9 0.7 0.4 0.6 -1.1 0.7 0 0.6 1.4 0.7 0.6 0.7 -0.6 0.6 0.5 0.7 -0.6 0.6 -0.7 0.7 -0.6 0.7 -0.2 0.6 0.8 0.7 1.3 0.6 -0.2 0.7 0.2 0.6 0.3 0.7 -0.4 0.7 -1.5 0.6 -0.9 0.7 0 0.6 1.1 0.7 -0.2 0.7 1.2 0.6 0.1 0.7 -1.1 0.6 0.7 0.7 -0.6 0.7 0.4 0.6 0.3 0.7 -1.6 0.6 -0.2 0.7 0.7 0.6 1.5 0.7 0.3 0.7 -1.3 0.6 -0.7 0.7 1.1 0.6 -0.5 0.7 0.7 0.7 0.9 0.6 -0.3 0.7 -0.5 0.6 -0.2 0.7 -0.3 0.7 -0.1 0.6 0 0.7 0.8 0.6 0 0.7 -1.9 0.7 0.1 0.6 1.4 0.7 0.6 0.6 -0.6 0.7 -0.8 0.6 -0.2 0.7 0.3 0.7 -1 0.6 0.5 0.7 1.4 0.6 -0.2 0.7 -0.4 0.7 -1.1 0.6 0 0.7 1.2 0.6 -0.8 0.7 0.4 0.7 0.4 0.6 -0.4 0.7 -0.2 0.6 0.6 0.7 -0.2 0.6 -1 0.7 0.5 0.7 1 0.6 -0.2 0.7 -0.7 0.6 0.3 0.7 -0.4 0.7 -0.9 0.6 0.5 0.7 1.5 0.6 -0.1 0.7 -0.9 0.7 -0.2 0.6 -0.5 0.7 -0.4 0.6 0.5 0.7 0.4 0.7 -0.1 0.6 -0.1 0.7 1.2 0.6 -0.7 0.7 -0.8 0.6 0.8 0.7 -0.4 0.7 0.8 0.6 0 0.7 -0.2 0.6 0.1 0.7 0.6 0.7 -1.1 0.6 -0.6 0.7 1.1 0.6 0.3 0.7 -0.8 0.7 0.5 0.6 0.2 0.7 -0.7 0.6 0.9 0.7 -0.5 0.6 -0.2 0.7 0 0.7 0.9 0.6 -0.2 0.7 -0.7 0.6 0 0.7 0.7 0.7 -0.9 0.6 -0.8 0.7 0.2 0.6 1.9 0.7 0.6 0.7 0 0.6 -0.1 0.7 -0.8 0.6 0.5 0.7 -0.7 0.7 -1 0.6 -0.1 0.7 0 0.6 -0.1 0.7 -0.1 0.6 0.6 0.7 0.8 0.7 -1.4 0.6 0.5 0.7 1.1 0.6 -0.3 0.7 -1.2 0.7 0.9 0.6 -0.4 0.7 0.4 0.6 0.3 0.7 0.6 0.7 0.2 0.6 -0.8 0.7 -1.6 0.6 -0.2 0.7 -0.1 0.7 -0.4 0.6 0.1 0.7 0.6 0.6 1.5 0.7 -0.1 0.6 0.3 0.7 0.3 0.7 -0.4 0.6 -0.9 0.7 -1.3 0.6 -0.5 0.7 0.3 0.7 0.4 0.6 -1.2 0.7 -0.2 0.6 -0.4 0.7 -1.9 0.7 -1 0.6 -2.9 0.7 -3.7 0.6 -9 0.7 -24 0.6 -47.3 0.7 -67.8 0.7 -57.4 0.3 -10.1 0.3 7.6 0.7 55.8 0.6 62.3 0.7 38.9 0.7 4.2 0.6 -21.9 0.7 -28.1 0.6 -7.3 0.7 23.5 0.7 34.5 0.6 28.3 0.7 15.3 0.6 8 0.7 3.3 0.7 0.6 0.6 -0.3 0.7 0 0.6 0.6 0.7 1.9 0.6 0.4 0.7 -1.3 0.7 0.1 0.6 2 0.7 0.3 0.6 -1.2 0.7 -0.8 0.7 1.2 0.6 -0.4 0.7 0 0.6 0 0.7 1.2 0.7 -0.5 0.6 -1.1 0.7 0.8 0.6 0 0.7 0.6 0.7 -0.6 0.6 0.4 0.7 0.3 0.6 -0.9 0.7 -0.6 0.6 0.2 0.7 0.1 0.7 1.2 0.6 -0.9 0.7 -0.7 0.6 0.9 0.7 0.5 0.7 0.3 0.6 -0.6 0.7 -1.2 0.6 0.3 0.7 2.1 0.7 -0.3 0.6 -1 0.7 -0.1 0.6 1.1 0.7 0.5 0.6 -0.7 0.7 -1.1 0.7 0.3 0.6 1.1 0.7 -0.4 0.6 -0.3 0.7 -0.9 0.7 1.1 0.6 1.2 0.7 0.2 0.6 -0.5 0.7 -1.2 0.7 -0.3 0.6 0.3 0.7 0.1 0.6 0.2 0.7 0.1 0.7 1.1 0.6 0.2 0.7 -1.1 0.6 0.3 0.7 0.8 0.6 -0.1 0.7 -1.3 0.7 -1.1 0.6 -0.8 0.7 0.2 0.6 0.8 0.7 -0.3 0.7 0.9 0.6 0.8 0.7 -0.9 0.6 0.3 0.7 0.9 0.7 -0.6 0.6 0.5 0.7 0.1 0.6 -1.6 0.7 -0.3 0.6 0.9 0.7 -0.5 0.7 -0.9 0.6 0.2 0.7 0.5 0.6 -0.3 0.7 0 0.7 -1 0.6 -0.7 0.7 0 0.6 0 0.7 -2.7 0.7 -4.4 0.6 -8.7 0.7 -16.4 0.6 -26.8 0.7 -27.8 0.5 -7.6 0.8 18.9 0.7 27.1 0.6 21 0.7 8.3 0.6 -4.9 0.7 -12.3 0.7 -11.2 0.6 2.3 0.7 13.2 0.6 13.3 0.7 9.8 0.7 5.2 0.6 2.2 0.7 1.3 0.6 0.2 0.7 0 0.7 1.1 0.6 0.6 0.7 0.4 0.6 0 0.7 0.8 0.7 -1.1 0.6 -0.1 0.7 -0.3 0.6 0.5 0.7 0.2 0.6 0 0.7 -0.3 0.7 0.4 0.6 0.6 0.7 -0.7 0.6 -0.4 0.7 -0.2 0.7 0.4 0.6 0.2 0.7 0.9 0.6 -0.3 0.7 -0.5 0.7 1.1 0.6 0.9 0.7 -1 0.6 -0.4 0.7 0.3 0.6 0.4 0.7 0.7 0.7 -1.2 0.6 -1.1 0.7 1 0.6 0.3 0.7 -0.3 0.7 0.5 0.6 0.3 0.7 -0.8 0.6 -1 0.7 -0.4 0.7 0.9 0.6 0.3 0.7 -0.5 0.6 1.5 0.7 -0.4 0.7 -0.9 0.6 0.5 0.7 0.6 0.6 -0.4 0.7 -0.2 0.6 1 0.7 0.3 0.7 0.1 0.6 -1.2 0.7 -0.4 0.6 -0.8 0.7 0.5 0.7 1.5 0.6 0.7 0.7 -0.7 0.6 -1.6 0.7 0 0.7 1.2 0.6 0.4 0.7 -1.5 0.6 -0.7 0.7 0.3 0.6 0.1 0.7 -0.4 0.7 -0.2 0.6 0.8 0.7 1.7 0.6 0.2 0.7 -0.2 0.7 -0.6 0.6 -0.4 0.7 -0.4 0.6 -0.4 0.7 -0.6 0.7 -0.1 0.6 1.1 0.7 0 0.6 0.3 0.7 0.7 0.7 -1.8 0.6 0 0.7 1.5 0.6 -0.1 0.7 0.1 0.6 0.3 0.7 0.5 0.7 0.3 0.6 -0.2 0.7 -0.5 0.6 -0.7 0.7 -0.6 0.7 0.8 0.6 0.3 0.7 -0.2 0.6 -0.7 0.7 1.5 0.7 -0.1 0.6 -1.3 0.7 1.3 0.6 -0.1 0.7 -1.9 0.6 0.1 0.7 1 0.7 1 0.6 -0.3 0.7 -1.2 0.6 1.1 0.7 -0.1 0.7 -1.1 0.6 1 0.7 -0.9 0.6 -0.6 0.7 1.4 0.7 0.6 0.6 0.1 0.7 -1.8 0.6 -0.6 0.7 0.8 0.7 1.6 0.6 0.4 0.7 0.2 0.6 -0.1 0.7 0.1 0.6 -0.5 0.7 -0.7 0.7 0.1 0.6 -0.2 0.7 -0.1 0.6 -1.4 0.7 -0.2 0.7 0.5 0.6 0.7 0.7 -0.9 0.6 1 0.7 1.3 0.7 -0.3 0.6 -0.5 0.7 -1.2 0.6 0 0.7 -0.5 0.7 0.3 0.6 -0.4 0.7 0.5 0.6 0.8 0.7 0.4 0.6 -0.6 0.7 0.7 0.7 -0.1 0.6 0.2 0.7 0.5 0.6 0.6 0.7 -0.1 0.7 0 0.6 -0.3 0.7 -0.1 0.6 -0.4 0.7 -1.4 0.7 0 0.6 0.8 0.7 1.2 0.6 0.2 0.7 -0.6 0.6 -0.7 0.7 0.5 0.7 -0.1 0.6 -0.6 0.7 -0.4 0.6 0.6 0.7 -1.1 0.7 0.5 0.6 0.8 0.7 -0.1 0.6 -0.7 0.7 -0.5 0.7 0.4 0.6 1.3 0.7 0.8 0.6 -0.4 0.7 -1.2 0.7 -0.4 0.6 -0.8 0.7 -0.2 0.6 0.1 0.7 1 0.6 -0.4 0.7 -0.5 0.7 0.6 0.6 0 0.7 -0.2 0.6 1.2 0.7 -1 0.7 0.8 0.6 0.7 0.7 -1.9 0.6 0.1 0.7 1.6 0.7 0.5 0.6 -0.4 0.7 0.1 0.6 -0.1 0.7 -0.2 0.7 -0.8 0.6 1 0.7 0.2 0.6 -1.2 0.7 0.1 0.6 -0.9 0.7 0.7 0.7 1.4 0.6 -0.7 0.7 -0.8 0.6 1 0.7 0.2 0.7 0.1 0.6 -0.4 0.7 -1.4 0.6 -0.2 0.7 0.3 0.7 -0.7 0.6 0.6 0.7 0.9 0.6 -0.6 0.7 -0.2 0.6 0.4 0.7 0.8 0.7 -0.6 0.6 1 0.7 -0.2 0.6 -1.3 0.7 0.3 0.7 0.3 0.6 0.4 0.7 0.2 0.6 -0.4 0.7 -1.1 0.7 0.8 0.6 -0.4 0.7 0 0.6 -0.2 0.7 1 0.7 -1.5 0.6 -0.6 0.7 0 0.6 -0.1 0.7 0.6 0.6 1.9 0.7 -0.3 0.7 0 0.6 0.4 0.7 -1.5 0.6 0.7 0.7 0 0.7 0.5 0.6 0.1 0.7 0.6 0.6 0.2 0.7 -0.2 0.7 -1 0.6 0.9 0.7 -0.8 0.6 -0.9 0.7 1.3 0.6 -0.9 0.7 -0.5 0.7 0.5 0.6 0.7 0.7 -0.5 0.6 0.1 0.7 0.6 0.7 -0.9 0.6 -0.4 0.7 1 0.6 0.2 0.7 -0.9 0.7 0.3 0.6 -0.9 0.7 0.9 0.6 -0.1 0.7 -0.5 0.7 -0.6 0.6 -1.9 0.7 -4 0.6 -5.9 0.7 -8.3 0.6 -6.3 0.5 -0.9 0.2 -0.2 0.7 6.6 0.6 7.5 0.7 5.8 0.6 3.4 0.7 0.2 0.7 -2.2 0.6 -4.6 0.7 -1.8 0.6 0.4 0.7 3.6 0.7 3.9 0.6 1.9 0.7 2.5 0.6 -0.3 0.7 0.1 0.6 0 0.7 0 0.7 0.5 0.6 1.8 0.7 0 0.6 -0.5 0.7 0.6 0.7 -0.6 0.6 -0.3 0.7 -1.2 0.6 0.4 0.7 0.4 0.7 0 0.6 0.9 0.7 0 0.6 0.3 0.7 -1.1 0.7 0.4 0.6 0.6 0.7 -0.6 0.6 -0.6 0.7 -0.3 0.6 -0.2 0.7 0.2 0.7 1.3 0.6 0.1 0.7 -1 0.6 1.1 0.7 -0.9 0.7 -1.1 0.6 0.1 0.7 0.3 0.6 1.6 0.7 -0.3 0.7 -1.4 0.6 -0.5 0.7 0.4 0.6 1 0.7 0.6 0.7 0.8 0.6 -0.5 0.7 -1.8 0.6 0.5 0.7 0.1 0.6 -0.9 0.7 -1.3 0.7 -1 0.6 -2.3 0.7 -3.4 0.6 -6.7 0.7 -7.4 0.5 -1.7 0.2 1.5 0.6 4.7 0.7 6.9 0.6 4.6 0.7 2.2 0.7 0 0.6 -2.6 0.7 -2.9 0.6 -2.8 0.7 0.7 0.6 3.7 0.7 3.5 0.7 2.4 0.6 1.8 0.7 1.7 0.6 0 0.7 0.2 0.7 0.1 0.6 0.4 0.7 -0.8 0.6 -0.1 0.7 0 0.7 0.5 0.6 -0.4 0.7 -0.6 0.6 0.8 0.7 0.3 0.7 -1.1 0.6 -0.8 0.7 0.7 0.6 0.9 0.7 -1.4 0.6 0.4 0.7 1.1 0.7 -1.1 0.6 0 0.7 0.2 0.6 1.2 0.7 -1 0.7 0.1 0.6 1.6 0.7 0.4 0.6 -0.8 0.7 -1 0.7 0 0.6 -0.7 0.7 0.9 0.6 1 0.7 -0.2 0.6 -1.8 0.7 -0.3 0.7 0.9 0.6 0.1 0.7 -1.1 0.6 0.3 0.7 1 0.7 1 0.6 -1.2 0.7 -0.9 0.6 0.2 0.7 0.4 0.7 1.1 0.6 -1.1 0.7 0.4 0.6 0.4 0.7 -0.5 0.7 -0.5 0.6 1.1 0.7 -0.2 0.6 -0.5 0.7 0.6 0.6 0.3 0.7 0 0.7 0.1 0.6 -1.5 0.7 0.1 0.6 0.7 0.7 1 0.7 -0.6 0.6 0.4 0.7 -0.9 0.6 0 0.7 -0.6 0.7 0.6 0.6 1.5 0.7 0.2 0.6 -0.9 0.7 -0.7 0.7 0.1 0.6 1.1 0.7 -0.2 0.6 -0.4 0.7 -0.7 0.6 0.1 0.7 0.2 0.7 -1.1 0.6 0.4 0.7 0.7 0.6 -0.8 0.7 0.3 0.7 0.5 0.6 0.1 0.7 0.7 0.6 -1.3 0.7 -0.1 0.7 1.5 0.6 0.1 0.7 -0.9 0.6 0 0.7 0.3 0.6 0.4 0.7 -0.7 0.7 0.4 0.6 0.7 0.7 -0.6 0.6 -0.1 0.7 -0.5 0.7 -1.5 0.6 -0.2 0.7 0.9 0.6 -0.2 0.7 -0.4 0.7 0.5 0.6 1.1 0.7 0 0.6 0.5 0.7 0.1 0.7 0.3 0.6 0 0.7 0 0.6 -0.6 0.7 -1 0.6 0.4 0.7 -0.4 0.7 0.8 0.6 0 0.7 -0.4 0.6 -0.2 0.7 -0.1 0.7 1.5 0.6 -0.1 0.7 -0.5 0.6 0.3 0.7 -1.6 0.7 -0.7 0.6 0.7 0.7 -0.5 0.6 0.3 0.7 1.1 0.7 0.3 0.6 -0.8 0.7 0.8 0.6 -1.5 0.7 0.2 0.6 1.5 0.7 -0.9 0.7 -0.8 0.6 1.1 0.7 -0.1 0.6 -0.1 0.7 1.3 0.7 -0.3 0.6 -0.5 0.7 0.1 0.6 -1.2 0.7 -0.3 0.7 0.8 0.6 -0.2 0.7 -0.9 0.6 0.7 0.7 1.1 0.6 -0.5 0.7 -1.1 0.7 0.4 0.6 1 0.7 -0.9 0.6 -0.5 0.7 -0.2 0.7 0.6 0.6 0.9 0.7 -0.1 0.6 0.2 0.7 0.3 0.7 -1 0.6 0.2 0.7 0.2 0.6 0.7 0.7 -0.6 0.7 -0.5 0.6 1.1 0.7 0.1 0.6 0.1 0.7 -1.3 0.6 -0.8 0.7 0.9 0.7 1.7 0.6 0 0.7 -1.1 0.6 0.6 0.7 0.1 0.7 0 0.6 -1.5 0.7 -0.9 0.6 0.9 0.7 1 0.7 -0.3 0.6 -0.5 0.7 -0.1 0.6 -0.5 0.7 0 0.6 0.5 0.7 0.7 0.7 -0.6 0.6 1.1 0.7 -0.1 0.6 0.2 0.7 -0.5 0.7 0.5 0.6 -1.3 0.7 -1 0.6 1.1 0.7 1.1 0.7 0.4 0.6 -0.6 0.7 -1.2 0.6 0.3 0.7 -0.2 0.7 1 0.6 0.7 0.7 -0.1 0.6 -0.5 0.7 -0.7 0.6 -1.2 0.7 0.5 0.7 0.9 0.6 0 0.7 -0.5 0.6 -0.5 0.7 -1 0.7 -0.1 0.6 -2.7 0.7 -2.6 0.6 -4 0.7 -11.3 0.7 -15.4 0.6 -16.7 0.8 -11.8 0.5 3.3 0.7 14.5 0.6 17 0.7 12.7 0.7 7.9 0.6 0.3 0.7 -5.8 0.6 -8 0.7 -7.3 0.7 -2.7 0.6 3.1 0.7 8 0.6 9.3 0.7 5.9 0.7 3.6 0.6 1.3 0.7 2 0.6 -0.3 0.7 -0.4 0.7 0.3 0.6 0.8 0.7 0.3 0.6 -0.6 0.7 0 0.6 1.7 0.7 0.4 0.7 -1.3 0.6 -1.3 0.7 -0.2 0.6 -0.2 0.7 1.2 0.7 0.5 0.6 -1.7 0.7 -1.2 0.6 -2.2 0.7 -6.4 0.7 -7.1 0.6 -8.9 0.8 -6.4 0.5 2.8 0.7 6.6 0.7 8.6 0.6 7 0.7 2.2 0.6 0.4 0.7 -0.7 0.6 -3.1 0.7 -4.1 0.7 -3.1 0.6 0.6 0.7 4.2 0.6 4.1 0.7 4.4 0.7 3.1 0.6 0.1 0.7 0.4 0.6 0.9 0.7 0.3 0.7 -0.4 0.6 -0.4 0.7 -1.2 0.6 0.8 0.7 1.6 0.6 -0.2 0.7 -1.3 0.7 1.2 0.6 0.4 0.7 -0.9 0.6 -0.1 0.7 1.4 0.7 -0.4 0.6 -1.8 0.7 0.3 0.6 0 0.7 0.7 0.7 0.4 0.6 -1.3 0.7 0.1 0.6 1.1 0.7 -0.7 0.7 0.2 0.6 -0.1 0.7 -0.5 0.6 0.5 0.7 -0.8 0.6 -0.4 0.7 0.8 0.7 0.2 0.6 1.2 0.7 0.8 0.6 -0.2 0.7 -1 0.7 -0.1 0.6 -1 0.7 0.5 0.6 -0.3 0.7 0.6 0.7 -0.4 0.6 0.2 0.7 0.5 0.6 0 0.7 0.4 0.7 0.1 0.6 -1.9 0.7 -0.4 0.6 0.7 0.7 0.9 0.6 0.3 0.7 -1.3 0.7 -0.4 0.6 0.7 0.7 -0.1 0.6 -0.2 0.7 0.1 0.7 -0.2 0.6 1.2 0.7 -0.2 0.6 -0.3 0.7 0.4 0.7 -0.7 0.6 -0.5 0.7 0.1 0.6 -0.1 0.7 0.6 0.6 1 0.7 -0.7 0.7 -0.4 0.6 -0.5 0.7 -0.3 0.6 0.6 0.7 0.1 0.7 0 0.6 0.6 0.7 1.2 0.6 0 0.7 -1.2 0.7 -0.7 0.6 0.1 0.7 0 0.6 -0.5 0.7 1.3 0.7 0.7 0.6 -1.5 0.7 -0.2 0.6 0.2 0.7 -0.2 0.6 -0.1 0.7 0.6 0.7 0.7 0.6 0.5 0.7 -0.9 0.6 -0.6 0.7 0.4 0.7 0.5 0.6 -1.5 0.7 -0.4 0.6 0.3 0.7 0.8 0.7 1 0.6 -0.4 0.7 -1 0.6 0.6 0.7 -0.6 0.6 0 0.7 0.5 0.7 0.2 0.6 -0.2 0.7 1 0.6 0 0.7 -0.5 0.7 -0.2 0.6 0.9 0.7 0.1 0.6 -0.7 0.7 -0.8 0.7 -0.3 0.6 0.2 0.7 0.8 0.6 0.9 0.7 0.3 0.7 0.6 0.6 -0.4 0.7 -1.1 0.6 0.4 0.7 -0.8 0.6 -0.4 0.7 0 0.7 -0.2 0.6 -0.1 0.7 0.6 0.6 0.7 0.7 -1.2 0.7 1 0.6 0.6 0.7 0.2 0.6 -0.7 0.7 -0.1 0.7 0.3 0.6 -0.3 0.7 -0.1 0.6 0.4 0.7 -0.5 0.6 0.4 0.7 -0.7 0.7 -0.8 0.6 0.6 0.7 -0.2 0.6 1.1 0.7 1.1 0.7 0 0.6 0 0.7 -0.5 0.6 -1.5 0.7 1.4 0.7 -0.1 0.6 -2 0.7 -0.1 0.6 1.6 0.7 -0.4 0.7 -0.8 0.6 0.8 0.7 1.1 0.6 0.1 0.7 -0.9 0.6 0.5 0.7 -0.3 0.7 -0.4 0.6 1 0.7 0.1 0.6 -0.7 0.7 -0.6 0.7 0.4 0.6 -1.4 0.7 -0.5 0.6 0.9 0.7 1 0.7 0.7 0.6 0.6 0.7 -0.8 0.6 -1.2 0.7 -0.8 0.7 0.3 0.6 0.8 0.7 1.1 0.6 -0.3 0.7 0.6 0.6 -0.7 0.7 -1.8 0.7 -0.1 0.6 0.8 0.7 0.8 0.6 0.9 0.7 0.1 0.7 -1.2 0.6 1.2 0.7 0.6 0.6 -0.4 0.7 -1.1 0.7 -1 0.6 -0.1 0.7 -0.4 0.6 0.1 0.7 -0.3 0.6 -0.1 0.7 1.2 0.7 0.4 0.6 -0.9 0.7 0.6 0.6 -0.2 0.7 0 0.7 0.7 0.6 0.2 0.7 0.7 0.6 -0.5 0.7 -0.7 0.7 -0.1 0.6 -1.4 0.7 0.1 0.6 1.3 0.7 -0.8 0.7 -0.6 0.6 0.2 0.7 2 0.6 0.3 0.7 -1.3 0.6 0.8 0.7 0.1 0.7 -1.2 0.6 -0.3 0.7 0.3 0.6 1.2 0.7 -0.1 0.7 -0.7 0.6 0.6 0.7 0 0.6 0 0.7 0.3 0.7 -0.5 0.6 -0.9 0.7 1.8 0.6 0.7 0.7 -1 0.7 -1.4 0.6 0.8 0.7 -0.9 0.6 0 0.7 0.5 0.6 -0.4 0.7 0.4 0.7 0.5 0.6 -0.2 0.7 0.5 0.6 0.4 0.7 0.1 0.7 -1 0.6 0.2 0.7 -0.3 0.6 0.4 0.7 -0.7 0.7 0.2 0.6 -0.5 0.7 0.7 0.6 -0.4 0.7 -0.1 0.6 -1 0.7 0.6 0.7 0.8 0.6 0.9 0.7 0.6 0.6 -0.4 0.7 -1.1 0.7 0.2 0.6 -0.2 0.7 0.3 0.6 -0.8 0.7 -1.1 0.7 -0.2 0.6 0.8 0.7 1.2 0.6 0.2 0.7 0.5 0.7 -0.2 0.6 -0.1 0.7 -0.4 0.6 -0.7 0.7 1 0.6 -1.1 0.7 -1.1 0.7 0.3 0.6 0.5 0.7 0.2 0.6 0.3 0.7 0.7 0.7 -1 0.6 -0.4 0.7 0.7 0.6 1.4 0.7 -0.1 0.7 -1.4 0.6 0.9 0.7 -0.6 0.6 -0.1 0.7 1.2 0.6 0.3 0.7 -0.7 0.7 -1.4 0.6 0 0.7 0.4 0.6 -0.3 0.7 -2 0.7 -0.8 0.6 -0.1 0.7 -1.2 0.6 -1.8 0.7 -1.9 0.2 0 0.5 0.6 0.6 2.3 0.7 2 0.6 0.6 0.7 0.3 0.7 1.2 0.6 -0.3 0.7 -1 0.6 -0.4 0.7 -0.3 0.6 0 0.7 -0.3 0.7 -0.8 0.6 1.4 0.7 1.9 0.6 0 0.7 -0.1 0.7 0.1 0.6 1 0.7 0.7 0.6 0 0.7 -1.3 0.7 0.2 0.6 -0.3 0.7 -0.2 0.6 1.6 0.7 0.4 0.7 -2.1 0.6 -0.6 0.7 0.4 0.6 1.6 0.7 0.7 0.6 -0.1 0.7 -1.1 0.7 0.2 0.6 -0.3 0.7 1.2 0.6 0.3 0.7 -1.7 0.7 0.8 0.6 0.9 0.7 -0.3 0.6 0.1 0.7 0.5 0.7 0 0.6 -1 0.7 0.2 0.6 -1.4 0.7 0.6 0.6 0.9 0.7 0.8 0.7 -0.3 0.6 -1.4 0.7 0.4 0.6 0.5 0.7 -0.7 0.7 -0.6 0.6 1.3 0.7 -0.3 0.6 0.6 0.7 -0.1 0.7 -1.8 0.6 -0.3 0.7 1.7 0.6 0.2 0.7 -0.5 0.7 0.2 0.6 -1.2 0.7 0.9 0.6 1.3 0.7 0.4 0.6 0.2 0.7 -0.5 0.7 -1.3 0.6 -0.2 0.7 -0.5 0.6 -0.4 0.7 1.3 0.7 0.7 0.6 -0.8 0.7 -0.9 0.6 1.3 0.7 0.2 0.7 -1.4 0.6 0 0.7 -0.6 0.6 -0.6 0.7 0.6 0.6 1.2 0.7 -0.5 0.7 1.2 0.6 -0.6 0.7 -0.4 0.6 -0.5 0.7 1 0.7 0.8 0.6 -1 0.7 0.4 0.6 -0.6 0.7 -0.2 0.7 0.6 0.6 0 0.7 -1.4 0.6 -0.6 0.7 1 0.7 1.6 0.6 -0.5 0.7 -0.9 0.6 0.2 0.7 -0.1 0.6 0.5 0.7 -1 0.7 0.1 0.6 1 0.7 0.8 0.6 -1.2 0.7 -0.6 0.7 0 0.6 0.6 0.7 1.1 0.6 -1.1 0.7 0.3 0.7 1.5 0.6 -0.4 0.7 -2 0.6 0.3 0.7 1 0.7 0.1 0.6 -1.3 0.7 0.5 0.6 1.6 0.7 -0.2 0.6 -1.5 0.7 0.9 0.7 -0.9 0.6 -0.4 0.7 -0.4 0.6 0.3 0.7 -0.2 0.7 0 0.6 0 0.7 -0.3 0.6 0.2 0.7 0 0.7 0.7 0.6 0.9 0.7 -1.4 0.6 -0.3 0.7 0.1 0.6 0.8 0.7 -0.2 0.7 0.5 0.6 0.5 0.7 0.5 0.6 0.2 0.7 -0.3 0.7 0.1 0.6 -2 0.7 -0.4 0.6 0.5 0.7 -0.4 0.7 0.4 0.6 1.3 0.7 0.5 0.6 -1 0.7 -0.2 0.7 1.5 0.6 -0.4 0.7 -1 0.6 -0.2 0.7 -0.3 0.6 0.2 0.7 0.9 0.7 1 0.6 -0.4 0.7 -2 0.6 0 0.7 2.2" fill="none" stroke="#0000ff" stroke-width="5.5" stroke-linejoin="round" stroke-linecap="butt" shape-rendering="crispEdges"/>
<path d="M218.5 663.2l0.7 0.6 0.6 0.4 0.7 -1.4 0.6 -0.7 0.7 -0.3 0.7 -0.1 0.6 0 0.7 0.5 0.6 1.5 0.7 1.2 0.6 -0.6 0.7 -1 0.7 0 0.6 0.5 0.7 -0.9 0.6 -0.3 0.7 1.5 0.7 -0.3 0.6 -1.5 0.7 -0.5 0.6 0.7 0.7 1.5 0.7 -1 0.6 0.9 0.7 0.5 0.6 -1.8 0.7 0.2 0.7 0.9 0.6 0.6 0.7 -1.4 0.6 -0.5 0.7 -0.1 0.6 0 0.7 1.5 0.7 0.6 0.6 -1.2 0.7 -0.7 0.6 1.3 0.7 0.6 0.7 -0.5 0.6 -0.4 0.7 0.8 0.6 -0.1 0.7 -0.3 0.7 -0.4 0.6 -0.7 0.7 0.6 0.6 1 0.7 -0.3 0.6 -0.6 0.7 1 0.7 -0.3 0.6 -1.9 0.7 -0.3 0.6 0.1 0.7 0.2 0.7 1.5 0.6 0.3 0.7 0 0.6 0.6 0.7 -1.4 0.7 -1 0.6 -0.2 0.7 1 0.6 1.2 0.7 -0.6 0.7 -1.3 0.6 0.2 0.7 -0.2 0.6 0.7 0.7 -0.7 0.6 0.1 0.7 1.4 0.7 0.7 0.6 -0.7 0.7 -0.7 0.6 0.3 0.7 -0.9 0.7 -0.7 0.6 0.8 0.7 1.2 0.6 -0.2 0.7 -0.6 0.7 1.3 0.6 0 0.7 -0.8 0.6 0.7 0.7 -1.4 0.7 -0.7 0.6 1.3 0.7 1 0.6 -0.4 0.7 -0.4 0.6 -0.4 0.7 -0.5 0.7 -0.1 0.6 0.4 0.7 0.8 0.6 0.4 0.7 -1.7 0.7 0.3 0.6 1.6 0.7 -0.6 0.6 -1.4 0.7 0.6 0.7 1.1 0.6 0.1 0.7 -1.2 0.6 1.3 0.7 -0.1 0.6 -1.1 0.7 0.5 0.7 0.4 0.6 -0.8 0.7 0.5 0.6 -0.3 0.7 -1.2 0.7 0.2 0.6 0.3 0.7 0.1 0.6 1.2 0.7 -1.1 0.7 -0.3 0.6 0.8 0.7 0 0.6 -0.6 0.7 0 0.7 0.8 0.6 0.5 0.7 -1.1 0.6 1.4 0.7 0.6 0.6 -0.5 0.7 -0.3 0.7 -0.5 0.6 1 0.7 -0.2 0.6 -0.5 0.7 -0.8 0.7 -0.4 0.6 1 0.7 -0.1 0.6 -1.5 0.7 0.3 0.7 0.6 0.6 -0.7 0.7 -0.4 0.6 -0.1 0.7 -0.3 0.7 0.3 0.6 0.9 0.7 0.6 0.6 0.2 0.7 -0.9 0.6 0 0.7 1.5 0.7 0 0.6 -0.1 0.7 -0.2 0.6 -0.7 0.7 0.1 0.7 -0.2 0.6 0.8 0.7 0 0.6 -1.2 0.7 0.7 0.7 -1.1 0.6 -0.8 0.7 0.5 0.6 1.5 0.7 1.2 0.6 -0.2 0.7 -1.7 0.7 0.5 0.6 1.5 0.7 0.2 0.6 -0.7 0.7 -1.5 0.7 -0.5 0.6 -0.2 0.7 0.3 0.6 0.8 0.7 1 0.7 -0.4 0.6 -1.4 0.7 -0.1 0.6 1 0.7 1 0.7 -0.4 0.6 0.3 0.7 0.2 0.6 0.1 0.7 -0.9 0.6 -0.6 0.7 0.4 0.7 0.5 0.6 -1.1 0.7 -0.1 0.6 1.3 0.7 -0.3 0.7 -0.2 0.6 -1.2 0.7 -0.6 0.6 0.6 0.7 0.3 0.7 -0.6 0.6 0.8 0.7 1.5 0.6 -1.1 0.7 -0.9 0.6 1.3 0.7 -0.7 0.7 -0.4 0.6 1.1 0.7 0.2 0.6 -0.5 0.7 0.8 0.7 0.3 0.6 -1.1 0.7 -0.5 0.6 -0.6 0.7 0.8 0.7 0.1 0.6 0.7 0.7 0.2 0.6 -0.7 0.7 0.7 0.7 0.4 0.6 -1.2 0.7 0.6 0.6 0.1 0.7 0.2 0.6 -1.5 0.7 -0.1 0.7 -0.3 0.6 0.6 0.7 1.4 0.6 -0.5 0.7 -0.3 0.7 0.6 0.6 -1.8 0.7 -0.2 0.6 1.7 0.7 0.3 0.7 0.3 0.6 -0.3 0.7 0.3 0.6 -1.2 0.7 -0.2 0.6 1.2 0.7 -0.7 0.7 -1.6 0.6 -0.4 0.7 0.5 0.6 1.8 0.7 -0.1 0.7 -0.8 0.6 1.2 0.7 0.4 0.6 -0.4 0.7 -0.4 0.7 -0.2 0.6 0.3 0.7 -0.1 0.6 0.8 0.7 -0.3 0.7 0.1 0.6 0.8 0.7 0 0.6 -1.5 0.7 -1.1 0.6 1.1 0.7 0.7 0.7 -1.4 0.6 -0.5 0.7 0.1 0.6 0.4 0.7 1.2 0.7 -0.6 0.6 -1 0.7 0.8 0.6 0.3 0.7 -1.4 0.7 -0.3 0.6 0.3 0.7 1.3 0.6 -0.5 0.7 -1.1 0.7 0.3 0.6 0.3 0.7 0.8 0.6 0 0.7 -0.3 0.6 -0.4 0.7 -0.6 0.7 0.7 0.6 1 0.7 0 0.6 -0.3 0.7 -1.1 0.7 -0.1 0.6 1.7 0.7 0.4 0.6 0.1 0.7 0.2 0.7 -1.1 0.6 0.2 0.7 -0.5 0.6 0.6 0.7 0.7 0.6 -0.8 0.7 0.4 0.7 0.6 0.6 -1.1 0.7 -0.5 0.6 1.4 0.7 -0.4 0.7 -1.2 0.6 -0.6 0.7 -0.6 0.6 0.6 0.7 2 0.7 -0.1 0.6 -0.3 0.7 -0.7 0.6 1 0.7 0.3 0.7 -0.1 0.6 -0.4 0.7 0.4 0.6 -0.9 0.7 -0.7 0.6 1.1 0.7 -0.4 0.7 0.7 0.6 -0.5 0.7 -0.6 0.6 0 0.7 -0.5 0.7 -0.9 0.6 -0.4 0.7 0.8 0.6 1.6 0.7 -1 0.7 -1 0.6 0.8 0.7 0.9 0.6 0.4 0.7 0.1 0.6 -0.7 0.7 0.2 0.7 -1.8 0.6 -0.2 0.7 0.9 0.6 0.4 0.7 -0.3 0.7 0.3 0.6 -0.9 0.7 -1.6 0.6 0.4 0.7 0.2 0.7 -1.5 0.6 -1 0.7 -0.4 0.6 -1.8 0.7 -3.6 0.7 -15.4 0.6 -47.4 0.7 -89.1 0.8 -88 0.5 23.2 0.6 60.3 0.7 20.2 0.7 12.5 0.6 47.5 0.7 46.6 0.6 24 0.7 7.4 0.7 3.4 0.6 1.5 0.7 1.6 0.6 0.4 0.7 -0.4 0.7 0.9 0.6 0.3 0.7 0.4 0.6 -1.2 0.7 0.4 0.7 0.6 0.6 -0.2 0.7 0.3 0.6 0.4 0.7 -0.1 0.6 0.8 0.7 -0.5 0.7 0.8 0.6 0.3 0.7 -1.2 0.6 0.6 0.7 -0.8 0.7 -0.1 0.6 0 0.7 1.3 0.6 -0.7 0.7 0.4 0.7 0.7 0.6 -1.8 0.7 -0.3 0.6 0.9 0.7 -1 0.6 -0.2 0.7 0.2 0.7 -0.2 0.6 0.4 0.7 0.3 0.6 1.6 0.7 -0.7 0.7 -1 0.6 1 0.7 -0.2 0.6 0.5 0.7 -1.5 0.7 -0.3 0.6 1.1 0.7 1.5 0.6 0.6 0.7 -0.4 0.7 -1.7 0.6 0.1 0.7 1.4 0.6 0.4 0.7 -0.5 0.6 -2 0.7 -0.6 0.7 1.3 0.6 1.3 0.7 -0.3 0.6 -0.6 0.7 0.3 0.7 -0.1 0.6 0.4 0.7 -0.7 0.6 0.2 0.7 -0.7 0.7 0.3 0.6 -0.3 0.7 -0.2 0.6 -0.4 0.7 -0.6 0.6 0.5 0.7 1.5 0.7 0.4 0.6 -0.2 0.7 -0.4 0.6 0.4 0.7 0.8 0.7 0.1 0.6 -1 0.7 0.4 0.6 0.5 0.7 0 0.7 -0.8 0.6 -0.7 0.7 0.9 0.6 0 0.7 0.2 0.7 -0.3 0.6 -1.4 0.7 -0.2 0.6 1.6 0.7 -0.3 0.6 -1.7 0.7 -0.1 0.7 1.1 0.6 0.5 0.7 -0.7 0.6 0.7 0.7 -0.1 0.7 0.1 0.6 -0.7 0.7 -0.5 0.6 0.2 0.7 1.2 0.7 -0.1 0.6 -1.4 0.7 0.2 0.6 1.4 0.7 -0.3 0.7 1.2 0.6 0.6 0.7 -0.9 0.6 -1.9 0.7 0 0.6 1.4 0.7 -0.7 0.7 -1.3 0.6 0 0.7 0.5 0.6 -0.1 0.7 0 0.7 1 0.6 -0.9 0.7 0.3 0.6 1.3 0.7 0.5 0.7 -0.3 0.6 -1.4 0.7 -0.3 0.6 1.3 0.7 0.7 0.6 0 0.7 -0.3 0.7 -0.5 0.6 0.6 0.7 0.5 0.6 -1 0.7 -0.8 0.7 0.6 0.6 -1.4 0.7 -0.5 0.6 0.8 0.7 0.9 0.7 1.4 0.6 -0.4 0.7 -0.8 0.6 -0.1 0.7 0.2 0.7 0.8 0.6 -0.5 0.7 -0.4 0.6 1.1 0.7 -0.1 0.6 -0.7 0.7 0.3 0.7 -1.1 0.6 0.9 0.7 -0.3 0.6 0 0.7 0.7 0.7 -0.8 0.6 -0.6 0.7 -0.1 0.6 1 0.7 0.4 0.7 -0.5 0.6 -0.7 0.7 1 0.6 -0.6 0.7 -1.2 0.7 -0.2 0.6 -0.1 0.7 0.3 0.6 1.1 0.7 0.9 0.6 0.3 0.7 0.6 0.7 0 0.6 -0.7 0.7 0.3 0.6 0 0.7 -0.7 0.7 0.3 0.6 -0.3 0.7 0.3 0.6 0.4 0.7 0 0.7 -1.3 0.6 -1.4 0.7 0.1 0.6 1.5 0.7 0.5 0.6 0 0.7 -1 0.7 1.2 0.6 0.6 0.7 -1.5 0.6 -0.9 0.7 0.7 0.7 -0.5 0.6 1.3 0.7 0.3 0.6 -0.6 0.7 0.5 0.7 -0.5 0.6 0.2 0.7 -0.6 0.6 0.1 0.7 -0.9 0.7 0.1 0.6 0.7 0.7 1.2 0.6 -0.3 0.7 -1.6 0.6 0.6 0.7 1.4 0.7 0.2 0.6 -1.4 0.7 -0.7 0.6 0.9 0.7 -0.7 0.7 0.3 0.6 -0.6 0.7 -0.9 0.6 0.1 0.7 0.6 0.7 -0.1 0.6 1.3 0.7 0.7 0.6 -0.1 0.7 -0.5 0.6 0.3 0.7 0.3 0.7 -1 0.6 -0.1 0.7 -0.4 0.6 1.2 0.7 0.6 0.7 -1.1 0.6 -0.1 0.7 -0.3 0.6 0.9 0.7 -1.5 0.7 -0.2 0.6 0.9 0.7 0.8 0.6 -0.6 0.7 -0.9 0.7 0.5 0.6 -0.7 0.7 0.7 0.6 1.4 0.7 -1 0.6 -1.5 0.7 0.2 0.7 0.2 0.6 0.3 0.7 1 0.6 -0.4 0.7 0.5 0.7 0.3 0.6 0.2 0.7 -1.3 0.6 -0.8 0.7 1.3 0.7 -0.1 0.6 -1 0.7 0.3 0.6 0.3 0.7 1.5 0.7 -0.2 0.6 0.1 0.7 -0.2 0.6 0 0.7 -0.1 0.6 -1.6 0.7 0.3 0.7 0.8 0.6 -0.1 0.7 0.7 0.6 -0.7 0.7 0.4 0.7 -0.1 0.6 0.1 0.7 0.9 0.6 0.5 0.7 -0.4 0.7 -1.4 0.6 -0.4 0.7 -0.3 0.6 1.2 0.7 0 0.6 -0.4 0.7 -0.2 0.7 -0.5 0.6 -0.3 0.7 0.7 0.6 0.3 0.7 -1.2 0.7 -0.1 0.6 0.7 0.7 1 0.6 0 0.7 0.3 0.7 -1 0.6 -0.9 0.7 -0.1 0.6 -0.2 0.7 0.9 0.7 0.3 0.6 0 0.7 0.5 0.6 -0.1 0.7 -0.4 0.6 0.2 0.7 -0.6 0.7 0.6 0.6 0.1 0.7 0.8 0.6 0.2 0.7 -1.2 0.7 -0.8 0.6 0.5 0.7 -1.1 0.6 -0.3 0.7 0.9 0.7 1.3 0.6 -0.3 0.7 0.3 0.6 -0.2 0.7 -0.4 0.6 -0.6 0.7 1.4 0.7 -0.8 0.6 -0.9 0.7 1.2 0.6 0.8 0.7 -0.6 0.7 -0.3 0.6 -1.2 0.7 -0.2 0.6 0.3 0.7 -0.1 0.7 0.7 0.6 -0.7 0.7 0.8 0.6 0.5 0.7 -0.5 0.7 1.4 0.6 -0.2 0.7 0.1 0.6 -0.1 0.7 -0.6 0.6 -0.4 0.7 0.5 0.7 0.1 0.6 -1 0.7 -0.4 0.6 1.4 0.7 -0.3 0.7 1.2 0.6 -0.1 0.7 -1.6 0.6 0.9 0.7 -0.3 0.7 0.8 0.6 -0.3 0.7 -0.9 0.6 0.3 0.7 -0.6 0.7 1.2 0.6 0.2 0.7 0.3 0.6 -0.8 0.7 -0.2 0.6 -0.8 0.7 -0.6 0.7 0 0.6 1.7 0.7 0.7 0.6 -1.5 0.7 -1.3 0.7 -0.2 0.6 0.8 0.7 1.1 0.6 -0.6 0.7 0.4 0.7 1 0.6 -0.7 0.7 -1 0.6 1.5 0.7 -0.3 0.6 -1.7 0.7 0 0.7 1.5 0.6 -0.7 0.7 -0.1 0.6 0 0.7 0.7 0.7 -0.2 0.6 0.5 0.7 0.1 0.6 -1.7 0.7 0.3 0.7 1.1 0.6 0.6 0.7 -0.4 0.6 -1 0.7 0.2 0.7 0 0.6 -0.1 0.7 -1.7 0.6 -1.1 0.7 -0.1 0.6 0.3 0.7 0.3 0.7 -1.8 0.6 -5.3 0.7 -12.7 0.6 -26.9 0.7 -40.4 0.7 -27.8 0.6 18.7 0.7 32.3 0.6 12.8 0.7 -6.5 0.7 1 0.6 18.2 0.7 19.9 0.6 11.7 0.7 4.8 0.6 1.3 0.7 1.7 0.7 0.8 0.6 -1.2 0.7 0.5 0.6 0.7 0.7 0.6 0.7 0.9 0.6 -0.6 0.7 -0.9 0.6 -0.8 0.7 0.8 0.7 1.5 0.6 -0.1 0.7 0.3 0.6 0.6 0.7 0.1 0.7 0 0.6 0.2 0.7 -0.2 0.6 -0.8 0.7 -1 0.6 -0.6 0.7 1.5 0.7 -0.5 0.6 -0.8 0.7 0.3 0.6 1.1 0.7 0 0.7 -1.3 0.6 -0.5 0.7 0.2 0.6 0 0.7 1.1 0.7 0.7 0.6 -1.1 0.7 -0.4 0.6 1.1 0.7 -1.2 0.6 -0.3 0.7 1 0.7 0.4 0.6 -0.9 0.7 -0.7 0.6 0.7 0.7 1.7 0.7 0.1 0.6 -1.3 0.7 0.6 0.6 0.6 0.7 -0.5 0.7 -2 0.6 -0.6 0.7 0.6 0.6 0.9 0.7 0.1 0.7 0.9 0.6 -0.9 0.7 -0.3 0.6 0 0.7 1.1 0.6 -1 0.7 -0.4 0.7 0 0.6 -0.3 0.7 0.2 0.6 1.1 0.7 -1 0.7 -0.3 0.6 -0.1 0.7 1.1 0.6 0.7 0.7 0.2 0.7 -1.1 0.6 0.9 0.7 -1.1 0.6 0.3 0.7 1.6 0.7 0.4 0.6 -0.6 0.7 -1.8 0.6 -0.5 0.7 0.5 0.6 0.3 0.7 0.2 0.7 -0.7 0.6 0.4 0.7 -0.8 0.6 0.5 0.7 0.6 0.7 -0.1 0.6 0.9 0.7 0.4 0.6 -0.5 0.7 -0.5 0.7 -0.2 0.6 0.5 0.7 1 0.6 0.1 0.7 -1.3 0.6 0.8 0.7 0.1 0.7 -0.7 0.6 -0.1 0.7 0.9 0.6 0.4 0.7 -1.4 0.7 -1.1 0.6 0.6 0.7 -0.6 0.6 -0.1 0.7 0.8 0.7 0.1 0.6 0.7 0.7 -0.2 0.6 0.2 0.7 -0.9 0.7 1.4 0.6 -0.5 0.7 -1.7 0.6 0.6 0.7 1.8 0.6 -0.4 0.7 -1.4 0.7 0.9 0.6 -0.3 0.7 0 0.6 0.4 0.7 -0.9 0.7 0.3 0.6 0 0.7 1.2 0.6 0.6 0.7 -0.6 0.7 -2 0.6 -0.6 0.7 0.5 0.6 -0.4 0.7 0.1 0.6 1 0.7 0.5 0.7 -0.2 0.6 0.1 0.7 -1.7 0.6 -4.3 0.7 -9.4 0.7 -11 0.5 -3.2 0.8 6.4 0.6 7.8 0.7 1.6 0.7 -2.9 0.6 -1.3 0.7 4.2 0.6 5.9 0.7 4.4 0.7 2.4 0.6 0.1 0.7 0 0.6 0.4 0.7 0.7 0.6 1 0.7 0 0.7 -1.6 0.6 -0.2 0.7 0.4 0.6 0.4 0.7 -0.7 0.7 0 0.6 1.2 0.7 -0.5 0.6 0.5 0.7 -0.4 0.7 -1.5 0.6 0.3 0.7 1.1 0.6 0.9 0.7 0.1 0.7 -1.8 0.6 -0.4 0.7 1.9 0.6 0.2 0.7 -1.7 0.6 -0.1 0.7 -0.1 0.7 0 0.6 0.3 0.7 0.2 0.6 -0.1 0.7 -0.4 0.7 0.2 0.6 0.7 0.7 0 0.6 -0.3 0.7 -0.5 0.7 0.8 0.6 0.6 0.7 -1.3 0.6 -0.4 0.7 0.4 0.6 -0.4 0.7 0 0.7 0.7 0.6 1.5 0.7 -0.4 0.6 -0.7 0.7 0.1 0.7 -0.1 0.6 0.4 0.7 -0.1 0.6 -0.8 0.7 0.3 0.7 1.5 0.6 -0.2 0.7 -0.7 0.6 -0.1 0.7 -0.9 0.7 -0.2 0.6 1.1 0.7 -0.6 0.6 0.4 0.7 0.8 0.6 -0.4 0.7 -0.5 0.7 -0.2 0.6 -0.2 0.7 0.5 0.6 -0.4 0.7 0.7 0.7 0.4 0.6 -0.3 0.7 -0.7 0.6 -0.6 0.7 1.1 0.7 -0.2 0.6 0.3 0.7 -0.6 0.6 0.1 0.7 -1 0.7 -0.7 0.6 -0.1 0.7 0.5 0.6 -1 0.7 -2.3 0.6 -3.6 0.7 -8.1 0.7 -21.4 0.6 -29.3 0.8 -21 0.5 10.7 0.7 25.3 0.7 17.4 0.6 -0.6 0.7 -9.1 0.6 1 0.7 13.5 0.7 14.1 0.6 8.1 0.7 2.8 0.6 1.4 0.7 1.4 0.6 0 0.7 1.3 0.7 0.7 0.6 0.3 0.7 -0.8 0.6 -0.3 0.7 -0.1 0.7 0.6 0.6 0.8 0.7 0.1 0.6 -0.9 0.7 1.1 0.7 0.4 0.6 -0.9 0.7 0.1 0.6 0.7 0.7 -0.8 0.7 -0.8 0.6 1 0.7 -0.7 0.6 -0.5 0.7 1 0.6 -0.1 0.7 0.7 0.7 -0.9 0.6 -0.8 0.7 0.1 0.6 1 0.7 -1 0.7 -0.4 0.6 0.8 0.7 1.3 0.6 0.9 0.7 0.1 0.7 -0.5 0.6 -0.3 0.7 -0.7 0.6 -0.5 0.7 0 0.6 1.4 0.7 -0.5 0.7 -2 0.6 0.3 0.7 2 0.6 0.7 0.7 -0.4 0.7 -1.5 0.6 0.2 0.7 0.5 0.6 -0.9 0.7 -0.1 0.7 -0.8 0.6 0 0.7 0.9 0.6 0.4 0.7 -1.1 0.7 0.2 0.6 -0.4 0.7 0.6 0.6 1.8 0.7 0.1 0.6 -2 0.7 -0.5 0.7 0 0.6 0.2 0.7 0 0.6 -0.1 0.7 0.9 0.7 0.2 0.6 0.6 0.7 0.8 0.6 0.4 0.7 -0.8 0.7 -1.4 0.6 0.7 0.7 -0.9 0.6 0.7 0.7 0.5 0.7 -0.4 0.6 0.5 0.7 0.2 0.6 0.1 0.7 -1.1 0.6 0 0.7 -0.1 0.7 -0.2 0.6 1.1 0.7 0.8 0.6 -0.6 0.7 -0.9 0.7 -0.5 0.6 0.3 0.7 1.5 0.6 -0.3 0.7 -2 0.7 -0.6 0.6 1.3 0.7 1 0.6 -0.9 0.7 0.8 0.6 0.3 0.7 -0.9 0.7 0.2 0.6 -0.1 0.7 -0.9 0.6 0.7 0.7 -0.8 0.7 -0.8 0.6 0.9 0.7 1.2 0.6 -1.5 0.7 -0.1 0.7 0.7 0.6 -0.4 0.7 0.9 0.6 0.3 0.7 -0.4 0.7 0.2 0.6 0 0.7 0 0.6 -0.1 0.7 -2.2 0.6 -1.8 0.7 -1.5 0.7 -4.8 0.6 -12.8 0.7 -15 0.6 -6.8 0.7 7.7 0.7 12.1 0.6 7.8 0.7 -1.4 0.6 -4.5 0.7 -1.6 0.7 6.3 0.6 8.6 0.7 5 0.6 2.2 0.7 1.6 0.6 -0.7 0.7 -0.5 0.7 0.4 0.6 0.6 0.7 0.8 0.6 0.5 0.7 -0.7 0.7 0.5 0.6 0 0.7 -0.8 0.6 -1.4 0.7 -0.1 0.7 0.9 0.6 -0.8 0.7 -0.6 0.6 -1.2 0.7 0.2 0.7 -1.9 0.6 -0.4 0.6 0.8 0.7 0.9 0.7 -0.1 0.6 -1.8 0.7 -0.4 0.7 1.1 0.6 1.3 0.7 1.1 0.6 1.2 0.7 0.6 0.7 0.3 0.6 0.9 0.7 -0.3 0.6 -1.5 0.7 0.1 0.7 -0.1 0.6 0.6 0.7 1 0.6 0.5 0.7 0.8 0.6 0.3 0.7 -0.6 0.7 -0.9 0.6 -0.9 0.7 0.6 0.6 1.9 0.7 0.6 0.7 -0.3 0.6 -0.2 0.7 -0.6 0.6 -1.3 0.7 -0.1 0.7 -0.2 0.6 1.6 0.7 0.7 0.6 -0.1 0.7 -0.8 0.7 -0.9 0.6 -0.3 0.7 -0.7 0.6 0.7 0.7 1.1 0.6 -0.5 0.7 -0.3 0.7 1.1 0.6 -0.5 0.7 -0.5 0.6 -0.5 0.7 0.9 0.7 1.1 0.6 -1.2 0.7 -0.4 0.6 1.4 0.7 -0.3 0.7 -1.9 0.6 -0.4 0.7 0.8 0.6 0.8 0.7 0.5 0.7 -1 0.6 0.8 0.7 -0.3 0.6 -0.9 0.7 -0.2 0.6 0.5 0.7 -0.5 0.7 0.3 0.6 2 0.7 0.1 0.6 -0.2 0.7 -0.4 0.7 -1.1 0.6 0.7 0.7 -0.5 0.6 0.3 0.7 -0.2 0.7 -0.4 0.6 1.6 0.7 0.4 0.6 -0.7 0.7 -0.8 0.6 -1.1 0.7 -0.4 0.7 0.5 0.6 2 0.7 0.8 0.6 -0.9 0.7 -0.9 0.7 1.2 0.6 0.1 0.7 -1.8 0.6 0.3 0.7 -0.4 0.7 0.1 0.6 -0.2 0.7 1.1 0.6 0.6 0.7 -0.3 0.7 -0.6 0.6 -0.2 0.7 -0.3 0.6 1.5 0.7 -0.1 0.6 -0.5 0.7 0.5 0.7 0.2 0.6 -1.5 0.7 -0.4 0.6 -0.1 0.7 0.6 0.7 1.1 0.6 -0.6 0.7 -0.9 0.6 0.4 0.7 0.6 0.7 1.2 0.6 0.2 0.7 -0.9 0.6 -1 0.7 1.3 0.7 0.3 0.6 -1.3 0.7 -0.9 0.6 0.6 0.7 0.9 0.6 -0.1 0.7 -1 0.7 0.8 0.6 -0.9 0.7 -0.2 0.6 0.4 0.7 1.4 0.7 -0.9 0.6 -1.2 0.7 -0.5 0.6 -0.3 0.7 0.8 0.7 1.1 0.6 -0.5 0.7 1.2 0.6 0.3 0.7 -0.7 0.6 -0.4 0.7 -0.4 0.7 1.1 0.6 0.2 0.7 -0.6 0.6 -0.4 0.7 -0.6 0.7 -0.4 0.6 0.9 0.7 1.4 0.6 -0.4 0.7 -0.6 0.7 -0.6 0.6 1.2 0.7 -0.3 0.6 -0.8 0.7 -0.9 0.7 -0.2 0.6 0.8 0.7 0.4 0.6 1.2 0.7 0.4 0.6 -0.5 0.7 0 0.7 -1.2 0.6 1 0.7 0.1 0.6 0.8 0.7 -0.2 0.7 -0.9 0.6 -0.2 0.7 -1 0.6 0.1 0.7 1.4 0.7 -0.4 0.6 -0.1 0.7 0.6 0.6 -1.7 0.7 -0.6 0.6 0.9 0.7 0.7 0.7 0.9 0.6 -0.6 0.7 -1 0.6 0.9 0.7 0.2 0.7 0.4 0.6 -1.4 0.7 -0.8 0.6 0 0.7 0.3 0.7 0.8 0.6 0 0.7 0.1 0.6 0.2 0.7 0.5 0.7 -0.9 0.6 -1.3 0.7 -0.2 0.6 0.5 0.7 1 0.6 1.1 0.7 -0.6 0.7 -0.7 0.6 -0.7 0.7 -0.6 0.6 0.1 0.7 0.5 0.7 0.7 0.6 1.1 0.7 0.3 0.6 -0.6 0.7 0.3 0.7 -0.6 0.6 0.4 0.7 -0.7 0.6 -0.2 0.7 1.6 0.6 0.3 0.7 -1.2 0.7 0.2 0.6 -0.3 0.7 -0.7 0.6 -0.5 0.7 -0.3 0.7 0.8 0.6 0.4 0.7 -0.1 0.6 0.7 0.7 -1 0.7 0.5 0.6 0.2 0.7 0.2 0.6 -0.6 0.7 -1.2 0.7 0.7 0.6 1.7 0.7 0.3 0.6 -1 0.7 0.5 0.6 -0.8 0.7 0.3 0.7 -1 0.6 0 0.7 1.1 0.6 0.2 0.7 0 0.7 -0.5 0.6 -0.1 0.7 0.8 0.6 -0.5 0.7 -1 0.7 0.1 0.6 0.4 0.7 -0.1 0.6 1 0.7 -0.3 0.7 0.5 0.6 -0.6 0.7 -0.8 0.6 0.2 0.7 1.1 0.6 -1 0.7 0.3 0.7 0.6 0.6 0.6 0.7 -1.3 0.6 -0.8 0.7 0.5 0.7 0.1 0.6 -0.2 0.7 0.1 0.6 -1.1 0.7 -0.2 0.7 1.5 0.6 1.4 0.7 0.1 0.6 -1.1 0.7 0 0.6 -0.7 0.7 -0.3 0.7 1.2 0.6 0.1 0.7 0.5 0.6 -0.7 0.7 -0.2 0.7 0.2 0.6 -0.5 0.7 0.6 0.6 0.7 0.7 -1.3 0.7 -0.8 0.6 0.9 0.7 0.5 0.6 0.4 0.7 0.6 0.7 -0.5 0.6 -0.7 0.7 -1.4 0.6 0.3 0.7 1.1 0.6 -0.9 0.7 -0.2 0.7 1.1 0.6 -0.8 0.7 -0.4 0.6 1 0.7 -0.1 0.7 0.9 0.6 0.2 0.7 -2.1 0.6 -0.4 0.7 1.6 0.7 0.9 0.6 -0.5 0.7 -0.7 0.6 -1 0.7 0.4 0.7 1 0.6 0.3 0.7 -0.2 0.6 -0.5 0.7 -0.2 0.6 0.8 0.7 -0.4 0.7 -0.9 0.6 -0.4 0.7 0.3 0.6 1.6 0.7 -0.8 0.7 -0.4 0.6 0.3 0.7 -0.4 0.6 0.9 0.7 -1.2 0.7 -0.1 0.6 0.8 0.7 1.3 0.6 -0.8 0.7 -0.5 0.6 1.5 0.7 -0.7 0.7 -1.2 0.6 1.3 0.7 -0.7 0.6 0 0.7 1.1 0.7 0.2 0.6 -0.9 0.7 -1.3 0.6 0.2 0.7 0.8 0.7 0.3 0.6 -0.1 0.7 -0.8 0.6 1.2 0.7 0.3 0.7 -1.8 0.6 -0.1 0.7 0.3 0.6 0.4 0.7 0.2 0.6 -1.3 0.7 -0.3 0.7 0.5 0.6 0.4 0.7 1.7 0.6 -0.7 0.7 -0.9 0.7 1.6 0.6 0.1 0.7 -1.4 0.6 0.3 0.7 -1.2 0.7 0.5 0.6 2 0.7 0.3 0.6 -0.9 0.7 0.3 0.6 -0.8 0.7 -0.3 0.7 -0.1 0.6 -1 0.7 -0.1 0.6 -0.2 0.7 0.3 0.7 1.4 0.6 -0.8 0.7 0.6 0.6 1 0.7 0.2 0.7 0 0.6 0 0.7 -1 0.6 -0.2 0.7 0.5 0.7 -1.4 0.6 0.2 0.7 0.9 0.6 0.6 0.7 -0.8 0.6 0.1 0.7 -0.3 0.7 0.8 0.6 -0.9 0.7 0.1 0.6 1.2 0.7 0.1 0.7 -1.2 0.6 -1.1 0.7 -0.1 0.6 1.2 0.7 0.8 0.7 -1.2 0.6 -0.9 0.7 0.3 0.6 1 0.7 -0.9 0.6 -0.2 0.7 -0.2 0.7 0.4 0.6 1.4 0.7 0.9 0.6 0.4 0.7 -0.4 0.7 -0.4 0.6 -0.9 0.7 -1.3 0.6 0.2 0.7 0.5 0.7 0.1 0.6 -0.1 0.7 0.1 0.6 0.1 0.7 0 0.7 0.2 0.6 0.6 0.7 0.2 0.6 -0.4 0.7 0.8 0.6 0.5 0.7 -0.6 0.7 -1 0.6 -1.1 0.7 0.7 0.6 0.5 0.7 0.2 0.7 -0.6 0.6 -0.3 0.7 0.7 0.6 -0.5 0.7 0.3 0.7 0.7 0.6 -0.5 0.7 -0.8 0.6 1 0.7 0.1 0.7 -0.2 0.6 -0.6 0.7 0.4 0.6 -0.3 0.7 0.3 0.6 -1.6 0.7 0 0.7 0.2 0.6 0.2 0.7 1 0.6 0 0.7 -0.6 0.7 -1 0.6 0.2 0.7 -1.6 0.6 -1 0.7 0.8 0.7 -0.4 0.6 -2.2 0.7 -5.2 0.6 -9.5 0.7 -23.6 0.6 -46.9 0.7 -64.9 0.7 -54.3 0.3 -9 0.3 8.3 0.7 52.3 0.6 60.8 0.7 36.3 0.7 4.5 0.6 -19.3 0.7 -28.4 0.6 -8.5 0.7 22.7 0.7 34.9 0.6 26.7 0.7 15 0.6 5.4 0.7 2.8 0.7 2.4 0.6 -0.1 0.7 2 0.6 1.2 0.7 0 0.6 -0.6 0.7 -0.3 0.7 -0.5 0.6 0.1 0.7 -0.4 0.6 -0.1 0.7 0.4 0.7 0.1 0.6 0.6 0.7 -0.6 0.6 0.6 0.7 -0.2 0.7 0.9 0.6 0.5 0.7 -1.2 0.6 0.3 0.7 1.3 0.7 0.7 0.6 -0.5 0.7 -0.4 0.6 -0.4 0.7 0 0.6 -0.6 0.7 1.3 0.7 -0.1 0.6 0 0.7 0.3 0.6 -0.3 0.7 0 0.7 -0.6 0.6 0.5 0.7 -0.7 0.6 -0.5 0.7 1.2 0.7 0.8 0.6 0 0.7 -0.4 0.6 -0.1 0.7 -0.9 0.6 -0.3 0.7 0.4 0.7 -1.1 0.6 -0.1 0.7 0.4 0.6 1.7 0.7 0 0.7 0.3 0.6 -0.1 0.7 0 0.6 -0.3 0.7 0.5 0.7 -0.3 0.6 -0.6 0.7 -0.9 0.6 0 0.7 -0.1 0.7 0 0.6 1.1 0.7 0.7 0.6 0 0.7 -1.8 0.6 -0.4 0.7 0.8 0.7 0.9 0.6 0.2 0.7 -0.5 0.6 -0.4 0.7 -0.8 0.7 -0.1 0.6 0.5 0.7 -0.3 0.6 0.7 0.7 0.4 0.7 0 0.6 0.6 0.7 0.2 0.6 0.4 0.7 0 0.6 0.1 0.7 -0.3 0.7 -0.5 0.6 -0.3 0.7 -0.3 0.6 0.5 0.7 0 0.7 -1.1 0.6 0.4 0.7 -0.7 0.6 -1.8 0.7 -1.3 0.7 -1.2 0.6 -3.3 0.7 -9.7 0.6 -14.6 0.7 -14.9 0.5 -5.5 0.8 10.2 0.7 15.2 0.6 11 0.7 5.6 0.6 -3 0.7 -7.5 0.7 -4.6 0.6 1.1 0.7 6.3 0.6 8.1 0.7 4.3 0.7 2 0.6 2 0.7 0.7 0.6 0 0.7 1.1 0.7 -0.7 0.6 0.6 0.7 -0.2 0.6 -0.8 0.7 0.1 0.7 0.2 0.6 -0.2 0.7 0.6 0.6 1.7 0.7 -0.9 0.6 -0.8 0.7 1.2 0.7 -0.7 0.6 0.5 0.7 0.3 0.6 -0.3 0.7 -0.4 0.7 1 0.6 -0.5 0.7 -1.4 0.6 -0.3 0.7 0.1 0.7 0.9 0.6 1.6 0.7 -0.5 0.6 -1.5 0.7 0.5 0.6 0.3 0.7 0 0.7 0.4 0.6 0 0.7 0.2 0.6 -0.5 0.7 0.3 0.7 -1.1 0.6 0.3 0.7 0 0.6 -0.5 0.7 0.4 0.7 -0.1 0.6 0.8 0.7 0.8 0.6 0 0.7 0.1 0.7 -1.5 0.6 0.7 0.7 -0.2 0.6 0.8 0.7 0.1 0.6 -1.2 0.7 0.3 0.7 0.1 0.6 0.6 0.7 -0.4 0.6 0.2 0.7 -0.8 0.7 1 0.6 0.5 0.7 0.6 0.6 -0.3 0.7 -1.5 0.7 0.8 0.6 0.5 0.7 -1.2 0.6 -0.8 0.7 0.9 0.6 0.3 0.7 -0.8 0.7 1.1 0.6 0.7 0.7 -0.4 0.6 -0.5 0.7 0.4 0.7 0.4 0.6 -1.4 0.7 -0.9 0.6 -0.4 0.7 0 0.7 0.7 0.6 0.6 0.7 0 0.6 0.3 0.7 0.3 0.7 0.1 0.6 -0.4 0.7 1.2 0.6 0.2 0.7 -0.5 0.6 -1.6 0.7 0.6 0.7 -0.1 0.6 -0.1 0.7 0.3 0.6 -1 0.7 0 0.7 -0.1 0.6 1.5 0.7 -0.4 0.6 0.2 0.7 0.9 0.7 -0.8 0.6 -0.5 0.7 -0.1 0.6 1.4 0.7 0.1 0.6 -0.1 0.7 -1.6 0.7 -0.4 0.6 1 0.7 -0.6 0.6 0.8 0.7 0.5 0.7 0 0.6 -0.2 0.7 -1.2 0.6 -0.6 0.7 0.4 0.7 1.4 0.6 -0.9 0.7 -0.9 0.6 1 0.7 0.3 0.7 1 0.6 -0.5 0.7 -0.5 0.6 -1.1 0.7 -0.7 0.6 0 0.7 0 0.7 0.1 0.6 0.7 0.7 1.2 0.6 0.2 0.7 -0.7 0.7 0.1 0.6 -1.2 0.7 -0.2 0.6 0.5 0.7 -0.1 0.7 -0.1 0.6 -0.4 0.7 0.4 0.6 1.5 0.7 -1.5 0.7 -0.3 0.6 1.1 0.7 0.9 0.6 0.1 0.7 0.1 0.6 -0.7 0.7 -0.3 0.7 -0.2 0.6 -0.8 0.7 0.4 0.6 0.2 0.7 -0.5 0.7 0.1 0.6 0.9 0.7 -1 0.6 -0.4 0.7 0.5 0.7 -0.1 0.6 0.5 0.7 1 0.6 0 0.7 -1.6 0.6 -0.3 0.7 0.2 0.7 -0.4 0.6 0.6 0.7 1.8 0.6 -0.2 0.7 0.1 0.7 -1 0.6 1.1 0.7 0.3 0.6 -0.3 0.7 -1.2 0.7 -0.2 0.6 1 0.7 0.6 0.6 -0.6 0.7 -0.7 0.7 0.2 0.6 -0.2 0.7 1.5 0.6 -0.5 0.7 -1.1 0.6 0.5 0.7 -1 0.7 0.3 0.6 0.3 0.7 0 0.6 1.7 0.7 -0.1 0.7 -1.6 0.6 0.4 0.7 0 0.6 0.5 0.7 0.5 0.7 0.1 0.6 -1.3 0.7 -0.1 0.6 0.6 0.7 -0.1 0.7 -1 0.6 -0.1 0.7 -0.4 0.6 0.8 0.7 0.7 0.6 0.9 0.7 0.5 0.7 -1 0.6 -1.9 0.7 0 0.6 1.5 0.7 0.3 0.7 0.4 0.6 -0.2 0.7 -0.8 0.6 -0.1 0.7 -0.8 0.7 0.9 0.6 -0.2 0.7 -0.4 0.6 0.9 0.7 1.3 0.6 0.2 0.7 -0.6 0.7 -1.3 0.6 -1.1 0.7 -0.1 0.6 0.4 0.7 0.5 0.7 -0.3 0.6 0.2 0.7 0.8 0.6 -0.1 0.7 -0.1 0.7 1.1 0.6 -0.6 0.7 -1.2 0.6 0 0.7 1 0.7 -0.1 0.6 -0.2 0.7 0.1 0.6 0.2 0.7 0.3 0.6 -1.2 0.7 0.4 0.7 0.8 0.6 -1.1 0.7 0.4 0.6 1.3 0.7 -0.5 0.7 -0.7 0.6 0.8 0.7 -0.1 0.6 0.4 0.7 -0.5 0.7 -0.8 0.6 0.6 0.7 -0.2 0.6 0.9 0.7 0.2 0.6 -0.5 0.7 -0.4 0.7 -1 0.6 -0.4 0.7 1.1 0.6 0.2 0.7 0.4 0.7 -1 0.6 0.5 0.7 -0.5 0.6 -1.3 0.7 -0.3 0.7 0.4 0.6 0.6 0.7 0 0.6 -0.6 0.7 0.8 0.7 0.7 0.6 -1.3 0.7 -3.5 0.6 -4.2 0.7 -3.2 0.5 -2.1 0.8 3.8 0.7 3.5 0.6 2.4 0.7 1.8 0.6 0 0.7 -1 0.7 -2.7 0.6 -1.6 0.7 0.4 0.6 2.2 0.7 1 0.7 2 0.6 1.9 0.7 1.5 0.6 -0.3 0.7 -1.7 0.6 0.2 0.7 0.1 0.7 1.6 0.6 0.5 0.7 -0.8 0.6 0.7 0.7 -0.6 0.7 -1.5 0.6 1.1 0.7 -0.2 0.6 -0.1 0.7 1.1 0.7 -0.1 0.6 -1.8 0.7 0.2 0.6 1.2 0.7 -0.6 0.7 -0.1 0.6 1 0.7 0.3 0.6 0.2 0.7 -0.3 0.6 0.4 0.7 0 0.7 -0.3 0.6 -0.6 0.7 0 0.6 -0.7 0.7 1 0.7 -0.1 0.6 0.5 0.7 -0.7 0.6 -1 0.7 0.6 0.7 0.5 0.6 -1.4 0.7 -1.2 0.6 0.2 0.7 0.3 0.7 0.7 0.6 0.3 0.7 -0.6 0.6 0 0.7 -0.8 0.6 -0.5 0.7 -1.4 0.7 -3.1 0.6 -4.9 0.7 -10.1 0.6 -14.6 0.7 -14.3 0.5 -5.3 0.2 0.2 0.6 10.3 0.7 15.1 0.6 13.2 0.7 6.6 0.7 0.3 0.6 -3.3 0.7 -6.8 0.6 -5.8 0.7 -1.1 0.6 6.5 0.7 7.6 0.7 6.3 0.6 2.8 0.7 2 0.6 -0.2 0.7 0.4 0.7 -0.4 0.6 0.6 0.7 1.9 0.6 0.6 0.7 -0.1 0.7 -0.9 0.6 -1.1 0.7 -0.2 0.6 0.4 0.7 0.7 0.7 0.1 0.6 0.9 0.7 0 0.6 0 0.7 -0.5 0.6 -0.5 0.7 -0.5 0.7 1.8 0.6 0.4 0.7 -0.7 0.6 -0.7 0.7 0.1 0.7 1 0.6 -0.9 0.7 -0.9 0.6 0.4 0.7 -0.2 0.7 1 0.6 -0.5 0.7 -1.3 0.6 0.4 0.7 1.8 0.6 -0.2 0.7 0.2 0.7 -0.9 0.6 0 0.7 -0.7 0.6 1 0.7 0.1 0.7 -0.7 0.6 -0.4 0.7 0 0.6 1.5 0.7 0.4 0.7 -1 0.6 0.4 0.7 -1.1 0.6 0.1 0.7 -0.1 0.7 1.5 0.6 0.4 0.7 0.3 0.6 -0.6 0.7 -1.4 0.6 0.1 0.7 -0.1 0.7 0.7 0.6 0.1 0.7 0.5 0.6 -0.6 0.7 -1.1 0.7 0 0.6 -0.1 0.7 1.5 0.6 -0.2 0.7 -1.3 0.7 0.3 0.6 1.2 0.7 0.4 0.6 -0.7 0.7 0.2 0.7 -0.6 0.6 -0.8 0.7 0.7 0.6 0.4 0.7 -0.2 0.6 0.1 0.7 0.5 0.7 -0.9 0.6 -0.5 0.7 0.2 0.6 0.6 0.7 0.5 0.7 -1.7 0.6 -0.4 0.7 0.7 0.6 0.4 0.7 0.7 0.7 0.8 0.6 0.5 0.7 -0.2 0.6 -1.2 0.7 -1.3 0.6 0.5 0.7 1.8 0.7 -0.3 0.6 -1 0.7 0.5 0.6 0 0.7 -1.3 0.7 0.4 0.6 0.5 0.7 1 0.6 -0.6 0.7 -1 0.7 -0.1 0.6 0.7 0.7 -0.5 0.6 -1 0.7 0.1 0.7 0.1 0.6 0.4 0.7 0.7 0.6 -0.5 0.7 0.1 0.6 -0.2 0.7 -0.4 0.7 0.2 0.6 1.7 0.7 -0.2 0.6 -0.6 0.7 1 0.7 -0.1 0.6 0.2 0.7 -0.8 0.6 -1.1 0.7 1.2 0.7 1.1 0.6 0.2 0.7 -1 0.6 -0.5 0.7 0.2 0.7 -0.5 0.6 -0.9 0.7 0.1 0.6 1.6 0.7 -1 0.6 -0.5 0.7 0.3 0.7 1.2 0.6 -0.7 0.7 -0.4 0.6 0.3 0.7 -0.8 0.7 0.2 0.6 0.2 0.7 0.2 0.6 0.2 0.7 -0.2 0.7 -0.5 0.6 0.8 0.7 -0.6 0.6 0.3 0.7 -0.5 0.6 1.1 0.7 1 0.7 -0.6 0.6 -0.4 0.7 -1 0.6 0.3 0.7 0.5 0.7 0.8 0.6 -0.5 0.7 -0.5 0.6 0.8 0.7 0.4 0.7 0.3 0.6 -0.3 0.7 -1.2 0.6 0.7 0.7 0.7 0.7 -1.1 0.6 0.7 0.7 0.3 0.6 -1 0.7 0.5 0.6 -0.6 0.7 0.4 0.7 -1.4 0.6 -0.8 0.7 0.2 0.6 0.7 0.7 1.2 0.7 -0.6 0.6 -0.5 0.7 0 0.6 -0.4 0.7 1.4 0.7 0.7 0.6 -1.9 0.7 -0.1 0.6 2 0.7 -0.1 0.6 -2 0.7 -0.2 0.7 1.3 0.6 0.9 0.7 0.5 0.6 0.6 0.7 -0.4 0.7 -1.8 0.6 -1.2 0.7 0.7 0.6 1 0.7 -1.1 0.7 -0.1 0.6 0.2 0.7 -0.2 0.6 0.6 0.7 0.7 0.7 0.7 0.6 0.4 0.7 -0.3 0.6 -1.1 0.7 0.6 0.6 -0.5 0.7 -0.2 0.7 -1 0.6 -0.2 0.7 0.8 0.6 -0.1 0.7 -0.4 0.7 -1 0.6 -0.1 0.7 -1.6 0.6 -4.2 0.7 -8.1 0.7 -12.1 0.6 -12.6 0.8 -8.5 0.5 2.9 0.7 11.5 0.6 12.6 0.7 9 0.7 5.3 0.6 -0.9 0.7 -3.6 0.6 -5.2 0.7 -5.1 0.7 -3.6 0.6 3.1 0.7 5.6 0.6 7.1 0.7 5.1 0.7 1.9 0.6 2 0.7 -1 0.6 0.2 0.7 1.8 0.7 -0.1 0.6 -0.2 0.7 -1 0.6 0.2 0.7 0.4 0.6 -0.6 0.7 0.6 0.7 -0.3 0.6 0.7 0.7 -0.4 0.6 -1.5 0.7 -0.3 0.7 0.6 0.6 -1 0.7 0.1 0.6 -2.6 0.7 -8.1 0.7 -13 0.6 -15.5 0.7 -15.3 0.5 -5.4 0.8 10.1 0.7 17.5 0.6 14.5 0.7 9.3 0.6 2.6 0.7 -0.8 0.6 -6.4 0.7 -7.4 0.7 -7.3 0.6 -1.4 0.7 6.7 0.6 8.6 0.7 6.8 0.7 5 0.6 2.1 0.7 0.1 0.6 0.3 0.7 0.9 0.7 1.5 0.6 -0.3 0.7 -1.1 0.6 0.3 0.7 1.3 0.6 0.8 0.7 0 0.7 -0.7 0.6 0.3 0.7 0.8 0.6 0 0.7 -1 0.7 0.2 0.6 0.6 0.7 -0.5 0.6 -0.9 0.7 0.3 0.7 0 0.6 0 0.7 0.3 0.6 0.1 0.7 0.7 0.7 0.8 0.6 -0.3 0.7 -1.5 0.6 0.6 0.7 0.6 0.6 0.3 0.7 0 0.7 -0.5 0.6 -1.3 0.7 -0.1 0.6 0.6 0.7 0.1 0.7 1 0.6 0.6 0.7 -0.4 0.6 -0.6 0.7 -1.5 0.7 0.4 0.6 0.8 0.7 -1.1 0.6 -0.2 0.7 0.4 0.7 0.5 0.6 -0.5 0.7 -0.3 0.6 0.7 0.7 0.1 0.6 -0.5 0.7 0.8 0.7 0.6 0.6 -0.9 0.7 0.8 0.6 -0.2 0.7 0.5 0.7 -0.7 0.6 -1 0.7 1.3 0.6 0.6 0.7 -1.2 0.7 -0.9 0.6 1.5 0.7 -0.1 0.6 -1.6 0.7 -0.3 0.6 0.2 0.7 1.1 0.7 0.7 0.6 -0.4 0.7 -0.7 0.6 0.1 0.7 -0.5 0.7 1 0.6 1 0.7 -1.3 0.6 -0.1 0.7 -0.1 0.7 1.2 0.6 0.5 0.7 -0.6 0.6 -0.7 0.7 0 0.7 0.3 0.6 -1.1 0.7 -0.7 0.6 0.3 0.7 1.8 0.6 0.8 0.7 0.3 0.7 0 0.6 -0.8 0.7 -0.1 0.6 -0.1 0.7 -0.9 0.7 1.4 0.6 0 0.7 -1.4 0.6 0.3 0.7 0.4 0.7 -1.5 0.6 -0.4 0.7 0.3 0.6 0.5 0.7 1.5 0.6 -0.1 0.7 -0.8 0.7 0.7 0.6 0.5 0.7 0.1 0.6 -0.3 0.7 -1.7 0.7 0.3 0.6 1 0.7 -0.2 0.6 -1.6 0.7 0.2 0.7 0.9 0.6 -0.7 0.7 -0.4 0.6 0.2 0.7 -0.2 0.7 -0.3 0.6 0.1 0.7 0.1 0.6 -0.1 0.7 1 0.6 0.8 0.7 -0.6 0.7 -0.5 0.6 0.4 0.7 1.1 0.6 -1.2 0.7 -0.8 0.7 0.1 0.6 0.6 0.7 -0.7 0.6 0.2 0.7 2 0.7 0.4 0.6 -1.4 0.7 -0.3 0.6 1.3 0.7 0 0.6 -0.5 0.7 -1.5 0.7 -0.2 0.6 0.6 0.7 0.9 0.6 -0.2 0.7 0.7 0.7 0.6 0.6 0.2 0.7 -0.3 0.6 -0.2 0.7 -1.4 0.7 0 0.6 0 0.7 -0.8 0.6 0.6 0.7 1.3 0.7 -0.5 0.6 -1.3 0.7 0.4 0.6 1.6 0.7 0.3 0.6 -0.6 0.7 -1 0.7 1.5 0.6 0.1 0.7 -0.9 0.6 -1.2 0.7 -0.1 0.7 0.1 0.6 -0.1 0.7 0.1 0.6 0.5 0.7 0.7 0.7 0.7 0.6 -0.6 0.7 -1.5 0.6 0 0.7 0.2 0.7 0.4 0.6 0.7 0.7 1.1 0.6 0.5 0.7 -0.8 0.6 -2 0.7 -0.5 0.7 0.1 0.6 0.9 0.7 1.1 0.6 0.2 0.7 -1.1 0.7 0.9 0.6 -0.7 0.7 -0.5 0.6 -0.1 0.7 -0.5 0.7 -0.2 0.6 -0.1 0.7 1 0.6 0.7 0.7 -1.1 0.6 0.3 0.7 1.2 0.7 0.3 0.6 -0.4 0.7 0.6 0.6 -0.3 0.7 -0.3 0.7 -1 0.6 -0.4 0.7 0.3 0.6 -0.1 0.7 1.3 0.7 0.3 0.6 -0.8 0.7 0.6 0.6 0.5 0.7 -0.9 0.7 -0.9 0.6 -1 0.7 0.5 0.6 1.5 0.7 0 0.6 -1 0.7 -0.3 0.7 -0.3 0.6 1.4 0.7 0.2 0.6 -1.4 0.7 0.4 0.7 0.7 0.6 0.8 0.7 -0.3 0.6 -0.6 0.7 0.1 0.7 -0.3 0.6 -0.2 0.7 -0.1 0.6 0 0.7 0.6 0.7 0.3 0.6 -0.1 0.7 -1.5 0.6 0.2 0.7 0.4 0.6 -0.4 0.7 0.2 0.7 2 0.6 0.8 0.7 -0.6 0.6 -1.6 0.7 1 0.7 -0.6 0.6 -0.6 0.7 0.9 0.6 -0.6 0.7 -1.2 0.7 0.2 0.6 0.6 0.7 0.5 0.6 -0.7 0.7 0.6 0.6 -0.7 0.7 0.6 0.7 0.4 0.6 -0.1 0.7 0.2 0.6 0.5 0.7 0 0.7 -0.8 0.6 0.1 0.7 -0.3 0.6 1.2 0.7 0 0.7 0 0.6 0.5 0.7 0.1 0.6 -0.6 0.7 0.4 0.7 -0.2 0.6 -0.6 0.7 -0.5 0.6 0.3 0.7 -0.5 0.6 0.9 0.7 -1.3 0.7 -1 0.6 0.5 0.7 0.5 0.6 -0.1 0.7 0.4 0.7 0 0.6 0.5 0.7 1.2 0.6 0.2 0.7 -0.4 0.7 -0.1 0.6 -0.2 0.7 -0.5 0.6 -0.6 0.7 0.5 0.6 -0.9 0.7 1.2 0.7 -0.9 0.6 -1.4 0.7 0.4 0.6 -0.2 0.7 -0.9 0.7 0.2 0.6 -1.6 0.7 -0.7 0.6 -0.6 0.5 -0.4 0.2 -0.4 0.7 1.2 0.6 -0.4 0.7 0.7 0.6 2.2 0.7 1.6 0.7 -0.4 0.6 -1 0.7 0 0.6 -0.4 0.7 -0.5 0.6 -0.5 0.7 0.5 0.7 0.2 0.6 1.3 0.7 -0.2 0.6 1.9 0.7 0.8 0.7 -0.5 0.6 -0.8 0.7 -0.2 0.6 -0.1 0.7 -0.4 0.7 1.3 0.6 0.5 0.7 0.1 0.6 -1.6 0.7 -0.5 0.7 1.2 0.6 1.3 0.7 -0.8 0.6 -1.2 0.7 1.1 0.6 0.2 0.7 0.8 0.7 0.1 0.6 -0.3 0.7 -1 0.6 0.9 0.7 -0.2 0.7 -1.8 0.6 -0.2 0.7 -0.5 0.6 0.2 0.7 0.8 0.7 -0.4 0.6 0.8 0.7 0.1 0.6 0.6 0.7 -1.6 0.6 -0.4 0.7 1.2 0.7 0 0.6 -0.4 0.7 1 0.6 0.1 0.7 -1.2 0.7 -0.1 0.6 0.3 0.7 1.2 0.6 -0.1 0.7 -0.6 0.7 0.7 0.6 -0.4 0.7 0.9 0.6 0.2 0.7 -0.3 0.7 -0.6 0.6 0.1 0.7 -1.2 0.6 0.1 0.7 1.4 0.6 -0.4 0.7 0.2 0.7 -1.2 0.6 0.2 0.7 1.3 0.6 -0.3 0.7 -0.7 0.7 -0.9 0.6 0.3 0.7 1.3 0.6 -0.8 0.7 -1.2 0.7 -0.1 0.6 0.2 0.7 0.8 0.6 -0.6 0.7 0.6 0.6 0.5 0.7 -0.3 0.7 0 0.6 0.4 0.7 -0.3 0.6 -0.5 0.7 0.7 0.7 -1.2 0.6 0.2 0.7 1.4 0.6 0.8 0.7 -0.9 0.7 -1 0.6 0.4 0.7 0.8 0.6 -0.8 0.7 0.7 0.7 -1.3 0.6 0.2 0.7 1.4 0.6 -1 0.7 0.1 0.6 0 0.7 -0.7 0.7 -0.1 0.6 0.2 0.7 1.6 0.6 -0.1 0.7 -0.8 0.7 -0.7 0.6 1.2 0.7 -0.8 0.6 -0.2 0.7 0.8 0.7 -0.6 0.6 -1.1 0.7 -0.2 0.6 1.1 0.7 0.9 0.7 -0.7 0.6 -0.3 0.7 1 0.6 -1.3 0.7 -0.3 0.6 1 0.7 -0.1 0.7 -0.2 0.6 0.1 0.7 0.6 0.6 -0.1 0.7 0.1 0.7 0.3 0.6 -0.7 0.7 -1.1 0.6 0.8 0.7 0.8 0.7 -1 0.6 0.1 0.7 -0.1 0.6 0 0.7 -0.6 0.6 0.4 0.7 -0.1 0.7 0.6 0.6 1 0.7 -0.7 0.6 -0.6 0.7 1.2 0.7 0.4 0.6 -1.1 0.7 1.2 0.6 0.5 0.7 -0.8 0.7 -0.5 0.6 1.2 0.7 0.2 0.6 -0.7 0.7 -1.1 0.7 -0.3 0.6 0.3 0.7 1.1 0.6 0.6 0.7 0.2 0.6 -0.7 0.7 -1.4 0.7 -0.9 0.6 0.2 0.7 0.7 0.6 0.5 0.7 1.1" fill="none" stroke="#00ff00" stroke-width="5.5" stroke-linejoin="round" stroke-linecap="butt" shape-rendering="crispEdges"/>
<line x1="383.25" y1="1474" x2="383.25" y2="1451" stroke="#000" stroke-width="7"/>
<line x1="548.00" y1="1474" x2="548.00" y2="1432" stroke="#000" stroke-width="7"/>
<line x1="712.75" y1="1474" x2="712.75" y2="1451" stroke="#000" stroke-width="7"/>
<line x1="877.50" y1="1474" x2="877.50" y2="1432" stroke="#000" stroke-width="7"/>
<line x1="1042.25" y1="1474" x2="1042.25" y2="1451" stroke="#000" stroke-width="7"/>
<line x1="1207.00" y1="1474" x2="1207.00" y2="1432" stroke="#000" stroke-width="7"/>
<line x1="1371.75" y1="1474" x2="1371.75" y2="1451" stroke="#000" stroke-width="7"/>
<line x1="1536.50" y1="1474" x2="1536.50" y2="1432" stroke="#000" stroke-width="7"/>
<line x1="1701.25" y1="1474" x2="1701.25" y2="1451" stroke="#000" stroke-width="7"/>
<line x1="1866.00" y1="1474" x2="1866.00" y2="1432" stroke="#000" stroke-width="7"/>
<line x1="2030.75" y1="1474" x2="2030.75" y2="1451" stroke="#000" stroke-width="7"/>
<text x="164.26" y="1592.60" font-size="108.50" font-weight="normal" textLength="107.85" lengthAdjust="spacingAndGlyphs">20</text>
<text x="493.32" y="1592.60" font-size="108.50" font-weight="normal" textLength="108.31" lengthAdjust="spacingAndGlyphs">30</text>
<text x="825.95" y="1592.60" font-size="108.50" font-weight="normal" textLength="105.05" lengthAdjust="spacingAndGlyphs">40</text>
<text x="1151.14" y="1592.60" font-size="108.50" font-weight="normal" textLength="109.54" lengthAdjust="spacingAndGlyphs">50</text>
<text x="1482.37" y="1592.60" font-size="108.50" font-weight="normal" textLength="107.73" lengthAdjust="spacingAndGlyphs">60</text>
<text x="1809.22" y="1592.60" font-size="108.50" font-weight="normal" textLength="110.49" lengthAdjust="spacingAndGlyphs">70</text>
<text x="2141.92" y="1592.60" font-size="108.50" font-weight="normal" textLength="107.16" lengthAdjust="spacingAndGlyphs">80</text>
<text><tspan x="830.93" y="1757.90" font-size="135.00" font-weight="normal" textLength="70.22" lengthAdjust="spacingAndGlyphs">2</tspan><tspan x="898.35" y="1756.33" font-size="181.00" font-weight="normal" textLength="97.61" lengthAdjust="spacingAndGlyphs" stroke="#000" stroke-width="3">θ</tspan> <tspan x="1031.02" y="1744.30" font-size="114.70" font-weight="normal" textLength="38.51" lengthAdjust="spacingAndGlyphs">(</tspan><tspan x="1069.75" y="1756.50" font-size="133.00" font-weight="normal" textLength="394.38" lengthAdjust="spacingAndGlyphs">degree</tspan><tspan x="1463.75" y="1744.30" font-size="114.70" font-weight="normal" textLength="39.80" lengthAdjust="spacingAndGlyphs">)</tspan></text>
<text transform="rotate(-90)"><tspan x="-1144.11" y="111.00" font-size="131.00" font-weight="normal" textLength="494.96" lengthAdjust="spacingAndGlyphs">Intensity</tspan> <tspan x="-613.93" y="112.00" font-size="130.00" font-weight="normal" textLength="284.76" lengthAdjust="spacingAndGlyphs">(a.u.)</tspan></text>
<text><tspan x="1823.02" y="174.41" font-size="94.60" font-weight="bold">+</tspan> <tspan x="1897.14 1956.20 1985.55" y="170.90" font-size="100.80" font-weight="normal">TiO</tspan><tspan x="2058.29" y="200.60" font-size="99.40" font-weight="normal" textLength="53.63" lengthAdjust="spacingAndGlyphs">2</tspan></text>
<text x="250.61" y="1381.20" font-size="92.70" font-weight="normal" textLength="103.28" lengthAdjust="spacingAndGlyphs">(a)</text>
<text x="250.62" y="1133.10" font-size="92.70" font-weight="normal" textLength="108.37" lengthAdjust="spacingAndGlyphs">(b)</text>
<text x="255.13" y="881.20" font-size="92.70" font-weight="normal" textLength="97.74" lengthAdjust="spacingAndGlyphs">(c)</text>
<text x="246.58" y="634.20" font-size="92.70" font-weight="normal" textLength="114.64" lengthAdjust="spacingAndGlyphs">(d)</text>
<text x="433.37" y="402.88" font-size="69.50" font-weight="normal">+</text>
<text transform="translate(474.50,339.80) rotate(-90)" x="-2.98" y="0" font-size="70.00" font-weight="normal" textLength="146.96" lengthAdjust="spacingAndGlyphs">(110)</text>
<text x="727.37" y="542.88" font-size="69.50" font-weight="normal">+</text>
<text transform="translate(768.50,480.10) rotate(-90)" x="-2.98" y="0" font-size="70.00" font-weight="normal" textLength="146.86" lengthAdjust="spacingAndGlyphs">(101)</text>
<text x="830.37" y="635.88" font-size="69.50" font-weight="normal">+</text>
<text transform="translate(871.60,572.70) rotate(-90)" x="-2.97" y="0" font-size="70.00" font-weight="normal" textLength="146.44" lengthAdjust="spacingAndGlyphs">(200)</text>
<text x="901.37" y="575.88" font-size="69.50" font-weight="normal">+</text>
<text transform="translate(942.00,512.20) rotate(-90)" x="-2.96" y="0" font-size="70.00" font-weight="normal" textLength="146.03" lengthAdjust="spacingAndGlyphs">(111)</text>
<text x="990.37" y="618.88" font-size="69.50" font-weight="normal">+</text>
<text transform="translate(1031.00,556.20) rotate(-90)" x="-2.99" y="0" font-size="70.00" font-weight="normal" textLength="147.28" lengthAdjust="spacingAndGlyphs">(210)</text>
<text x="1326.37" y="443.38" font-size="69.50" font-weight="normal">+</text>
<text transform="translate(1367.00,379.80) rotate(-90)" x="-2.96" y="0" font-size="70.00" font-weight="normal" textLength="145.71" lengthAdjust="spacingAndGlyphs">(211)</text>
<text x="1401.37" y="611.88" font-size="69.50" font-weight="normal">+</text>
<text transform="translate(1442.00,548.20) rotate(-90)" x="-2.97" y="0" font-size="70.00" font-weight="normal" textLength="146.34" lengthAdjust="spacingAndGlyphs">(220)</text>
<text x="1599.37" y="653.88" font-size="69.50" font-weight="normal">+</text>
<text transform="translate(1641.00,591.00) rotate(-90)" x="-2.98" y="0" font-size="70.00" font-weight="normal" textLength="146.65" lengthAdjust="spacingAndGlyphs">(002)</text>
<text x="1654.37" y="612.88" font-size="69.50" font-weight="normal">+</text>
<text transform="translate(1695.70,549.90) rotate(-90)" x="-2.98" y="0" font-size="70.00" font-weight="normal" textLength="146.65" lengthAdjust="spacingAndGlyphs">(310)</text>
<text x="1799.37" y="622.88" font-size="69.50" font-weight="normal">+</text>
<text transform="translate(1841.00,559.80) rotate(-90)" x="-2.98" y="0" font-size="70.00" font-weight="normal" textLength="146.65" lengthAdjust="spacingAndGlyphs">(301)</text>
<text x="1861.37" y="618.88" font-size="69.50" font-weight="normal">+</text>
<text transform="translate(1901.80,555.80) rotate(-90)" x="-2.98" y="0" font-size="70.00" font-weight="normal" textLength="147.07" lengthAdjust="spacingAndGlyphs">(112)</text>
</svg></body></html>
